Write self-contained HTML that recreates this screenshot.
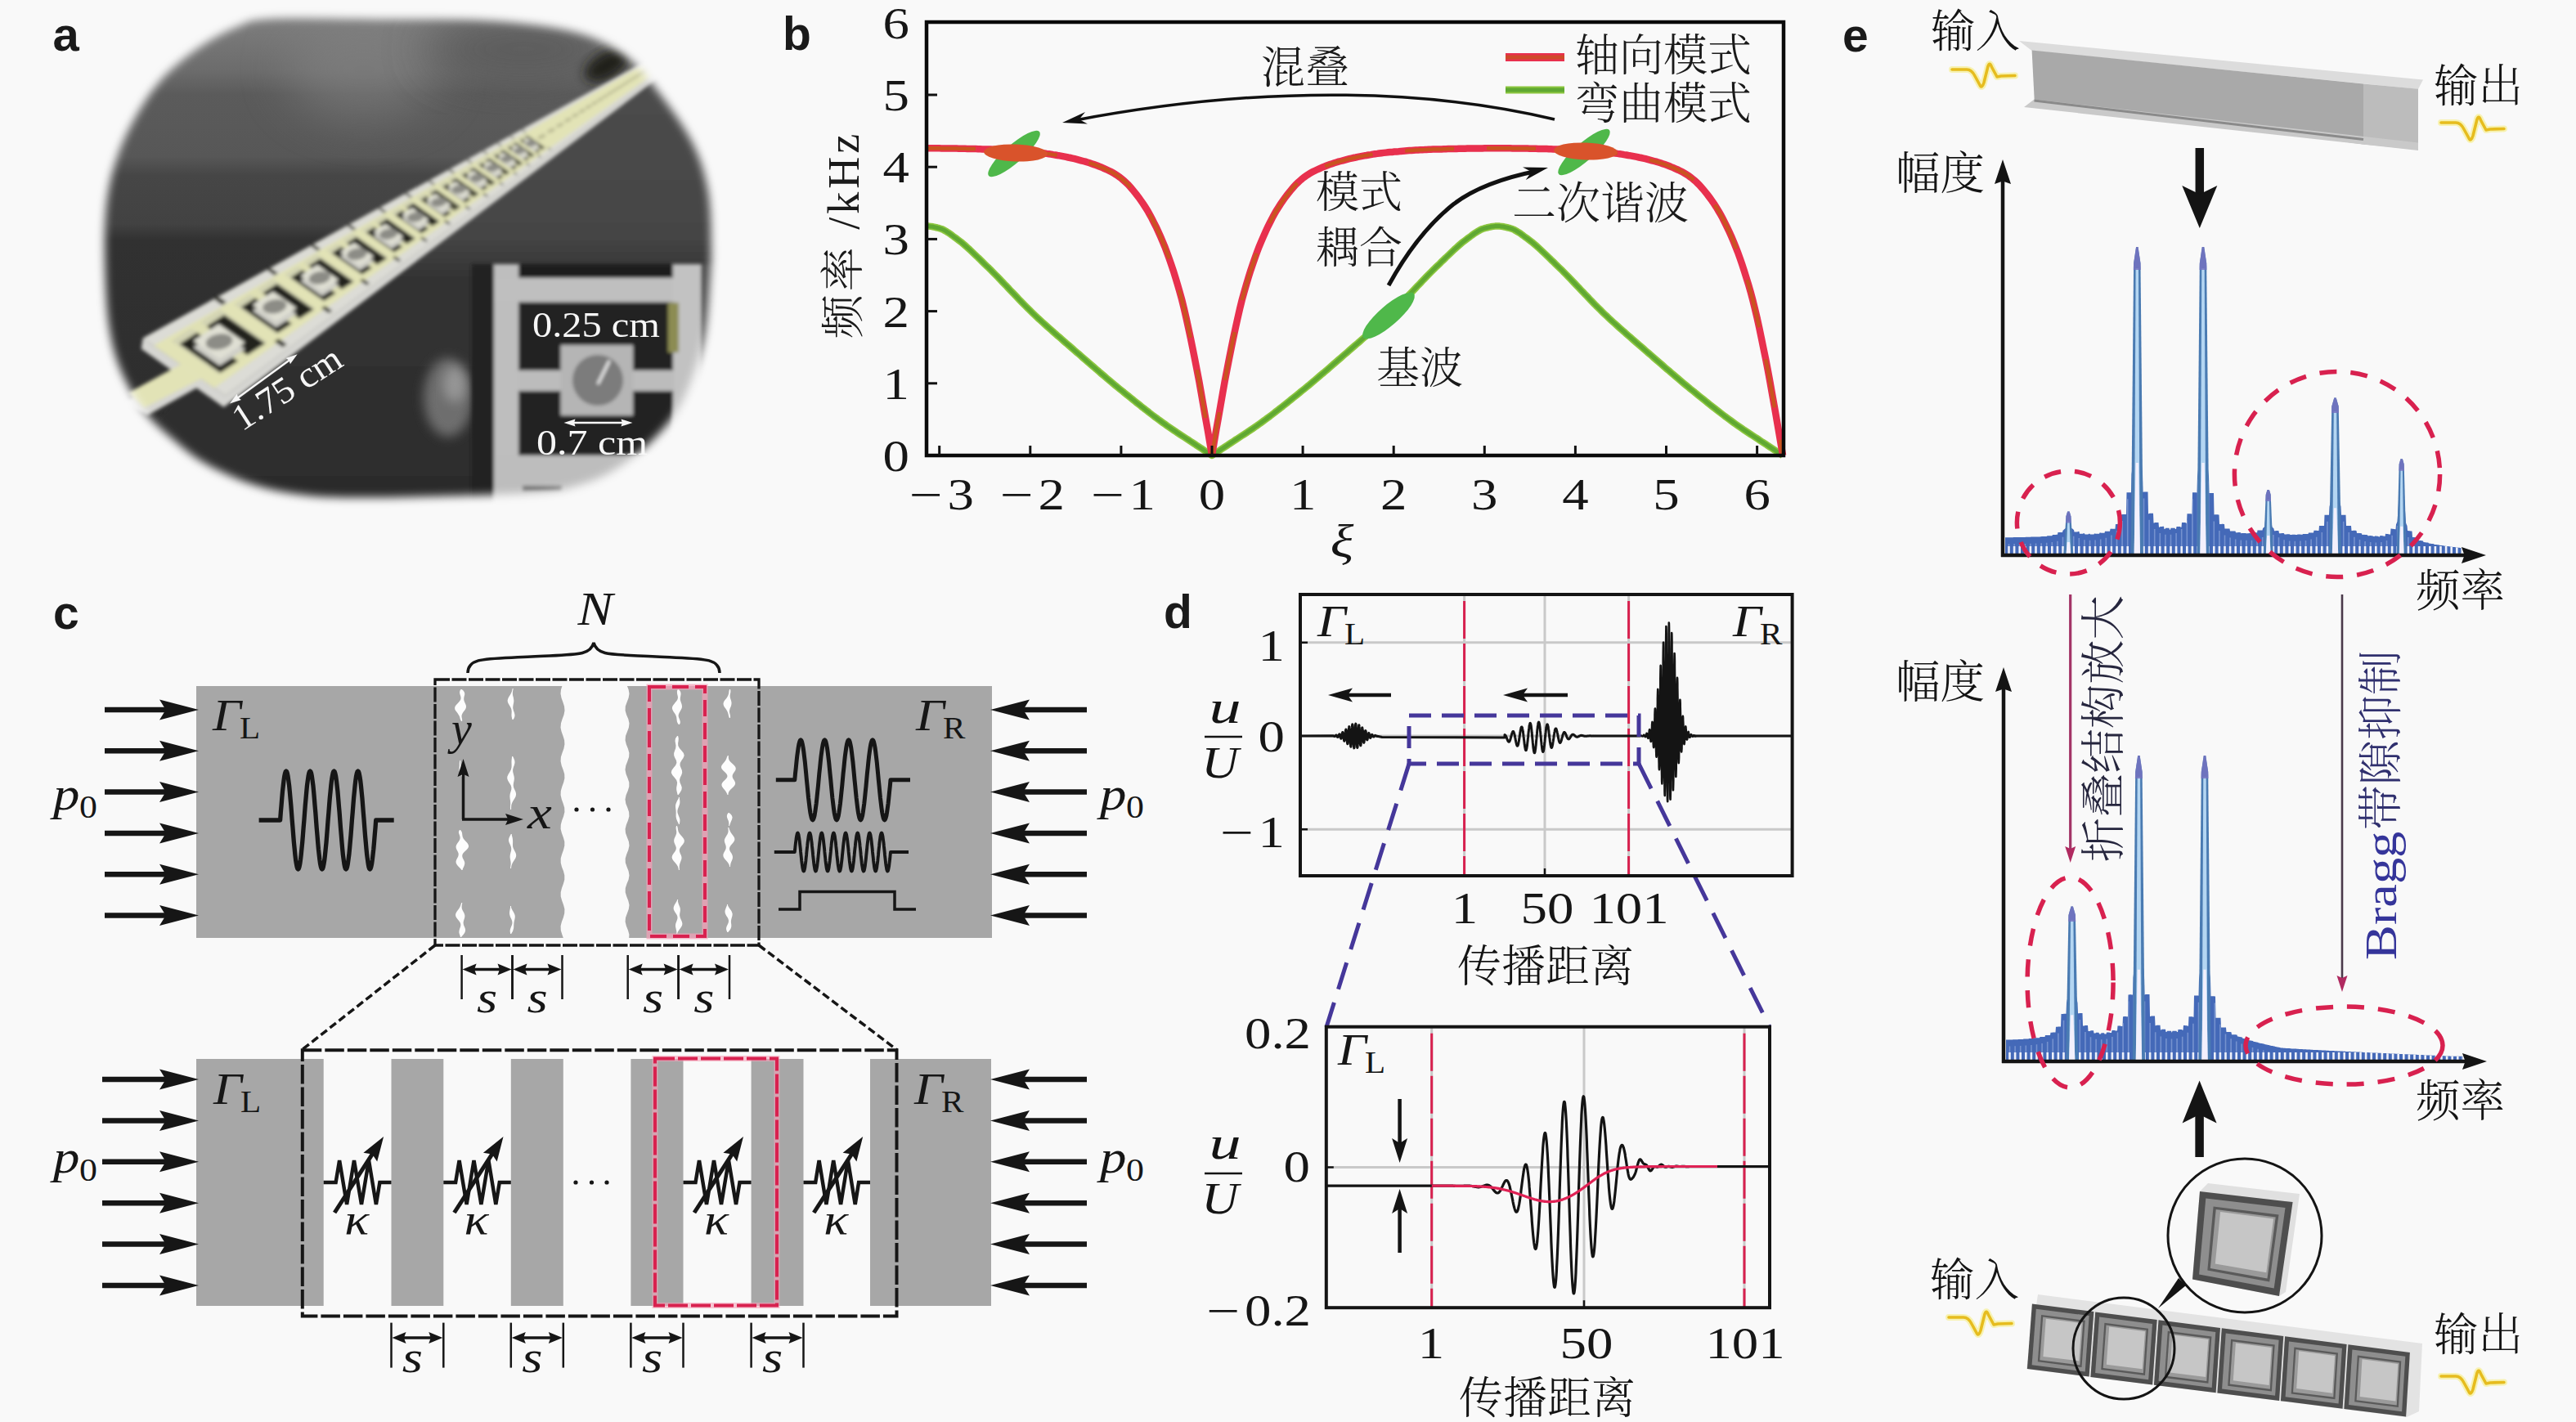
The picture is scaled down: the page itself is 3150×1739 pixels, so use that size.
<!DOCTYPE html>
<html lang="zh"><head><meta charset="utf-8"><title>figure</title>
<style>
html,body{margin:0;padding:0;background:#f9f9f9;}
body{width:3150px;height:1739px;overflow:hidden;}
svg{display:block;}
svg{font-family:"Liberation Serif","Noto Serif CJK SC",serif;font-weight:300;}
</style></head><body>
<svg width="3150" height="1739" viewBox="0 0 3150 1739">
<rect width="3150" height="1739" fill="#f9f9f9"/>
<g id="panel_a">
<defs>
<filter id="pblur" x="-10%" y="-10%" width="120%" height="120%"><feGaussianBlur stdDeviation="5.5"/></filter>
<filter id="b2" x="-20%" y="-20%" width="140%" height="140%"><feGaussianBlur stdDeviation="2.2"/></filter>
<filter id="b6" x="-30%" y="-30%" width="160%" height="160%"><feGaussianBlur stdDeviation="7"/></filter>
<filter id="b20" x="-50%" y="-50%" width="200%" height="200%"><feGaussianBlur stdDeviation="28"/></filter>
<mask id="pmask" maskUnits="userSpaceOnUse" x="90" y="0" width="830" height="660">
<path d="M330.3 23.0 C301.7 24.6 303.9 27.2 289.5 33.0 C275.0 38.8 258.8 47.4 243.6 58.0 C228.4 68.6 211.4 81.8 198.1 96.6 C184.8 111.4 173.3 129.6 163.8 146.7 C154.3 163.8 146.7 180.8 141.0 199.0 C135.3 217.2 131.7 234.2 129.6 256.0 C127.5 277.8 127.8 305.5 128.5 329.7 C129.2 354.0 130.5 380.9 133.7 401.5 C137.0 422.2 141.1 437.0 148.0 453.6 C155.0 470.3 164.8 487.6 175.2 501.4 C185.7 515.2 197.8 525.4 210.7 536.4 C223.5 547.4 234.9 557.8 252.3 567.4 C269.6 577.0 293.9 587.6 314.6 594.1 C335.3 600.5 355.4 603.6 376.5 606.0 C397.7 608.4 412.5 608.5 441.3 608.6 C470.0 608.7 513.7 607.6 548.9 606.6 C584.1 605.6 627.4 604.5 652.6 602.7 C677.7 600.8 684.1 599.9 699.7 595.7 C715.4 591.5 730.9 586.2 746.5 577.3 C762.2 568.3 780.1 554.9 793.9 542.0 C807.7 529.1 819.9 515.0 829.3 499.8 C838.8 484.6 845.0 466.3 850.4 450.7 C855.9 435.0 859.2 422.9 862.1 406.0 C864.9 389.1 866.3 367.0 867.5 349.4 C868.8 331.8 869.8 319.6 869.5 300.3 C869.2 280.9 869.4 254.2 865.7 233.4 C861.9 212.6 857.0 195.4 847.0 175.4 C837.0 155.4 819.4 131.2 805.6 113.3 C791.8 95.3 781.4 80.1 764.1 67.7 C746.7 55.4 729.4 46.1 701.7 39.0 C674.0 32.0 638.1 27.8 597.9 25.2 C557.8 22.6 505.5 23.8 460.9 23.4 C416.3 23.1 358.8 21.4 330.3 23.0Z" fill="#fff" filter="url(#pblur)"/></mask>
<linearGradient id="bgA" x1="0" y1="0" x2="0" y2="660" gradientUnits="userSpaceOnUse">
<stop offset="0.03" stop-color="#7e7e7e"/><stop offset="0.13" stop-color="#6c6c6c"/><stop offset="0.175" stop-color="#5b5b5b"/><stop offset="0.29" stop-color="#575757"/>
<stop offset="0.325" stop-color="#464646"/><stop offset="0.415" stop-color="#424242"/><stop offset="0.445" stop-color="#313131"/><stop offset="1" stop-color="#2b2b2b"/></linearGradient>
<linearGradient id="bgB" x1="0" y1="0" x2="0" y2="660" gradientUnits="userSpaceOnUse">
<stop offset="0.12" stop-color="#4d4d4d"/><stop offset="0.44" stop-color="#454545"/><stop offset="0.52" stop-color="#323232"/><stop offset="1" stop-color="#2b2b2b"/></linearGradient>
</defs>
<g mask="url(#pmask)"><rect x="90" y="0" width="830" height="660" fill="url(#bgA)" stroke="none" stroke-width="0" />
<ellipse cx="445" cy="85" rx="95" ry="60" fill="#858585" opacity="0.55" filter="url(#b20)"/>
<ellipse cx="640" cy="60" rx="120" ry="40" fill="#555" opacity="0.8" filter="url(#b20)"/>
<ellipse cx="742" cy="80" rx="30" ry="16" fill="#1f1f14" opacity="0.95" filter="url(#b6)" transform="rotate(-30 742 80)"/>
<path d="M150 560 L232 470 L930 -10 L930 670 L100 670Z" fill="url(#bgB)" filter="url(#b2)"/>
<ellipse cx="548" cy="486" rx="30" ry="48" fill="#8a8a8a" opacity="0.7" filter="url(#b6)"/>
<ellipse cx="556" cy="470" rx="14" ry="22" fill="#b0b0b0" opacity="0.6" filter="url(#b6)"/>
<g filter="url(#b2)"><path d="M174.7 413.4 L172.7 426.4 L273.6 498 L822.3 82 L822.3 77 L275.6 484Z" fill="#d6d6d2"/>
<path d="M222 447 L252 468 L180 508 L150 494Z" fill="#d6d6d2"/>
<path d="M222 445 L250 461 L176 499 L156 481Z" fill="#e2e3b6"/>
<path d="M174.7 413.4 L806 65.6 L822.3 77 L275.6 484Z" fill="#dcdcd6"/>
<path d="M187.8 422.6 L808.1 67 L820.1 75.4 L262.1 474.6Z" fill="#e2e3b6"/>
<path d="M209.4 416.9 L268.9 378.2 L326.7 418.6 L267.2 457.3Z" fill="#d3d4b4"/>
<path d="M219.4 420.8 L274.2 385.1 L324.4 420.1 L269.5 455.9Z" fill="#24241c"/>
<path d="M232.6 400.7 L244 393.3 L303.5 434.9 L292.1 442.3Z" fill="#dfe0b4"/>
<path d="M236.3 424.7 L267.5 404.3 L299.8 426.9 L268.6 447.2Z" fill="#cfcfc8"/>
<path d="M236.3 416.7 L267.5 396.3 L299.8 418.9 L268.6 439.3Z" fill="#e0e0d4"/>
<ellipse cx="268" cy="417.8" rx="16.5" ry="9.5" fill="#8c8c86" transform="rotate(-10 268 417.8)"/>
<path d="M260.6 365.2 L265.9 361.8 L277 369.5 L271.6 373Z" fill="#34342a"/>
<path d="M345.6 424.7 L350.9 421.2 L340.7 414.1 L335.4 417.5Z" fill="#34342a"/>
<path d="M285.9 372.2 L333.7 341.1 L385.5 377.3 L337.8 408.4Z" fill="#d3d4b4"/>
<path d="M294.6 375.8 L338.7 347.1 L383.7 378.5 L339.6 407.2Z" fill="#24241c"/>
<path d="M304.4 359.1 L313.6 353.1 L367 390.4 L357.8 396.4Z" fill="#dfe0b4"/>
<path d="M308.7 380 L333.8 363.6 L362.8 383.9 L337.7 400.2Z" fill="#cfcfc8"/>
<path d="M308.7 372.8 L333.8 356.4 L362.8 376.7 L337.7 393.1Z" fill="#e0e0d4"/>
<ellipse cx="335.7" cy="374.8" rx="14.8" ry="8.5" fill="#8c8c86" transform="rotate(-10 335.7 374.8)"/>
<path d="M325.8 329.8 L330 327 L340 333.9 L335.7 336.7Z" fill="#34342a"/>
<path d="M402 383.1 L406.3 380.3 L397.2 373.9 L392.9 376.7Z" fill="#34342a"/>
<path d="M347.7 336.1 L386.9 310.5 L433.9 343.4 L394.7 368.9Z" fill="#d3d4b4"/>
<path d="M355.4 339.4 L391.6 315.9 L432.4 344.4 L396.3 368Z" fill="#24241c"/>
<path d="M362.8 325.3 L370.4 320.4 L418.8 354.2 L411.3 359.1Z" fill="#dfe0b4"/>
<path d="M367.4 343.8 L388 330.3 L414.3 348.7 L393.7 362.1Z" fill="#cfcfc8"/>
<path d="M367.4 337.3 L388 323.8 L414.3 342.2 L393.7 355.6Z" fill="#e0e0d4"/>
<ellipse cx="390.8" cy="339.7" rx="13.4" ry="7.7" fill="#8c8c86" transform="rotate(-10 390.8 339.7)"/>
<path d="M379.4 300.5 L382.9 298.2 L391.9 304.5 L388.3 306.8Z" fill="#34342a"/>
<path d="M448.5 348.9 L452 346.6 L443.7 340.8 L440.2 343.1Z" fill="#34342a"/>
<path d="M398.6 306.3 L431.4 285 L474.4 315.1 L441.7 336.4Z" fill="#d3d4b4"/>
<path d="M405.6 309.5 L435.8 289.8 L473.2 315.9 L442.9 335.6Z" fill="#24241c"/>
<path d="M411.2 297.2 L417.5 293.1 L461.8 324.1 L455.5 328.2Z" fill="#dfe0b4"/>
<path d="M415.9 313.8 L433.1 302.6 L457.2 319.4 L439.9 330.6Z" fill="#cfcfc8"/>
<path d="M415.9 307.9 L433.1 296.7 L457.2 313.5 L439.9 324.7Z" fill="#e0e0d4"/>
<ellipse cx="436.5" cy="310.7" rx="12.3" ry="7.1" fill="#8c8c86" transform="rotate(-10 436.5 310.7)"/>
<path d="M424.2 276 L427.2 274.1 L435.4 279.8 L432.4 281.7Z" fill="#34342a"/>
<path d="M487.5 320.2 L490.4 318.3 L482.8 313 L479.9 314.9Z" fill="#34342a"/>
<path d="M441.3 281.4 L469.1 263.3 L508.8 291 L481 309.1Z" fill="#d3d4b4"/>
<path d="M447.7 284.3 L473.3 267.6 L507.7 291.7 L482.1 308.4Z" fill="#24241c"/>
<path d="M452 273.7 L457.3 270.2 L498.1 298.7 L492.8 302.2Z" fill="#dfe0b4"/>
<path d="M456.7 288.7 L471.3 279.2 L493.4 294.7 L478.8 304.2Z" fill="#cfcfc8"/>
<path d="M456.7 283.2 L471.3 273.7 L493.4 289.2 L478.8 298.7Z" fill="#e0e0d4"/>
<ellipse cx="475.1" cy="286.2" rx="11.3" ry="6.5" fill="#8c8c86" transform="rotate(-10 475.1 286.2)"/>
<path d="M462.3 255.1 L464.8 253.5 L472.4 258.8 L469.9 260.4Z" fill="#34342a"/>
<path d="M520.6 295.9 L523.1 294.3 L516.1 289.4 L513.6 291Z" fill="#34342a"/>
<path d="M477.7 260.2 L501.5 244.6 L538.3 270.3 L514.4 285.9Z" fill="#d3d4b4"/>
<path d="M483.5 263 L505.5 248.6 L537.4 270.9 L515.4 285.3Z" fill="#24241c"/>
<path d="M486.8 253.5 L491.4 250.5 L529.2 277 L524.6 280Z" fill="#dfe0b4"/>
<path d="M491.4 267.2 L504 259.1 L524.5 273.4 L512 281.6Z" fill="#cfcfc8"/>
<path d="M491.4 262.2 L504 254 L524.5 268.4 L512 276.5Z" fill="#e0e0d4"/>
<ellipse cx="508" cy="265.3" rx="10.5" ry="6" fill="#8c8c86" transform="rotate(-10 508 265.3)"/>
<path d="M495 237.2 L497.2 235.8 L504.2 240.7 L502.1 242.1Z" fill="#34342a"/>
<path d="M549.1 275 L551.2 273.6 L544.8 269.1 L542.6 270.5Z" fill="#34342a"/>
<path d="M509 241.9 L529.7 228.4 L563.9 252.4 L543.2 265.9Z" fill="#d3d4b4"/>
<path d="M514.3 244.6 L533.4 232.1 L563.2 252.9 L544 265.4Z" fill="#4a4a38"/>
<path d="M516.8 236.1 L520.8 233.5 L556.1 258.2 L552.1 260.8Z" fill="#dfe0b4"/>
<path d="M521.4 248.8 L532.3 241.7 L551.5 255.1 L540.6 262.2Z" fill="#cfcfc8"/>
<path d="M521.4 244 L532.3 236.9 L551.5 250.3 L540.6 257.4Z" fill="#e0e0d4"/>
<ellipse cx="536.5" cy="247.2" rx="9.8" ry="5.6" fill="#8c8c86" transform="rotate(-10 536.5 247.2)"/>
<path d="M523.5 221.6 L525.3 220.4 L531.9 225 L530 226.2Z" fill="#34342a"/>
<path d="M573.9 256.8 L575.7 255.6 L569.7 251.4 L567.8 252.6Z" fill="#34342a"/>
<path d="M536.2 226.1 L554.3 214.2 L586.4 236.7 L568.3 248.5Z" fill="#d3d4b4"/>
<path d="M541.1 228.6 L557.9 217.7 L585.7 237.1 L569 248.1Z" fill="#4a4a38"/>
<path d="M543 221 L546.5 218.7 L579.6 241.8 L576.1 244.1Z" fill="#dfe0b4"/>
<path d="M547.6 232.7 L557.1 226.4 L575 239 L565.5 245.2Z" fill="#cfcfc8"/>
<path d="M547.6 228.2 L557.1 222 L575 234.5 L565.5 240.8Z" fill="#e0e0d4"/>
<ellipse cx="561.3" cy="231.4" rx="9.2" ry="5.3" fill="#8c8c86" transform="rotate(-10 561.3 231.4)"/>
<path d="M548.4 207.9 L550 206.8 L556.2 211.1 L554.5 212.2Z" fill="#34342a"/>
<path d="M595.6 240.9 L597.2 239.8 L591.6 235.9 L589.9 236.9Z" fill="#34342a"/>
<path d="M560.1 212.1 L576.1 201.7 L606.3 222.8 L590.2 233.3Z" fill="#d3d4b4"/>
<path d="M564.7 214.5 L579.5 204.9 L605.7 223.2 L590.8 232.8Z" fill="#4a4a38"/>
<path d="M566.1 207.6 L569.2 205.6 L600.2 227.3 L597.2 229.3Z" fill="#dfe0b4"/>
<path d="M570.5 218.5 L579 213 L595.8 224.8 L587.4 230.3Z" fill="#cfcfc8"/>
<path d="M570.5 214.3 L579 208.8 L595.8 220.6 L587.4 226.1Z" fill="#e0e0d4"/>
<ellipse cx="583.2" cy="217.5" rx="8.6" ry="5" fill="#8c8c86" transform="rotate(-10 583.2 217.5)"/>
<path d="M570.4 195.8 L571.9 194.9 L577.7 198.9 L576.2 199.8Z" fill="#34342a"/>
<path d="M614.8 226.8 L616.3 225.9 L610.9 222.2 L609.5 223.1Z" fill="#34342a"/>
<path d="M581.2 199.8 L595.5 190.5 L624 210.4 L609.7 219.7Z" fill="#d3d4b4"/>
<path d="M585.5 202.1 L598.7 193.5 L623.4 210.8 L610.2 219.4Z" fill="#4a4a38"/>
<path d="M586.5 195.8 L589.3 194 L618.6 214.5 L615.9 216.3Z" fill="#dfe0b4"/>
<path d="M590.9 206 L598.4 201.1 L614.3 212.2 L606.8 217.1Z" fill="#cfcfc8"/>
<path d="M590.9 202 L598.4 197.1 L614.3 208.3 L606.8 213.1Z" fill="#e0e0d4"/>
<ellipse cx="602.6" cy="205.1" rx="8.1" ry="4.7" fill="#8c8c86" transform="rotate(-10 602.6 205.1)"/>
<path d="M590.1 185 L591.3 184.2 L596.8 188 L595.5 188.8Z" fill="#34342a"/>
<path d="M631.9 214.3 L633.2 213.5 L628.2 209.9 L626.9 210.8Z" fill="#34342a"/>
<path d="M600 188.9 L612.8 180.5 L639.8 199.4 L627 207.7Z" fill="#d3d4b4"/>
<path d="M604.1 191 L615.9 183.3 L639.3 199.7 L627.5 207.4Z" fill="#4a4a38"/>
<path d="M604.8 185.2 L607.3 183.6 L635 203 L632.6 204.6Z" fill="#dfe0b4"/>
<path d="M609 194.8 L615.7 190.4 L630.8 200.9 L624.1 205.3Z" fill="#cfcfc8"/>
<path d="M609 191 L615.7 186.7 L630.8 197.2 L624.1 201.6Z" fill="#e0e0d4"/>
<ellipse cx="619.9" cy="194.1" rx="7.7" ry="4.4" fill="#8c8c86" transform="rotate(-10 619.9 194.1)"/>
<path d="M607.6 175.3 L608.8 174.6 L613.9 178.2 L612.8 178.9Z" fill="#34342a"/>
<path d="M647.3 203.1 L648.4 202.3 L643.7 199 L642.5 199.7Z" fill="#34342a"/>
<path d="M616.9 179 L628.5 171.5 L654.1 189.4 L642.5 196.9Z" fill="#d3d4b4"/>
<path d="M620.8 181.1 L631.4 174.2 L653.6 189.7 L643 196.6Z" fill="#4a4a38"/>
<path d="M621.2 175.7 L623.4 174.3 L649.8 192.7 L647.6 194.1Z" fill="#dfe0b4"/>
<path d="M625.3 184.7 L631.4 180.8 L645.7 190.8 L639.6 194.7Z" fill="#cfcfc8"/>
<path d="M625.3 181.2 L631.4 177.2 L645.7 187.2 L639.6 191.2Z" fill="#e0e0d4"/>
<ellipse cx="635.5" cy="184.2" rx="7.3" ry="4.2" fill="#8c8c86" transform="rotate(-10 635.5 184.2)"/>
<path d="M623.5 166.6 L624.5 166 L629.4 169.4 L628.4 170Z" fill="#34342a"/>
<path d="M661.1 192.9 L662.1 192.3 L657.6 189.1 L656.6 189.8Z" fill="#34342a"/>
<path d="M632.2 170.1 L642.6 163.3 L667 180.4 L656.5 187.2Z" fill="#d3d4b4"/>
<path d="M635.8 172.1 L645.4 165.9 L666.6 180.6 L656.9 186.9Z" fill="#4a4a38"/>
<path d="M636 167.2 L638 165.8 L663.1 183.4 L661.1 184.7Z" fill="#dfe0b4"/>
<path d="M640 175.7 L645.5 172.1 L659.1 181.6 L653.6 185.2Z" fill="#cfcfc8"/>
<path d="M640 172.3 L645.5 168.7 L659.1 178.2 L653.6 181.8Z" fill="#e0e0d4"/>
<ellipse cx="649.6" cy="175.3" rx="7" ry="4" fill="#8c8c86" transform="rotate(-10 649.6 175.3)"/>
<path d="M637.8 158.7 L638.8 158.1 L643.4 161.4 L642.5 162Z" fill="#34342a"/>
<path d="M673.6 183.8 L674.6 183.2 L670.3 180.2 L669.3 180.8Z" fill="#34342a"/>
<ellipse cx="662.4" cy="167.1" rx="5.2" ry="2.4" fill="#9a9a78" opacity="0.55" transform="rotate(-25 662.4 167.1)"/>
<ellipse cx="674" cy="159.7" rx="5" ry="2.3" fill="#9a9a78" opacity="0.55" transform="rotate(-25 674 159.7)"/>
<ellipse cx="684.7" cy="152.9" rx="4.8" ry="2.2" fill="#9a9a78" opacity="0.55" transform="rotate(-25 684.7 152.9)"/>
<ellipse cx="694.5" cy="146.7" rx="4.6" ry="2.1" fill="#9a9a78" opacity="0.55" transform="rotate(-25 694.5 146.7)"/>
<ellipse cx="703.6" cy="140.9" rx="4.4" ry="2" fill="#9a9a78" opacity="0.55" transform="rotate(-25 703.6 140.9)"/>
<ellipse cx="711.9" cy="135.6" rx="4.2" ry="2" fill="#9a9a78" opacity="0.55" transform="rotate(-25 711.9 135.6)"/>
<ellipse cx="719.7" cy="130.7" rx="4.1" ry="1.9" fill="#9a9a78" opacity="0.55" transform="rotate(-25 719.7 130.7)"/>
<ellipse cx="726.9" cy="126.1" rx="4" ry="1.8" fill="#9a9a78" opacity="0.55" transform="rotate(-25 726.9 126.1)"/>
<ellipse cx="733.7" cy="121.8" rx="3.8" ry="1.8" fill="#9a9a78" opacity="0.55" transform="rotate(-25 733.7 121.8)"/>
<ellipse cx="740" cy="117.8" rx="3.7" ry="1.7" fill="#9a9a78" opacity="0.55" transform="rotate(-25 740 117.8)"/>
<ellipse cx="745.9" cy="114" rx="3.6" ry="1.7" fill="#9a9a78" opacity="0.55" transform="rotate(-25 745.9 114)"/>
<ellipse cx="751.4" cy="110.5" rx="3.5" ry="1.6" fill="#9a9a78" opacity="0.55" transform="rotate(-25 751.4 110.5)"/>
<ellipse cx="756.7" cy="107.2" rx="3.4" ry="1.6" fill="#9a9a78" opacity="0.55" transform="rotate(-25 756.7 107.2)"/>
<ellipse cx="761.6" cy="104.1" rx="3.3" ry="1.5" fill="#9a9a78" opacity="0.55" transform="rotate(-25 761.6 104.1)"/>
<ellipse cx="766.2" cy="101.1" rx="3.2" ry="1.5" fill="#9a9a78" opacity="0.55" transform="rotate(-25 766.2 101.1)"/>
<ellipse cx="770.6" cy="98.3" rx="3.1" ry="1.4" fill="#9a9a78" opacity="0.55" transform="rotate(-25 770.6 98.3)"/>
<ellipse cx="774.8" cy="95.7" rx="3" ry="1.4" fill="#9a9a78" opacity="0.55" transform="rotate(-25 774.8 95.7)"/>
<ellipse cx="778.7" cy="93.2" rx="2.9" ry="1.4" fill="#9a9a78" opacity="0.55" transform="rotate(-25 778.7 93.2)"/>
<ellipse cx="782.4" cy="90.8" rx="2.9" ry="1.3" fill="#9a9a78" opacity="0.55" transform="rotate(-25 782.4 90.8)"/>
<ellipse cx="786" cy="88.5" rx="2.8" ry="1.3" fill="#9a9a78" opacity="0.55" transform="rotate(-25 786 88.5)"/>
<ellipse cx="789.4" cy="86.4" rx="2.7" ry="1.3" fill="#9a9a78" opacity="0.55" transform="rotate(-25 789.4 86.4)"/>
<ellipse cx="792.6" cy="84.3" rx="2.7" ry="1.2" fill="#9a9a78" opacity="0.55" transform="rotate(-25 792.6 84.3)"/></g>
<g filter="url(#b2)"><rect x="577" y="323" width="345" height="340" fill="#202020" stroke="none" stroke-width="0" />
<rect x="604" y="323" width="30" height="340" fill="#bebebe" stroke="none" stroke-width="0" />
<rect x="604" y="339.5" width="253" height="30" fill="#bfbfbf" stroke="none" stroke-width="0" />
<rect x="823" y="323" width="34" height="300" fill="#c2c2c2" stroke="none" stroke-width="0" />
<rect x="857" y="323" width="60" height="300" fill="#4a4a4a" stroke="none" stroke-width="0" />
<rect x="636.5" y="323" width="183" height="16.5" fill="#1b1b1b" stroke="none" stroke-width="0" />
<rect x="817" y="370" width="13" height="61" fill="#8c8c52" stroke="none" stroke-width="0" />
<rect x="634" y="453" width="190" height="25" fill="#bcbcbc" stroke="none" stroke-width="0" />
<rect x="685.5" y="422" width="88.5" height="86" fill="#b5b5b5" stroke="none" stroke-width="0" />
<circle cx="731" cy="465" r="31" fill="#7b7b7b"/>
<line x1="731" y1="469.8" x2="745.3" y2="441" stroke="#f6f6f6" stroke-width="3" />
<rect x="604" y="557" width="320" height="70" fill="#bdbdbd" stroke="none" stroke-width="0" />
<rect x="639" y="594" width="48" height="7" fill="#6a6a6a" stroke="none" stroke-width="0" /></g>
<text x="651" y="412" font-size="45" text-anchor="start" fill="#f6f6f6" textLength="156" lengthAdjust="spacingAndGlyphs">0.25 cm</text>
<text x="656" y="556" font-size="45" text-anchor="start" fill="#f6f6f6" textLength="136" lengthAdjust="spacingAndGlyphs">0.7 cm</text>
<line x1="696" y1="517" x2="767" y2="517" stroke="#f6f6f6" stroke-width="2.5" /><path d="M689.5 517 L703.5 512.5 L702.1 517 L703.5 521.5Z" fill="#f6f6f6"/><path d="M773.5 517 L759.5 521.5 L760.9 517 L759.5 512.5Z" fill="#f6f6f6"/>
<text x="296" y="528" font-size="45" text-anchor="start" fill="#f6f6f6" transform="rotate(-33 296 528)" textLength="150" lengthAdjust="spacingAndGlyphs">1.75 cm</text>
<line x1="287" y1="489.2" x2="357.6" y2="437.7" stroke="#f6f6f6" stroke-width="2.5" /><path d="M281 493.6 L289.7 481.7 L291.2 486.2 L295 489Z" fill="#f6f6f6"/><path d="M363.6 433.3 L354.9 445.2 L353.4 440.7 L349.6 437.9Z" fill="#f6f6f6"/></g>
<text x="64.5" y="61.5" font-size="58" text-anchor="start" fill="#1a1a1a" font-weight="bold" style='font-family:"Liberation Sans","Noto Sans CJK SC",sans-serif' >a</text>
</g>
<g id="panel_b">
<path d="M1133 276.5 L1135.6 276.6 L1138.2 276.9 L1140.8 277.3 L1143.5 277.9 L1146.1 278.5 L1148.7 279.2 L1151.3 280 L1154 281.2 L1156.6 282.7 L1159.2 284.3 L1161.8 286.1 L1164.5 288 L1167.1 290 L1169.7 291.8 L1172.3 293.8 L1175 295.8 L1177.6 298 L1180.2 300.3 L1182.8 302.6 L1185.5 305 L1188.1 307.5 L1190.7 310 L1193.3 312.5 L1196 315 L1198.6 317.6 L1201.2 320.1 L1203.8 322.7 L1206.4 325.2 L1209.1 327.7 L1211.7 330.3 L1214.3 332.9 L1216.9 335.6 L1219.6 338.3 L1222.2 341 L1224.8 343.7 L1227.4 346.5 L1230.1 349.2 L1232.7 352 L1235.3 354.8 L1237.9 357.5 L1240.6 360.3 L1243.2 363 L1245.8 365.8 L1248.4 368.5 L1251.1 371.2 L1253.7 373.9 L1256.3 376.5 L1258.9 379.1 L1261.6 381.7 L1264.2 384.2 L1266.8 386.7 L1269.4 389.2 L1272.1 391.6 L1274.7 394 L1277.3 396.4 L1279.9 398.7 L1282.6 401.1 L1285.2 403.4 L1287.8 405.7 L1290.4 408.1 L1293.1 410.4 L1295.7 412.6 L1298.3 414.9 L1300.9 417.2 L1303.5 419.5 L1306.2 421.7 L1308.8 424 L1311.4 426.3 L1314 428.6 L1316.7 430.9 L1319.3 433.1 L1321.9 435.4 L1324.5 437.7 L1327.2 440 L1329.8 442.3 L1332.4 444.5 L1335 446.8 L1337.7 449.1 L1340.3 451.4 L1342.9 453.6 L1345.5 455.9 L1348.2 458.1 L1350.8 460.3 L1353.4 462.6 L1356 464.8 L1358.7 467 L1361.3 469.2 L1363.9 471.4 L1366.5 473.5 L1369.2 475.7 L1371.8 477.8 L1374.4 479.9 L1377 482.1 L1379.7 484.2 L1382.3 486.3 L1384.9 488.4 L1387.5 490.5 L1390.1 492.6 L1392.8 494.7 L1395.4 496.8 L1398 498.8 L1400.6 500.9 L1403.3 502.9 L1405.9 505 L1408.5 507 L1411.1 509 L1413.8 510.9 L1416.4 512.9 L1419 514.8 L1421.6 516.7 L1424.3 518.6 L1426.9 520.5 L1429.5 522.3 L1432.1 524.1 L1434.8 525.9 L1437.4 527.6 L1440 529.4 L1442.6 531.1 L1445.3 532.8 L1447.9 534.5 L1450.5 536.2 L1453.1 537.9 L1455.8 539.7 L1458.4 541.4 L1461 543.1 L1463.6 544.9 L1466.3 546.6 L1468.9 548.3 L1471.5 550.1 L1474.1 551.8 L1476.8 553.5 L1479.4 555.3 L1482 557 L1484.6 555.3 L1487.2 553.5 L1489.9 551.8 L1492.5 550.1 L1495.1 548.3 L1497.7 546.6 L1500.4 544.9 L1503 543.1 L1505.6 541.4 L1508.2 539.7 L1510.9 537.9 L1513.5 536.2 L1516.1 534.5 L1518.7 532.8 L1521.4 531.1 L1524 529.4 L1526.6 527.6 L1529.2 525.9 L1531.9 524.1 L1534.5 522.3 L1537.1 520.5 L1539.7 518.6 L1542.4 516.7 L1545 514.8 L1547.6 512.9 L1550.2 510.9 L1552.9 509 L1555.5 507 L1558.1 505 L1560.7 502.9 L1563.4 500.9 L1566 498.8 L1568.6 496.8 L1571.2 494.7 L1573.9 492.6 L1576.5 490.5 L1579.1 488.4 L1581.7 486.3 L1584.3 484.2 L1587 482.1 L1589.6 479.9 L1592.2 477.8 L1594.8 475.7 L1597.5 473.5 L1600.1 471.4 L1602.7 469.2 L1605.3 467 L1608 464.8 L1610.6 462.6 L1613.2 460.3 L1615.8 458.1 L1618.5 455.9 L1621.1 453.6 L1623.7 451.4 L1626.3 449.1 L1629 446.8 L1631.6 444.5 L1634.2 442.3 L1636.8 440 L1639.5 437.7 L1642.1 435.4 L1644.7 433.1 L1647.3 430.9 L1650 428.6 L1652.6 426.3 L1655.2 424 L1657.8 421.7 L1660.5 419.5 L1663.1 417.2 L1665.7 414.9 L1668.3 412.6 L1670.9 410.4 L1673.6 408.1 L1676.2 405.7 L1678.8 403.4 L1681.4 401.1 L1684.1 398.7 L1686.7 396.4 L1689.3 394 L1691.9 391.6 L1694.6 389.2 L1697.2 386.7 L1699.8 384.2 L1702.4 381.7 L1705.1 379.1 L1707.7 376.5 L1710.3 373.9 L1712.9 371.2 L1715.6 368.5 L1718.2 365.8 L1720.8 363 L1723.4 360.3 L1726.1 357.5 L1728.7 354.8 L1731.3 352 L1733.9 349.2 L1736.6 346.5 L1739.2 343.7 L1741.8 341 L1744.4 338.3 L1747.1 335.6 L1749.7 332.9 L1752.3 330.3 L1754.9 327.7 L1757.6 325.2 L1760.2 322.7 L1762.8 320.1 L1765.4 317.6 L1768 315 L1770.7 312.5 L1773.3 310 L1775.9 307.5 L1778.5 305 L1781.2 302.6 L1783.8 300.3 L1786.4 298 L1789 295.8 L1791.7 293.8 L1794.3 291.8 L1796.9 290 L1799.5 288 L1802.2 286.1 L1804.8 284.3 L1807.4 282.7 L1810 281.2 L1812.7 280 L1815.3 279.2 L1817.9 278.5 L1820.5 277.9 L1823.2 277.3 L1825.8 276.9 L1828.4 276.6 L1831 276.5 L1833.7 276.6 L1836.3 276.9 L1838.9 277.3 L1841.5 277.9 L1844.2 278.5 L1846.8 279.2 L1849.4 280 L1852 281.2 L1854.6 282.7 L1857.3 284.3 L1859.9 286.1 L1862.5 288 L1865.1 290 L1867.8 291.8 L1870.4 293.8 L1873 295.8 L1875.6 298 L1878.3 300.3 L1880.9 302.6 L1883.5 305 L1886.1 307.5 L1888.8 310 L1891.4 312.5 L1894 315 L1896.6 317.6 L1899.3 320.1 L1901.9 322.7 L1904.5 325.2 L1907.1 327.7 L1909.8 330.3 L1912.4 332.9 L1915 335.6 L1917.6 338.3 L1920.3 341 L1922.9 343.7 L1925.5 346.5 L1928.1 349.2 L1930.8 352 L1933.4 354.8 L1936 357.5 L1938.6 360.3 L1941.3 363 L1943.9 365.8 L1946.5 368.5 L1949.1 371.2 L1951.7 373.9 L1954.4 376.5 L1957 379.1 L1959.6 381.7 L1962.2 384.2 L1964.9 386.7 L1967.5 389.2 L1970.1 391.6 L1972.7 394 L1975.4 396.4 L1978 398.7 L1980.6 401.1 L1983.2 403.4 L1985.9 405.7 L1988.5 408.1 L1991.1 410.4 L1993.7 412.6 L1996.4 414.9 L1999 417.2 L2001.6 419.5 L2004.2 421.7 L2006.9 424 L2009.5 426.3 L2012.1 428.6 L2014.7 430.9 L2017.4 433.1 L2020 435.4 L2022.6 437.7 L2025.2 440 L2027.9 442.3 L2030.5 444.5 L2033.1 446.8 L2035.7 449.1 L2038.4 451.4 L2041 453.6 L2043.6 455.9 L2046.2 458.1 L2048.8 460.3 L2051.5 462.6 L2054.1 464.8 L2056.7 467 L2059.3 469.2 L2062 471.4 L2064.6 473.5 L2067.2 475.7 L2069.8 477.8 L2072.5 479.9 L2075.1 482.1 L2077.7 484.2 L2080.3 486.3 L2083 488.4 L2085.6 490.5 L2088.2 492.6 L2090.8 494.7 L2093.5 496.8 L2096.1 498.8 L2098.7 500.9 L2101.3 502.9 L2104 505 L2106.6 507 L2109.2 509 L2111.8 510.9 L2114.5 512.9 L2117.1 514.8 L2119.7 516.7 L2122.3 518.6 L2125 520.5 L2127.6 522.3 L2130.2 524.1 L2132.8 525.9 L2135.4 527.6 L2138.1 529.4 L2140.7 531.1 L2143.3 532.8 L2145.9 534.5 L2148.6 536.2 L2151.2 537.9 L2153.8 539.7 L2156.4 541.4 L2159.1 543.1 L2161.7 544.9 L2164.3 546.6 L2166.9 548.3 L2169.6 550.1 L2172.2 551.8 L2174.8 553.5 L2177.4 555.3 L2180.1 557" stroke="#8cc63f" stroke-width="8.5" fill="none" stroke-linejoin="round"/>
<path d="M1133 276.5 L1135.6 276.6 L1138.2 276.9 L1140.8 277.3 L1143.5 277.9 L1146.1 278.5 L1148.7 279.2 L1151.3 280 L1154 281.2 L1156.6 282.7 L1159.2 284.3 L1161.8 286.1 L1164.5 288 L1167.1 290 L1169.7 291.8 L1172.3 293.8 L1175 295.8 L1177.6 298 L1180.2 300.3 L1182.8 302.6 L1185.5 305 L1188.1 307.5 L1190.7 310 L1193.3 312.5 L1196 315 L1198.6 317.6 L1201.2 320.1 L1203.8 322.7 L1206.4 325.2 L1209.1 327.7 L1211.7 330.3 L1214.3 332.9 L1216.9 335.6 L1219.6 338.3 L1222.2 341 L1224.8 343.7 L1227.4 346.5 L1230.1 349.2 L1232.7 352 L1235.3 354.8 L1237.9 357.5 L1240.6 360.3 L1243.2 363 L1245.8 365.8 L1248.4 368.5 L1251.1 371.2 L1253.7 373.9 L1256.3 376.5 L1258.9 379.1 L1261.6 381.7 L1264.2 384.2 L1266.8 386.7 L1269.4 389.2 L1272.1 391.6 L1274.7 394 L1277.3 396.4 L1279.9 398.7 L1282.6 401.1 L1285.2 403.4 L1287.8 405.7 L1290.4 408.1 L1293.1 410.4 L1295.7 412.6 L1298.3 414.9 L1300.9 417.2 L1303.5 419.5 L1306.2 421.7 L1308.8 424 L1311.4 426.3 L1314 428.6 L1316.7 430.9 L1319.3 433.1 L1321.9 435.4 L1324.5 437.7 L1327.2 440 L1329.8 442.3 L1332.4 444.5 L1335 446.8 L1337.7 449.1 L1340.3 451.4 L1342.9 453.6 L1345.5 455.9 L1348.2 458.1 L1350.8 460.3 L1353.4 462.6 L1356 464.8 L1358.7 467 L1361.3 469.2 L1363.9 471.4 L1366.5 473.5 L1369.2 475.7 L1371.8 477.8 L1374.4 479.9 L1377 482.1 L1379.7 484.2 L1382.3 486.3 L1384.9 488.4 L1387.5 490.5 L1390.1 492.6 L1392.8 494.7 L1395.4 496.8 L1398 498.8 L1400.6 500.9 L1403.3 502.9 L1405.9 505 L1408.5 507 L1411.1 509 L1413.8 510.9 L1416.4 512.9 L1419 514.8 L1421.6 516.7 L1424.3 518.6 L1426.9 520.5 L1429.5 522.3 L1432.1 524.1 L1434.8 525.9 L1437.4 527.6 L1440 529.4 L1442.6 531.1 L1445.3 532.8 L1447.9 534.5 L1450.5 536.2 L1453.1 537.9 L1455.8 539.7 L1458.4 541.4 L1461 543.1 L1463.6 544.9 L1466.3 546.6 L1468.9 548.3 L1471.5 550.1 L1474.1 551.8 L1476.8 553.5 L1479.4 555.3 L1482 557 L1484.6 555.3 L1487.2 553.5 L1489.9 551.8 L1492.5 550.1 L1495.1 548.3 L1497.7 546.6 L1500.4 544.9 L1503 543.1 L1505.6 541.4 L1508.2 539.7 L1510.9 537.9 L1513.5 536.2 L1516.1 534.5 L1518.7 532.8 L1521.4 531.1 L1524 529.4 L1526.6 527.6 L1529.2 525.9 L1531.9 524.1 L1534.5 522.3 L1537.1 520.5 L1539.7 518.6 L1542.4 516.7 L1545 514.8 L1547.6 512.9 L1550.2 510.9 L1552.9 509 L1555.5 507 L1558.1 505 L1560.7 502.9 L1563.4 500.9 L1566 498.8 L1568.6 496.8 L1571.2 494.7 L1573.9 492.6 L1576.5 490.5 L1579.1 488.4 L1581.7 486.3 L1584.3 484.2 L1587 482.1 L1589.6 479.9 L1592.2 477.8 L1594.8 475.7 L1597.5 473.5 L1600.1 471.4 L1602.7 469.2 L1605.3 467 L1608 464.8 L1610.6 462.6 L1613.2 460.3 L1615.8 458.1 L1618.5 455.9 L1621.1 453.6 L1623.7 451.4 L1626.3 449.1 L1629 446.8 L1631.6 444.5 L1634.2 442.3 L1636.8 440 L1639.5 437.7 L1642.1 435.4 L1644.7 433.1 L1647.3 430.9 L1650 428.6 L1652.6 426.3 L1655.2 424 L1657.8 421.7 L1660.5 419.5 L1663.1 417.2 L1665.7 414.9 L1668.3 412.6 L1670.9 410.4 L1673.6 408.1 L1676.2 405.7 L1678.8 403.4 L1681.4 401.1 L1684.1 398.7 L1686.7 396.4 L1689.3 394 L1691.9 391.6 L1694.6 389.2 L1697.2 386.7 L1699.8 384.2 L1702.4 381.7 L1705.1 379.1 L1707.7 376.5 L1710.3 373.9 L1712.9 371.2 L1715.6 368.5 L1718.2 365.8 L1720.8 363 L1723.4 360.3 L1726.1 357.5 L1728.7 354.8 L1731.3 352 L1733.9 349.2 L1736.6 346.5 L1739.2 343.7 L1741.8 341 L1744.4 338.3 L1747.1 335.6 L1749.7 332.9 L1752.3 330.3 L1754.9 327.7 L1757.6 325.2 L1760.2 322.7 L1762.8 320.1 L1765.4 317.6 L1768 315 L1770.7 312.5 L1773.3 310 L1775.9 307.5 L1778.5 305 L1781.2 302.6 L1783.8 300.3 L1786.4 298 L1789 295.8 L1791.7 293.8 L1794.3 291.8 L1796.9 290 L1799.5 288 L1802.2 286.1 L1804.8 284.3 L1807.4 282.7 L1810 281.2 L1812.7 280 L1815.3 279.2 L1817.9 278.5 L1820.5 277.9 L1823.2 277.3 L1825.8 276.9 L1828.4 276.6 L1831 276.5 L1833.7 276.6 L1836.3 276.9 L1838.9 277.3 L1841.5 277.9 L1844.2 278.5 L1846.8 279.2 L1849.4 280 L1852 281.2 L1854.6 282.7 L1857.3 284.3 L1859.9 286.1 L1862.5 288 L1865.1 290 L1867.8 291.8 L1870.4 293.8 L1873 295.8 L1875.6 298 L1878.3 300.3 L1880.9 302.6 L1883.5 305 L1886.1 307.5 L1888.8 310 L1891.4 312.5 L1894 315 L1896.6 317.6 L1899.3 320.1 L1901.9 322.7 L1904.5 325.2 L1907.1 327.7 L1909.8 330.3 L1912.4 332.9 L1915 335.6 L1917.6 338.3 L1920.3 341 L1922.9 343.7 L1925.5 346.5 L1928.1 349.2 L1930.8 352 L1933.4 354.8 L1936 357.5 L1938.6 360.3 L1941.3 363 L1943.9 365.8 L1946.5 368.5 L1949.1 371.2 L1951.7 373.9 L1954.4 376.5 L1957 379.1 L1959.6 381.7 L1962.2 384.2 L1964.9 386.7 L1967.5 389.2 L1970.1 391.6 L1972.7 394 L1975.4 396.4 L1978 398.7 L1980.6 401.1 L1983.2 403.4 L1985.9 405.7 L1988.5 408.1 L1991.1 410.4 L1993.7 412.6 L1996.4 414.9 L1999 417.2 L2001.6 419.5 L2004.2 421.7 L2006.9 424 L2009.5 426.3 L2012.1 428.6 L2014.7 430.9 L2017.4 433.1 L2020 435.4 L2022.6 437.7 L2025.2 440 L2027.9 442.3 L2030.5 444.5 L2033.1 446.8 L2035.7 449.1 L2038.4 451.4 L2041 453.6 L2043.6 455.9 L2046.2 458.1 L2048.8 460.3 L2051.5 462.6 L2054.1 464.8 L2056.7 467 L2059.3 469.2 L2062 471.4 L2064.6 473.5 L2067.2 475.7 L2069.8 477.8 L2072.5 479.9 L2075.1 482.1 L2077.7 484.2 L2080.3 486.3 L2083 488.4 L2085.6 490.5 L2088.2 492.6 L2090.8 494.7 L2093.5 496.8 L2096.1 498.8 L2098.7 500.9 L2101.3 502.9 L2104 505 L2106.6 507 L2109.2 509 L2111.8 510.9 L2114.5 512.9 L2117.1 514.8 L2119.7 516.7 L2122.3 518.6 L2125 520.5 L2127.6 522.3 L2130.2 524.1 L2132.8 525.9 L2135.4 527.6 L2138.1 529.4 L2140.7 531.1 L2143.3 532.8 L2145.9 534.5 L2148.6 536.2 L2151.2 537.9 L2153.8 539.7 L2156.4 541.4 L2159.1 543.1 L2161.7 544.9 L2164.3 546.6 L2166.9 548.3 L2169.6 550.1 L2172.2 551.8 L2174.8 553.5 L2177.4 555.3 L2180.1 557" stroke="#5fa832" stroke-width="5" fill="none" stroke-linejoin="round"/>
<path d="M1133 181.3 L1135.6 181.3 L1138.2 181.3 L1140.8 181.3 L1143.5 181.3 L1146.1 181.3 L1148.7 181.3 L1151.3 181.4 L1154 181.4 L1156.6 181.4 L1159.2 181.5 L1161.8 181.5 L1164.5 181.5 L1167.1 181.6 L1169.7 181.6 L1172.3 181.7 L1175 181.7 L1177.6 181.8 L1180.2 181.8 L1182.8 181.9 L1185.5 182 L1188.1 182 L1190.7 182.1 L1193.3 182.1 L1196 182.2 L1198.6 182.3 L1201.2 182.4 L1203.8 182.4 L1206.4 182.5 L1209.1 182.6 L1211.7 182.6 L1214.3 182.7 L1216.9 182.8 L1219.6 182.9 L1222.2 183.1 L1224.8 183.2 L1227.4 183.3 L1230.1 183.5 L1232.7 183.6 L1235.3 183.8 L1237.9 184 L1240.6 184.1 L1243.2 184.3 L1245.8 184.5 L1248.4 184.7 L1251.1 184.9 L1253.7 185.2 L1256.3 185.4 L1258.9 185.6 L1261.6 185.9 L1264.2 186.1 L1266.8 186.3 L1269.4 186.6 L1272.1 186.9 L1274.7 187.2 L1277.3 187.5 L1279.9 187.9 L1282.6 188.2 L1285.2 188.6 L1287.8 189.1 L1290.4 189.5 L1293.1 190 L1295.7 190.4 L1298.3 190.9 L1300.9 191.4 L1303.5 191.9 L1306.2 192.5 L1308.8 193 L1311.4 193.6 L1314 194.2 L1316.7 194.9 L1319.3 195.6 L1321.9 196.3 L1324.5 197 L1327.2 197.7 L1329.8 198.5 L1332.4 199.3 L1335 200.2 L1337.7 201.1 L1340.3 202 L1342.9 203 L1345.5 204.1 L1348.2 205.1 L1350.8 206.3 L1353.4 207.5 L1356 208.7 L1358.7 210.1 L1361.3 211.5 L1363.9 213.1 L1366.5 214.8 L1369.2 216.7 L1371.8 218.7 L1374.4 221 L1377 223.4 L1379.7 226 L1382.3 228.9 L1384.9 231.9 L1387.5 235.1 L1390.1 238.4 L1392.8 241.9 L1395.4 245.6 L1398 249.4 L1400.6 253.4 L1403.3 257.7 L1405.9 262.3 L1408.5 267.1 L1411.1 272.3 L1413.8 277.6 L1416.4 283.3 L1419 289.1 L1421.6 295.2 L1424.3 301.6 L1426.9 308.4 L1429.5 315.6 L1432.1 323.2 L1434.8 331.1 L1437.4 339.4 L1440 348.1 L1442.6 357.2 L1445.3 366.9 L1447.9 377.5 L1450.5 388.8 L1453.1 400.7 L1455.8 413.1 L1458.4 425.9 L1461 438.9 L1463.6 452.2 L1466.3 466.3 L1468.9 481 L1471.5 496 L1474.1 510.9 L1476.8 526 L1479.4 541.4 L1482 557 L1484.6 541.4 L1487.2 526 L1489.9 510.9 L1492.5 496 L1495.1 481 L1497.7 466.3 L1500.4 452.2 L1503 438.9 L1505.6 425.9 L1508.2 413.1 L1510.9 400.7 L1513.5 388.8 L1516.1 377.5 L1518.7 366.9 L1521.4 357.2 L1524 348.1 L1526.6 339.4 L1529.2 331.1 L1531.9 323.2 L1534.5 315.6 L1537.1 308.4 L1539.7 301.6 L1542.4 295.2 L1545 289.1 L1547.6 283.3 L1550.2 277.6 L1552.9 272.3 L1555.5 267.1 L1558.1 262.3 L1560.7 257.7 L1563.4 253.4 L1566 249.4 L1568.6 245.6 L1571.2 241.9 L1573.9 238.4 L1576.5 235.1 L1579.1 231.9 L1581.7 228.9 L1584.3 226 L1587 223.4 L1589.6 221 L1592.2 218.7 L1594.8 216.7 L1597.5 214.8 L1600.1 213.1 L1602.7 211.5 L1605.3 210.1 L1608 208.7 L1610.6 207.5 L1613.2 206.3 L1615.8 205.1 L1618.5 204.1 L1621.1 203 L1623.7 202 L1626.3 201.1 L1629 200.2 L1631.6 199.3 L1634.2 198.5 L1636.8 197.7 L1639.5 197 L1642.1 196.3 L1644.7 195.6 L1647.3 194.9 L1650 194.2 L1652.6 193.6 L1655.2 193 L1657.8 192.5 L1660.5 191.9 L1663.1 191.4 L1665.7 190.9 L1668.3 190.4 L1670.9 190 L1673.6 189.5 L1676.2 189.1 L1678.8 188.6 L1681.4 188.2 L1684.1 187.9 L1686.7 187.5 L1689.3 187.2 L1691.9 186.9 L1694.6 186.6 L1697.2 186.3 L1699.8 186.1 L1702.4 185.9 L1705.1 185.6 L1707.7 185.4 L1710.3 185.2 L1712.9 184.9 L1715.6 184.7 L1718.2 184.5 L1720.8 184.3 L1723.4 184.1 L1726.1 184 L1728.7 183.8 L1731.3 183.6 L1733.9 183.5 L1736.6 183.3 L1739.2 183.2 L1741.8 183.1 L1744.4 182.9 L1747.1 182.8 L1749.7 182.7 L1752.3 182.6 L1754.9 182.6 L1757.6 182.5 L1760.2 182.4 L1762.8 182.4 L1765.4 182.3 L1768 182.2 L1770.7 182.1 L1773.3 182.1 L1775.9 182 L1778.5 182 L1781.2 181.9 L1783.8 181.8 L1786.4 181.8 L1789 181.7 L1791.7 181.7 L1794.3 181.6 L1796.9 181.6 L1799.5 181.5 L1802.2 181.5 L1804.8 181.5 L1807.4 181.4 L1810 181.4 L1812.7 181.4 L1815.3 181.3 L1817.9 181.3 L1820.5 181.3 L1823.2 181.3 L1825.8 181.3 L1828.4 181.3 L1831 181.3 L1833.7 181.3 L1836.3 181.3 L1838.9 181.3 L1841.5 181.3 L1844.2 181.3 L1846.8 181.3 L1849.4 181.4 L1852 181.4 L1854.6 181.4 L1857.3 181.5 L1859.9 181.5 L1862.5 181.5 L1865.1 181.6 L1867.8 181.6 L1870.4 181.7 L1873 181.7 L1875.6 181.8 L1878.3 181.8 L1880.9 181.9 L1883.5 182 L1886.1 182 L1888.8 182.1 L1891.4 182.1 L1894 182.2 L1896.6 182.3 L1899.3 182.4 L1901.9 182.4 L1904.5 182.5 L1907.1 182.6 L1909.8 182.6 L1912.4 182.7 L1915 182.8 L1917.6 182.9 L1920.3 183.1 L1922.9 183.2 L1925.5 183.3 L1928.1 183.5 L1930.8 183.6 L1933.4 183.8 L1936 184 L1938.6 184.1 L1941.3 184.3 L1943.9 184.5 L1946.5 184.7 L1949.1 184.9 L1951.7 185.2 L1954.4 185.4 L1957 185.6 L1959.6 185.9 L1962.2 186.1 L1964.9 186.3 L1967.5 186.6 L1970.1 186.9 L1972.7 187.2 L1975.4 187.5 L1978 187.9 L1980.6 188.2 L1983.2 188.6 L1985.9 189.1 L1988.5 189.5 L1991.1 190 L1993.7 190.4 L1996.4 190.9 L1999 191.4 L2001.6 191.9 L2004.2 192.5 L2006.9 193 L2009.5 193.6 L2012.1 194.2 L2014.7 194.9 L2017.4 195.6 L2020 196.3 L2022.6 197 L2025.2 197.7 L2027.9 198.5 L2030.5 199.3 L2033.1 200.2 L2035.7 201.1 L2038.4 202 L2041 203 L2043.6 204.1 L2046.2 205.1 L2048.8 206.3 L2051.5 207.5 L2054.1 208.7 L2056.7 210.1 L2059.3 211.5 L2062 213.1 L2064.6 214.8 L2067.2 216.7 L2069.8 218.7 L2072.5 221 L2075.1 223.4 L2077.7 226 L2080.3 228.9 L2083 231.9 L2085.6 235.1 L2088.2 238.4 L2090.8 241.9 L2093.5 245.6 L2096.1 249.4 L2098.7 253.4 L2101.3 257.7 L2104 262.3 L2106.6 267.1 L2109.2 272.3 L2111.8 277.6 L2114.5 283.3 L2117.1 289.1 L2119.7 295.2 L2122.3 301.6 L2125 308.4 L2127.6 315.6 L2130.2 323.2 L2132.8 331.1 L2135.4 339.4 L2138.1 348.1 L2140.7 357.2 L2143.3 366.9 L2145.9 377.5 L2148.6 388.8 L2151.2 400.7 L2153.8 413.1 L2156.4 425.9 L2159.1 438.9 L2161.7 452.2 L2164.3 466.3 L2166.9 481 L2169.6 496 L2172.2 510.9 L2174.8 526 L2177.4 541.4 L2180.1 557" stroke="#e8304e" stroke-width="8.5" fill="none" stroke-linejoin="miter"/>
<path d="M1133 181.3 L1135.6 181.3 L1138.2 181.3 L1140.8 181.3 L1143.5 181.3 L1146.1 181.3 L1148.7 181.3 L1151.3 181.4 L1154 181.4 L1156.6 181.4 L1159.2 181.5 L1161.8 181.5 L1164.5 181.5 L1167.1 181.6 L1169.7 181.6 L1172.3 181.7 L1175 181.7 L1177.6 181.8 L1180.2 181.8 L1182.8 181.9 L1185.5 182 L1188.1 182 L1190.7 182.1 L1193.3 182.1 L1196 182.2 L1198.6 182.3 L1201.2 182.4 L1203.8 182.4 L1206.4 182.5 L1209.1 182.6 L1211.7 182.6 L1214.3 182.7 L1216.9 182.8 L1219.6 182.9 L1222.2 183.1 L1224.8 183.2 L1227.4 183.3 L1230.1 183.5 L1232.7 183.6 L1235.3 183.8 L1237.9 184 L1240.6 184.1 L1243.2 184.3 L1245.8 184.5 L1248.4 184.7 L1251.1 184.9 L1253.7 185.2 L1256.3 185.4 L1258.9 185.6 L1261.6 185.9 L1264.2 186.1 L1266.8 186.3 L1269.4 186.6 L1272.1 186.9 L1274.7 187.2 L1277.3 187.5 L1279.9 187.9 L1282.6 188.2 L1285.2 188.6 L1287.8 189.1 L1290.4 189.5 L1293.1 190 L1295.7 190.4 L1298.3 190.9 L1300.9 191.4 L1303.5 191.9 L1306.2 192.5 L1308.8 193 L1311.4 193.6 L1314 194.2 L1316.7 194.9 L1319.3 195.6 L1321.9 196.3 L1324.5 197 L1327.2 197.7 L1329.8 198.5 L1332.4 199.3 L1335 200.2 L1337.7 201.1 L1340.3 202 L1342.9 203 L1345.5 204.1 L1348.2 205.1 L1350.8 206.3 L1353.4 207.5 L1356 208.7 L1358.7 210.1 L1361.3 211.5 L1363.9 213.1 L1366.5 214.8 L1369.2 216.7 L1371.8 218.7 L1374.4 221 L1377 223.4 L1379.7 226 L1382.3 228.9 L1384.9 231.9 L1387.5 235.1 L1390.1 238.4 L1392.8 241.9 L1395.4 245.6 L1398 249.4 L1400.6 253.4 L1403.3 257.7 L1405.9 262.3 L1408.5 267.1 L1411.1 272.3 L1413.8 277.6 L1416.4 283.3 L1419 289.1 L1421.6 295.2 L1424.3 301.6 L1426.9 308.4 L1429.5 315.6 L1432.1 323.2 L1434.8 331.1 L1437.4 339.4 L1440 348.1 L1442.6 357.2 L1445.3 366.9 L1447.9 377.5 L1450.5 388.8 L1453.1 400.7 L1455.8 413.1 L1458.4 425.9 L1461 438.9 L1463.6 452.2 L1466.3 466.3 L1468.9 481 L1471.5 496 L1474.1 510.9 L1476.8 526 L1479.4 541.4 L1482 557 L1484.6 541.4 L1487.2 526 L1489.9 510.9 L1492.5 496 L1495.1 481 L1497.7 466.3 L1500.4 452.2 L1503 438.9 L1505.6 425.9 L1508.2 413.1 L1510.9 400.7 L1513.5 388.8 L1516.1 377.5 L1518.7 366.9 L1521.4 357.2 L1524 348.1 L1526.6 339.4 L1529.2 331.1 L1531.9 323.2 L1534.5 315.6 L1537.1 308.4 L1539.7 301.6 L1542.4 295.2 L1545 289.1 L1547.6 283.3 L1550.2 277.6 L1552.9 272.3 L1555.5 267.1 L1558.1 262.3 L1560.7 257.7 L1563.4 253.4 L1566 249.4 L1568.6 245.6 L1571.2 241.9 L1573.9 238.4 L1576.5 235.1 L1579.1 231.9 L1581.7 228.9 L1584.3 226 L1587 223.4 L1589.6 221 L1592.2 218.7 L1594.8 216.7 L1597.5 214.8 L1600.1 213.1 L1602.7 211.5 L1605.3 210.1 L1608 208.7 L1610.6 207.5 L1613.2 206.3 L1615.8 205.1 L1618.5 204.1 L1621.1 203 L1623.7 202 L1626.3 201.1 L1629 200.2 L1631.6 199.3 L1634.2 198.5 L1636.8 197.7 L1639.5 197 L1642.1 196.3 L1644.7 195.6 L1647.3 194.9 L1650 194.2 L1652.6 193.6 L1655.2 193 L1657.8 192.5 L1660.5 191.9 L1663.1 191.4 L1665.7 190.9 L1668.3 190.4 L1670.9 190 L1673.6 189.5 L1676.2 189.1 L1678.8 188.6 L1681.4 188.2 L1684.1 187.9 L1686.7 187.5 L1689.3 187.2 L1691.9 186.9 L1694.6 186.6 L1697.2 186.3 L1699.8 186.1 L1702.4 185.9 L1705.1 185.6 L1707.7 185.4 L1710.3 185.2 L1712.9 184.9 L1715.6 184.7 L1718.2 184.5 L1720.8 184.3 L1723.4 184.1 L1726.1 184 L1728.7 183.8 L1731.3 183.6 L1733.9 183.5 L1736.6 183.3 L1739.2 183.2 L1741.8 183.1 L1744.4 182.9 L1747.1 182.8 L1749.7 182.7 L1752.3 182.6 L1754.9 182.6 L1757.6 182.5 L1760.2 182.4 L1762.8 182.4 L1765.4 182.3 L1768 182.2 L1770.7 182.1 L1773.3 182.1 L1775.9 182 L1778.5 182 L1781.2 181.9 L1783.8 181.8 L1786.4 181.8 L1789 181.7 L1791.7 181.7 L1794.3 181.6 L1796.9 181.6 L1799.5 181.5 L1802.2 181.5 L1804.8 181.5 L1807.4 181.4 L1810 181.4 L1812.7 181.4 L1815.3 181.3 L1817.9 181.3 L1820.5 181.3 L1823.2 181.3 L1825.8 181.3 L1828.4 181.3 L1831 181.3 L1833.7 181.3 L1836.3 181.3 L1838.9 181.3 L1841.5 181.3 L1844.2 181.3 L1846.8 181.3 L1849.4 181.4 L1852 181.4 L1854.6 181.4 L1857.3 181.5 L1859.9 181.5 L1862.5 181.5 L1865.1 181.6 L1867.8 181.6 L1870.4 181.7 L1873 181.7 L1875.6 181.8 L1878.3 181.8 L1880.9 181.9 L1883.5 182 L1886.1 182 L1888.8 182.1 L1891.4 182.1 L1894 182.2 L1896.6 182.3 L1899.3 182.4 L1901.9 182.4 L1904.5 182.5 L1907.1 182.6 L1909.8 182.6 L1912.4 182.7 L1915 182.8 L1917.6 182.9 L1920.3 183.1 L1922.9 183.2 L1925.5 183.3 L1928.1 183.5 L1930.8 183.6 L1933.4 183.8 L1936 184 L1938.6 184.1 L1941.3 184.3 L1943.9 184.5 L1946.5 184.7 L1949.1 184.9 L1951.7 185.2 L1954.4 185.4 L1957 185.6 L1959.6 185.9 L1962.2 186.1 L1964.9 186.3 L1967.5 186.6 L1970.1 186.9 L1972.7 187.2 L1975.4 187.5 L1978 187.9 L1980.6 188.2 L1983.2 188.6 L1985.9 189.1 L1988.5 189.5 L1991.1 190 L1993.7 190.4 L1996.4 190.9 L1999 191.4 L2001.6 191.9 L2004.2 192.5 L2006.9 193 L2009.5 193.6 L2012.1 194.2 L2014.7 194.9 L2017.4 195.6 L2020 196.3 L2022.6 197 L2025.2 197.7 L2027.9 198.5 L2030.5 199.3 L2033.1 200.2 L2035.7 201.1 L2038.4 202 L2041 203 L2043.6 204.1 L2046.2 205.1 L2048.8 206.3 L2051.5 207.5 L2054.1 208.7 L2056.7 210.1 L2059.3 211.5 L2062 213.1 L2064.6 214.8 L2067.2 216.7 L2069.8 218.7 L2072.5 221 L2075.1 223.4 L2077.7 226 L2080.3 228.9 L2083 231.9 L2085.6 235.1 L2088.2 238.4 L2090.8 241.9 L2093.5 245.6 L2096.1 249.4 L2098.7 253.4 L2101.3 257.7 L2104 262.3 L2106.6 267.1 L2109.2 272.3 L2111.8 277.6 L2114.5 283.3 L2117.1 289.1 L2119.7 295.2 L2122.3 301.6 L2125 308.4 L2127.6 315.6 L2130.2 323.2 L2132.8 331.1 L2135.4 339.4 L2138.1 348.1 L2140.7 357.2 L2143.3 366.9 L2145.9 377.5 L2148.6 388.8 L2151.2 400.7 L2153.8 413.1 L2156.4 425.9 L2159.1 438.9 L2161.7 452.2 L2164.3 466.3 L2166.9 481 L2169.6 496 L2172.2 510.9 L2174.8 526 L2177.4 541.4 L2180.1 557" stroke="#c9541f" stroke-width="4.5" fill="none" stroke-linejoin="miter" stroke-dasharray="60 40"/>
<ellipse cx="1240" cy="188" rx="41" ry="11" fill="#4fb84a" transform="rotate(-41 1240 188)"/><ellipse cx="1242" cy="187" rx="39" ry="10.5" fill="#d9532b" transform="rotate(2 1242 187)"/>
<ellipse cx="1937" cy="186" rx="41" ry="11" fill="#4fb84a" transform="rotate(-41 1937 186)"/><ellipse cx="1939" cy="185" rx="39" ry="10.5" fill="#d9532b" transform="rotate(2 1939 185)"/>
<ellipse cx="1698" cy="386" rx="41" ry="12" fill="#4fb84a" transform="rotate(-41 1698 386)"/>
<rect x="1133" y="27" width="1048" height="530" fill="none" stroke="#0a0a0a" stroke-width="4.5" />
<line x1="1133" y1="468.8" x2="1146" y2="468.8" stroke="#111" stroke-width="3" />
<line x1="1133" y1="380.6" x2="1146" y2="380.6" stroke="#111" stroke-width="3" />
<line x1="1133" y1="292.4" x2="1146" y2="292.4" stroke="#111" stroke-width="3" />
<line x1="1133" y1="204.2" x2="1146" y2="204.2" stroke="#111" stroke-width="3" />
<line x1="1133" y1="116" x2="1146" y2="116" stroke="#111" stroke-width="3" />
<line x1="1148.7" y1="557" x2="1148.7" y2="545" stroke="#111" stroke-width="3" />
<line x1="1259.8" y1="557" x2="1259.8" y2="545" stroke="#111" stroke-width="3" />
<line x1="1370.9" y1="557" x2="1370.9" y2="545" stroke="#111" stroke-width="3" />
<line x1="1482" y1="557" x2="1482" y2="545" stroke="#111" stroke-width="3" />
<line x1="1593.1" y1="557" x2="1593.1" y2="545" stroke="#111" stroke-width="3" />
<line x1="1704.2" y1="557" x2="1704.2" y2="545" stroke="#111" stroke-width="3" />
<line x1="1815.3" y1="557" x2="1815.3" y2="545" stroke="#111" stroke-width="3" />
<line x1="1926.4" y1="557" x2="1926.4" y2="545" stroke="#111" stroke-width="3" />
<line x1="2037.5" y1="557" x2="2037.5" y2="545" stroke="#111" stroke-width="3" />
<line x1="2148.6" y1="557" x2="2148.6" y2="545" stroke="#111" stroke-width="3" />
<text x="0" y="0" font-size="54" text-anchor="end" fill="#161616" transform="translate(1112 576) scale(1.2 1)" >0</text>
<text x="0" y="0" font-size="54" text-anchor="end" fill="#161616" transform="translate(1112 487.8) scale(1.2 1)" >1</text>
<text x="0" y="0" font-size="54" text-anchor="end" fill="#161616" transform="translate(1112 399.6) scale(1.2 1)" >2</text>
<text x="0" y="0" font-size="54" text-anchor="end" fill="#161616" transform="translate(1112 311.4) scale(1.2 1)" >3</text>
<text x="0" y="0" font-size="54" text-anchor="end" fill="#161616" transform="translate(1112 223.2) scale(1.2 1)" >4</text>
<text x="0" y="0" font-size="54" text-anchor="end" fill="#161616" transform="translate(1112 135) scale(1.2 1)" >5</text>
<text x="0" y="0" font-size="54" text-anchor="end" fill="#161616" transform="translate(1112 46.8) scale(1.2 1)" >6</text>
<text x="0" y="0" font-size="54" text-anchor="middle" fill="#161616" transform="translate(1174.6 623) scale(1.2 1)" >3</text><text x="0" y="0" font-size="54" text-anchor="end" fill="#161616" transform="translate(1152.4 623) scale(1.344 1)" >−</text>
<text x="0" y="0" font-size="54" text-anchor="middle" fill="#161616" transform="translate(1285.7 623) scale(1.2 1)" >2</text><text x="0" y="0" font-size="54" text-anchor="end" fill="#161616" transform="translate(1263.5 623) scale(1.344 1)" >−</text>
<text x="0" y="0" font-size="54" text-anchor="middle" fill="#161616" transform="translate(1396.8 623) scale(1.2 1)" >1</text><text x="0" y="0" font-size="54" text-anchor="end" fill="#161616" transform="translate(1374.6 623) scale(1.344 1)" >−</text>
<text x="0" y="0" font-size="54" text-anchor="middle" fill="#161616" transform="translate(1482 623) scale(1.2 1)" >0</text>
<text x="0" y="0" font-size="54" text-anchor="middle" fill="#161616" transform="translate(1593.1 623) scale(1.2 1)" >1</text>
<text x="0" y="0" font-size="54" text-anchor="middle" fill="#161616" transform="translate(1704.2 623) scale(1.2 1)" >2</text>
<text x="0" y="0" font-size="54" text-anchor="middle" fill="#161616" transform="translate(1815.3 623) scale(1.2 1)" >3</text>
<text x="0" y="0" font-size="54" text-anchor="middle" fill="#161616" transform="translate(1926.4 623) scale(1.2 1)" >4</text>
<text x="0" y="0" font-size="54" text-anchor="middle" fill="#161616" transform="translate(2037.5 623) scale(1.2 1)" >5</text>
<text x="0" y="0" font-size="54" text-anchor="middle" fill="#161616" transform="translate(2148.6 623) scale(1.2 1)" >6</text>
<text x="0" y="0" font-size="58" text-anchor="middle" fill="#161616" font-style="italic" transform="translate(1641 681) scale(1.15 1)" >ξ</text>
<text x="1050" y="287" font-size="54" text-anchor="middle" fill="#1a1a1a" transform="rotate(-90 1050 287)" letter-spacing="4">频率 /kHz</text>
<line x1="1841" y1="70" x2="1913" y2="70" stroke="#e8304e" stroke-width="10" />
<line x1="1841" y1="70" x2="1913" y2="70" stroke="#cf4a2a" stroke-width="5" />
<line x1="1841" y1="110" x2="1913" y2="110" stroke="#8cc63f" stroke-width="9" />
<line x1="1841" y1="110" x2="1913" y2="110" stroke="#5fa832" stroke-width="5" />
<text x="1926" y="87" font-size="54" text-anchor="start" fill="#1a1a1a" >轴向模式</text>
<text x="1926" y="146" font-size="54" text-anchor="start" fill="#1a1a1a" >弯曲模式</text>
<text x="1542" y="102" font-size="54" text-anchor="start" fill="#1a1a1a" >混叠</text>
<text x="1609" y="254" font-size="53" text-anchor="start" fill="#1a1a1a" >模式</text>
<text x="1609" y="322" font-size="53" text-anchor="start" fill="#1a1a1a" >耦合</text>
<text x="1683" y="469" font-size="53" text-anchor="start" fill="#1a1a1a" >基波</text>
<text x="1849" y="268" font-size="54" text-anchor="start" fill="#1a1a1a" >二次谐波</text>
<path d="M1901 146 C1760 112 1560 100 1310 148" stroke="#111" stroke-width="3.5" fill="none" />
<path d="M1299 150 L1327 136.9 L1319.6 146 L1329.9 151.6Z" fill="#111"/>
<path d="M1698 349 C1715 318 1742 278 1777 250 C1808 226 1850 215 1880 209" stroke="#111" stroke-width="5" fill="none" />
<path d="M1893 205 L1865.8 220 L1872.6 210.1 L1862 204.5Z" fill="#111"/>
<text x="957" y="61" font-size="57" text-anchor="start" fill="#1a1a1a" font-weight="bold" style='font-family:"Liberation Sans","Noto Sans CJK SC",sans-serif' >b</text>
</g>
<g id="panel_c">
<rect x="240" y="839" width="973" height="308" fill="#a7a7a7" stroke="none" stroke-width="0" />
<path d="M687.7 838 L686 843.2 L685.5 848.3 L686.5 853.5 L688.4 858.7 L690 863.8 L690.5 869 L689.5 874.2 L687.6 879.3 L686 884.5 L685.5 889.7 L686.6 894.8 L688.5 900 L690.1 905.2 L690.4 910.3 L689.4 915.5 L687.5 920.7 L685.9 925.8 L685.6 931 L686.7 936.2 L688.6 941.3 L690.2 946.5 L690.4 951.7 L689.2 956.8 L687.3 962 L685.8 967.2 L685.6 972.3 L686.8 977.5 L688.7 982.7 L690.2 987.8 L690.4 993 L689.1 998.2 L687.2 1003.3 L685.8 1008.5 L685.6 1013.7 L686.9 1018.8 L688.8 1024 L690.3 1029.2 L690.3 1034.3 L689 1039.5 L687.1 1044.7 L685.7 1049.8 L685.7 1055 L687 1060.2 L689 1065.3 L690.3 1070.5 L690.3 1075.7 L688.9 1080.8 L687 1086 L685.7 1091.2 L685.7 1096.3 L687.2 1101.5 L689.1 1106.7 L690.4 1111.8 L690.2 1117 L688.8 1122.2 L686.9 1127.3 L685.6 1132.5 L685.8 1137.7 L687.3 1142.8 L689.2 1148 L769.1 1148 L769.4 1142.8 L768 1137.7 L765.9 1132.5 L764.6 1127.3 L765 1122.2 L766.9 1117 L768.8 1111.8 L769.5 1106.7 L768.3 1101.5 L766.2 1096.3 L764.7 1091.2 L764.8 1086 L766.5 1080.8 L768.6 1075.7 L769.5 1070.5 L768.6 1065.3 L766.6 1060.2 L764.8 1055 L764.7 1049.8 L766.2 1044.7 L768.3 1039.5 L769.5 1034.3 L768.9 1029.2 L766.9 1024 L765 1018.8 L764.6 1013.7 L765.9 1008.5 L768 1003.3 L769.4 998.2 L769.1 993 L767.3 987.8 L765.3 982.7 L764.5 977.5 L765.6 972.3 L767.7 967.2 L769.3 962 L769.3 956.8 L767.6 951.7 L765.5 946.5 L764.5 941.3 L765.3 936.2 L767.3 931 L769.1 925.8 L769.4 920.7 L767.9 915.5 L765.8 910.3 L764.6 905.2 L765 900 L767 894.8 L768.9 889.7 L769.5 884.5 L768.3 879.3 L766.1 874.2 L764.6 869 L764.8 863.8 L766.6 858.7 L768.6 853.5 L769.5 848.3 L768.6 843.2 L766.5 838Z" fill="#f9f9f9"/>
<path d="M563.6 843 L562.5 844.6 L562.1 846.2 L562.2 847.9 L562.6 849.5 L563.1 851.1 L563.5 852.8 L563.5 854.4 L563 856 L562 857.6 L560.5 859.2 L558.9 860.9 L557.5 862.5 L556.5 864.1 L556.1 865.8 L556.3 867.4 L557.1 869 L558.3 870.6 L559.6 872.2 L560.7 873.9 L561.6 875.5 L562.2 877.1 L562.6 878.8 L563.2 880.4 L564.1 882 L565.1 882 L565.2 880.4 L564.9 878.8 L564.6 877.1 L564.5 875.5 L564.8 873.9 L565.6 872.2 L566.7 870.6 L567.9 869 L569 867.4 L569.8 865.8 L570 864.1 L569.8 862.5 L569.2 860.9 L568.4 859.2 L567.7 857.6 L567.3 856 L567.2 854.4 L567.4 852.8 L567.8 851.1 L568.2 849.5 L568.2 847.9 L567.7 846.2 L566.5 844.6 L564.6 843Z" fill="#fdfdfd"/><path d="M562.3 930 L562.2 930.8 L562 931.7 L561.9 932.5 L561.8 933.3 L561.8 934.2 L561.8 935 L561.8 935.8 L561.8 936.7 L561.7 937.5 L561.7 938.3 L561.6 939.2 L561.5 940 L561.5 940.8 L561.5 941.7 L561.5 942.5 L561.7 943.3 L561.9 944.2 L562.2 945 L562.5 945.8 L563 946.7 L563.4 947.5 L564 948.3 L564.6 949.2 L564.9 950 L565.9 950 L566.1 949.2 L566.5 948.3 L566.7 947.5 L566.9 946.7 L567 945.8 L567 945 L566.8 944.2 L566.6 943.3 L566.3 942.5 L565.9 941.7 L565.5 940.8 L565.1 940 L564.7 939.2 L564.3 938.3 L563.9 937.5 L563.6 936.7 L563.4 935.8 L563.3 935 L563.2 934.2 L563.2 933.3 L563.2 932.5 L563.2 931.7 L563.2 930.8 L563.3 930Z" fill="#fdfdfd"/><path d="M562 1015 L560.9 1017 L561.1 1019.1 L561.8 1021.1 L562.5 1023.2 L562.6 1025.2 L562 1027.2 L560.8 1029.3 L559.3 1031.3 L558 1033.4 L557.5 1035.4 L557.8 1037.5 L558.7 1039.5 L559.8 1041.5 L560.6 1043.6 L560.7 1045.6 L560.1 1047.7 L559 1049.7 L558 1051.8 L557.5 1053.8 L557.8 1055.8 L559.1 1057.9 L560.9 1059.9 L562.9 1062 L564.5 1064 L565.5 1064 L566.1 1062 L567.1 1059.9 L567.9 1057.9 L568.3 1055.8 L568 1053.8 L567.1 1051.8 L566 1049.7 L565.3 1047.7 L565.3 1045.6 L566.3 1043.6 L568.1 1041.5 L570.3 1039.5 L572.1 1037.5 L573.1 1035.4 L572.9 1033.4 L571.7 1031.3 L569.9 1029.3 L568 1027.2 L566.5 1025.2 L565.7 1023.2 L565.3 1021.1 L565.1 1019.1 L564.5 1017 L563 1015Z" fill="#fdfdfd"/><path d="M564.3 1104 L563.7 1105.8 L563.1 1107.5 L562.4 1109.2 L561.4 1111 L560.1 1112.8 L558.8 1114.5 L557.7 1116.2 L557.1 1118 L557.1 1119.8 L557.7 1121.5 L558.9 1123.2 L560.3 1125 L561.7 1126.8 L562.8 1128.5 L563.3 1130.2 L563.3 1132 L562.9 1133.8 L562.2 1135.5 L561.7 1137.2 L561.4 1139 L561.4 1140.8 L561.9 1142.5 L562.5 1144.2 L563 1146 L564 1146 L565.5 1144.2 L567 1142.5 L568.2 1140.8 L568.9 1139 L569.1 1137.2 L568.8 1135.5 L568.1 1133.8 L567.3 1132 L566.8 1130.2 L566.6 1128.5 L566.8 1126.8 L567.3 1125 L567.9 1123.2 L568.3 1121.5 L568.4 1119.8 L568 1118 L567.3 1116.2 L566.3 1114.5 L565.4 1112.8 L564.8 1111 L564.6 1109.2 L564.7 1107.5 L565 1105.8 L565.3 1104Z" fill="#fdfdfd"/>
<path d="M626.7 842 L626.4 843.6 L626 845.2 L625.4 846.8 L624.7 848.3 L623.7 849.9 L622.7 851.5 L621.8 853.1 L621.1 854.7 L620.7 856.2 L620.7 857.8 L621.2 859.4 L622 861 L622.9 862.6 L623.9 864.2 L624.7 865.8 L625.3 867.3 L625.6 868.9 L625.7 870.5 L625.6 872.1 L625.5 873.7 L625.5 875.2 L625.7 876.8 L626.1 878.4 L626.5 880 L627.5 880 L628.5 878.4 L629.2 876.8 L629.5 875.2 L629.4 873.7 L629 872.1 L628.5 870.5 L627.9 868.9 L627.5 867.3 L627.2 865.8 L627.3 864.2 L627.5 862.6 L627.8 861 L628.1 859.4 L628.3 857.8 L628.3 856.2 L628.1 854.7 L627.8 853.1 L627.4 851.5 L627 849.9 L626.9 848.3 L626.9 846.8 L627.1 845.2 L627.4 843.6 L627.7 842Z" fill="#fdfdfd"/><path d="M626.1 925 L625.8 927.7 L625.5 930.4 L625.5 933.1 L625.6 935.8 L625.5 938.5 L624.8 941.2 L623.4 944 L621.7 946.7 L620.4 949.4 L620.2 952.1 L621.2 954.8 L622.9 957.5 L624.6 960.2 L625.4 962.9 L625.3 965.6 L624.5 968.3 L623.7 971 L623.4 973.8 L623.6 976.5 L624 979.2 L624.2 981.9 L624.1 984.6 L623.9 987.3 L624.1 990 L625.1 990 L625.1 987.3 L625.3 984.6 L626.1 981.9 L627.5 979.2 L629.3 976.5 L630.7 973.8 L631.1 971 L630.5 968.3 L629.2 965.6 L628.1 962.9 L627.7 960.2 L628 957.5 L628.6 954.8 L628.9 952.1 L628.6 949.4 L627.9 946.7 L627.2 944 L627.1 941.2 L627.8 938.5 L628.8 935.8 L629.5 933.1 L629.4 930.4 L628.4 927.7 L627.1 925Z" fill="#fdfdfd"/><path d="M624.8 1020 L623.9 1021.8 L623 1023.5 L622.3 1025.2 L622 1027 L622.1 1028.8 L622.7 1030.5 L623.5 1032.2 L624.3 1034 L624.9 1035.8 L625.2 1037.5 L625.2 1039.2 L624.9 1041 L624.4 1042.8 L624 1044.5 L623.7 1046.2 L623.6 1048 L623.8 1049.8 L624.1 1051.5 L624.4 1053.2 L624.6 1055 L624.6 1056.8 L624.4 1058.5 L624.2 1060.2 L624 1062 L625 1062 L625.2 1060.2 L625.5 1058.5 L626.1 1056.8 L626.9 1055 L628 1053.2 L629.1 1051.5 L630.2 1049.8 L630.9 1048 L631.2 1046.2 L631 1044.5 L630.4 1042.8 L629.5 1041 L628.6 1039.2 L627.8 1037.5 L627.2 1035.8 L627 1034 L627 1032.2 L627.1 1030.5 L627.1 1028.8 L627 1027 L626.8 1025.2 L626.4 1023.5 L625.9 1021.8 L625.8 1020Z" fill="#fdfdfd"/><path d="M624 1108 L624 1109.4 L623.9 1110.8 L623.6 1112.2 L623.3 1113.7 L623.1 1115.1 L623 1116.5 L623.1 1117.9 L623.4 1119.3 L623.8 1120.8 L624.4 1122.2 L625.1 1123.6 L625.7 1125 L626.2 1126.4 L626.4 1127.8 L626.4 1129.2 L626.1 1130.7 L625.6 1132.1 L625 1133.5 L624.4 1134.9 L624 1136.3 L623.7 1137.8 L623.7 1139.2 L623.9 1140.6 L624.2 1142 L625.2 1142 L626 1140.6 L626.8 1139.2 L627.4 1137.8 L627.8 1136.3 L628.1 1134.9 L628.2 1133.5 L628.2 1132.1 L628.3 1130.7 L628.4 1129.2 L628.6 1127.8 L628.8 1126.4 L629.2 1125 L629.5 1123.6 L629.7 1122.2 L629.8 1120.8 L629.6 1119.3 L629.2 1117.9 L628.5 1116.5 L627.7 1115.1 L626.9 1113.7 L626.1 1112.2 L625.4 1110.8 L625 1109.4 L625 1108Z" fill="#fdfdfd"/>
<path d="M828.8 843 L828 844.8 L827.9 846.6 L828.1 848.4 L828.5 850.2 L828.9 852 L828.9 853.8 L828.4 855.5 L827.3 857.3 L825.8 859.1 L824.3 860.9 L822.9 862.7 L822.1 864.5 L821.9 866.3 L822.4 868.1 L823.4 869.9 L824.6 871.7 L825.8 873.5 L826.6 875.2 L827.2 877 L827.4 878.8 L827.6 880.6 L827.9 882.4 L828.6 884.2 L829.9 886 L830.9 886 L831.8 884.2 L831.8 882.4 L831.3 880.6 L830.6 878.8 L829.9 877 L829.6 875.2 L829.9 873.5 L830.6 871.7 L831.6 869.9 L832.7 868.1 L833.6 866.3 L834 864.5 L833.9 862.7 L833.5 860.9 L832.8 859.1 L832.2 857.3 L831.8 855.5 L831.8 853.8 L832.1 852 L832.4 850.2 L832.6 848.4 L832.3 846.6 L831.4 844.8 L829.8 843Z" fill="#fdfdfd"/><path d="M828.1 900 L826 903 L825.5 906 L826 909 L826.5 912 L826.2 915 L825.1 918 L824.1 921 L824.2 924 L825.4 927 L827 930 L827.4 933 L826.1 936 L823.6 939 L821.4 942 L820.8 945 L822.3 948 L824.9 951 L827.2 954 L828.1 957 L827.8 960 L827.2 963 L827.2 966 L827.9 969 L828.6 972 L829.6 972 L831.7 969 L833.4 966 L833.8 963 L832.8 960 L831.5 957 L831 954 L831.7 951 L833.2 948 L834.2 945 L833.9 942 L832.6 939 L831.5 936 L831.7 933 L833.4 930 L835.5 927 L836.7 924 L835.9 921 L833.5 918 L830.9 915 L829.3 912 L829.1 909 L829.6 906 L829.8 903 L829.1 900Z" fill="#fdfdfd"/><path d="M829.9 975 L829.7 976.4 L829 977.8 L828.2 979.1 L827.5 980.5 L826.9 981.9 L826.4 983.2 L826.1 984.6 L826 986 L826.1 987.4 L826.2 988.8 L826.4 990.1 L826.6 991.5 L826.6 992.9 L826.7 994.2 L826.6 995.6 L826.6 997 L826.6 998.4 L826.8 999.8 L827 1001.1 L827.5 1002.5 L828.1 1003.9 L828.7 1005.2 L829.5 1006.6 L829.9 1008 L830.9 1008 L831 1006.6 L831.3 1005.2 L831.4 1003.9 L831.4 1002.5 L831.1 1001.1 L830.7 999.8 L830.2 998.4 L829.6 997 L829.1 995.6 L828.6 994.2 L828.4 992.9 L828.4 991.5 L828.7 990.1 L829.1 988.8 L829.6 987.4 L830.2 986 L830.7 984.6 L831.1 983.2 L831.3 981.9 L831.4 980.5 L831.3 979.1 L831.1 977.8 L830.9 976.4 L830.9 975Z" fill="#fdfdfd"/><path d="M827 1010 L826.5 1012.2 L826.8 1014.5 L827.2 1016.8 L827.2 1019 L826.5 1021.2 L825.5 1023.5 L824.5 1025.8 L824.1 1028 L824.4 1030.2 L825.3 1032.5 L826.3 1034.8 L826.9 1037 L826.5 1039.2 L825.3 1041.5 L823.6 1043.8 L822.2 1046 L821.6 1048.2 L822.1 1050.5 L823.6 1052.8 L825.6 1055 L827.4 1057.2 L828.8 1059.5 L829.5 1061.8 L829.9 1064 L830.9 1064 L830.8 1061.8 L830.7 1059.5 L831 1057.2 L831.7 1055 L832.6 1052.8 L833.4 1050.5 L833.5 1048.2 L832.9 1046 L831.8 1043.8 L831 1041.5 L830.8 1039.2 L831.6 1037 L833.2 1034.8 L835.1 1032.5 L836.5 1030.2 L836.9 1028 L836.1 1025.8 L834.4 1023.5 L832.4 1021.2 L830.6 1019 L829.5 1016.8 L829 1014.5 L828.7 1012.2 L828 1010Z" fill="#fdfdfd"/><path d="M828.2 1100 L827.7 1101.8 L826.7 1103.5 L825.6 1105.2 L824.6 1107 L823.9 1108.8 L823.6 1110.5 L823.8 1112.2 L824.6 1114 L825.6 1115.8 L826.8 1117.5 L827.8 1119.2 L828.4 1121 L828.5 1122.8 L828.1 1124.5 L827.5 1126.2 L826.8 1128 L826.2 1129.8 L826 1131.5 L826 1133.2 L826.4 1135 L826.8 1136.8 L827.2 1138.5 L827.4 1140.2 L827.2 1142 L828.2 1142 L828.6 1140.2 L829.6 1138.5 L830.8 1136.8 L832.1 1135 L833.3 1133.2 L834.1 1131.5 L834.4 1129.8 L834.1 1128 L833.5 1126.2 L832.7 1124.5 L831.9 1122.8 L831.4 1121 L831.1 1119.2 L831.2 1117.5 L831.5 1115.8 L831.8 1114 L831.9 1112.2 L831.7 1110.5 L831.1 1108.8 L830.4 1107 L829.7 1105.2 L829.2 1103.5 L828.9 1101.8 L829.2 1100Z" fill="#fdfdfd"/>
<path d="M892 843 L891.6 844.5 L891.3 845.9 L891.2 847.4 L890.9 848.8 L890.4 850.3 L889.7 851.8 L888.8 853.2 L887.7 854.7 L886.5 856.1 L885.5 857.6 L884.8 859 L884.5 860.5 L884.7 862 L885.2 863.4 L886.1 864.9 L887.1 866.3 L888.1 867.8 L889 869.2 L889.7 870.7 L890.2 872.2 L890.6 873.6 L890.9 875.1 L891.3 876.5 L891.9 878 L892.9 878 L893.1 876.5 L893 875.1 L892.6 873.6 L892.3 872.2 L892 870.7 L892 869.2 L892.3 867.8 L892.7 866.3 L893.3 864.9 L893.9 863.4 L894.3 862 L894.5 860.5 L894.5 859 L894.2 857.6 L893.8 856.1 L893.3 854.7 L892.9 853.2 L892.7 851.8 L892.7 850.3 L892.9 848.8 L893.2 847.4 L893.4 845.9 L893.4 844.5 L893 843Z" fill="#fdfdfd"/><path d="M889.8 924 L888.9 926 L888.2 928 L887.2 930 L885.7 932 L884 934 L882.5 936 L881.9 938 L882.4 940 L884 942 L886.1 944 L888.1 946 L889.3 948 L889.4 950 L888.2 952 L886.3 954 L884.2 956 L882.8 958 L882.4 960 L883 962 L884.4 964 L886.1 966 L887.6 968 L888.7 970 L889.5 972 L890.5 972 L890.6 970 L891.4 968 L892.9 966 L895 964 L897.1 962 L898.6 960 L899.2 958 L898.7 956 L897.6 954 L896.3 952 L895.6 950 L895.7 948 L896.6 946 L898 944 L899.3 942 L899.8 940 L899.3 938 L897.8 936 L895.7 934 L893.5 932 L891.8 930 L891 928 L890.8 926 L890.8 924Z" fill="#fdfdfd"/><path d="M890.6 994 L890.1 994.7 L889.7 995.3 L889.3 996 L889.1 996.7 L888.9 997.3 L888.9 998 L888.9 998.7 L889 999.3 L889.2 1000 L889.4 1000.7 L889.7 1001.3 L889.9 1002 L890.2 1002.7 L890.5 1003.3 L890.8 1004 L891 1004.7 L891.1 1005.3 L891.2 1006 L891.3 1006.7 L891.3 1007.3 L891.3 1008 L891.3 1008.7 L891.2 1009.3 L891 1010 L892 1010 L892.2 1009.3 L892.4 1008.7 L892.7 1008 L892.9 1007.3 L893.1 1006.7 L893.4 1006 L893.6 1005.3 L893.9 1004.7 L894.2 1004 L894.5 1003.3 L894.8 1002.7 L895 1002 L895.2 1001.3 L895.4 1000.7 L895.5 1000 L895.5 999.3 L895.3 998.7 L895.1 998 L894.8 997.3 L894.4 996.7 L893.8 996 L893.2 995.3 L892.4 994.7 L891.6 994Z" fill="#fdfdfd"/><path d="M890.1 1012 L890.5 1014 L890.6 1016 L890.4 1018 L889.6 1020 L888.4 1022 L887.2 1024 L886.2 1026 L885.8 1028 L886.1 1030 L886.8 1032 L887.5 1034 L887.8 1036 L887.6 1038 L886.7 1040 L885.6 1042 L884.6 1044 L884.3 1046 L884.7 1048 L885.9 1050 L887.6 1052 L889.4 1054 L890.8 1056 L891.8 1058 L892 1060 L893 1060 L893.1 1058 L893.5 1056 L894.2 1054 L895.1 1052 L895.8 1050 L896 1048 L895.6 1046 L894.7 1044 L893.4 1042 L892.3 1040 L891.9 1038 L892.3 1036 L893.5 1034 L895.2 1032 L896.9 1030 L898.1 1028 L898.4 1026 L897.8 1024 L896.5 1022 L895 1020 L893.6 1018 L892.6 1016 L891.8 1014 L891.1 1012Z" fill="#fdfdfd"/><path d="M889 1106 L888.9 1107.4 L888.3 1108.8 L887.7 1110.2 L887.2 1111.7 L886.7 1113.1 L886.5 1114.5 L886.6 1115.9 L886.9 1117.3 L887.6 1118.8 L888.4 1120.2 L889.3 1121.6 L890.2 1123 L890.7 1124.4 L891 1125.8 L890.9 1127.2 L890.6 1128.7 L890 1130.1 L889.3 1131.5 L888.6 1132.9 L888.2 1134.3 L888 1135.8 L888.2 1137.2 L888.7 1138.6 L889.3 1140 L890.3 1140 L891.5 1138.6 L892.6 1137.2 L893.5 1135.8 L894 1134.3 L894.3 1132.9 L894.3 1131.5 L894.2 1130.1 L894 1128.7 L893.9 1127.2 L894 1125.8 L894.2 1124.4 L894.6 1123 L895 1121.6 L895.4 1120.2 L895.6 1118.8 L895.6 1117.3 L895.2 1115.9 L894.6 1114.5 L893.7 1113.1 L892.7 1111.7 L891.7 1110.2 L890.8 1108.8 L890.1 1107.4 L890 1106Z" fill="#fdfdfd"/>
<rect x="794" y="840" width="68" height="305" fill="none" stroke="#f5a0b8" stroke-width="7" opacity="0.7"/>
<rect x="794" y="840" width="68" height="305" fill="none" stroke="#d8214f" stroke-width="4" stroke-dasharray="20 8"/>
<rect x="532" y="831" width="396" height="325" fill="none" stroke="#161616" stroke-width="3.3" stroke-dasharray="18 2.5"/>
<path d="M572 823 C572 803 596 806 650 803 C706 800 722 802 726 786 C730 802 746 800 802 803 C856 806 880 803 880 823" stroke="#161616" stroke-width="3.5" fill="none" />
<text x="0" y="0" font-size="56" text-anchor="middle" fill="#161616" font-style="italic" transform="translate(728 764) scale(1.15 1)" >N</text>
<line x1="566.5" y1="1002" x2="566.5" y2="945" stroke="#161616" stroke-width="3.5" /><path d="M566.5 928 L573.5 950 L566.5 946.7 L559.5 950Z" fill="#161616"/>
<line x1="565" y1="1002" x2="622" y2="1002" stroke="#161616" stroke-width="3.5" /><path d="M640 1002 L618 1009 L621.3 1002 L618 995Z" fill="#161616"/>
<text x="0" y="0" font-size="56" text-anchor="start" fill="#161616" font-style="italic" transform="translate(552 910) scale(1.0 1)" >y</text>
<text x="0" y="0" font-size="56" text-anchor="start" fill="#161616" font-style="italic" transform="translate(645 1013) scale(1.2 1)" >x</text>
<circle cx="705" cy="990" r="2.6" fill="#161616"/>
<circle cx="724.5" cy="990" r="2.6" fill="#161616"/>
<circle cx="744" cy="990" r="2.6" fill="#161616"/>
<line x1="128" y1="868" x2="214.2" y2="868" stroke="#161616" stroke-width="6.5" /><path d="M243 868 L195 880.5 L202.7 868 L195 855.5Z" fill="#161616"/>
<line x1="1329" y1="868" x2="1239.8" y2="868" stroke="#161616" stroke-width="6.5" /><path d="M1211 868 L1259 855.5 L1251.3 868 L1259 880.5Z" fill="#161616"/>
<line x1="128" y1="918.3" x2="214.2" y2="918.3" stroke="#161616" stroke-width="6.5" /><path d="M243 918.3 L195 930.8 L202.7 918.3 L195 905.8Z" fill="#161616"/>
<line x1="1329" y1="918.3" x2="1239.8" y2="918.3" stroke="#161616" stroke-width="6.5" /><path d="M1211 918.3 L1259 905.8 L1251.3 918.3 L1259 930.8Z" fill="#161616"/>
<line x1="128" y1="968.6" x2="214.2" y2="968.6" stroke="#161616" stroke-width="6.5" /><path d="M243 968.6 L195 981.1 L202.7 968.6 L195 956.1Z" fill="#161616"/>
<line x1="1329" y1="968.6" x2="1239.8" y2="968.6" stroke="#161616" stroke-width="6.5" /><path d="M1211 968.6 L1259 956.1 L1251.3 968.6 L1259 981.1Z" fill="#161616"/>
<line x1="128" y1="1018.9" x2="214.2" y2="1018.9" stroke="#161616" stroke-width="6.5" /><path d="M243 1018.9 L195 1031.4 L202.7 1018.9 L195 1006.4Z" fill="#161616"/>
<line x1="1329" y1="1018.9" x2="1239.8" y2="1018.9" stroke="#161616" stroke-width="6.5" /><path d="M1211 1018.9 L1259 1006.4 L1251.3 1018.9 L1259 1031.4Z" fill="#161616"/>
<line x1="128" y1="1069.2" x2="214.2" y2="1069.2" stroke="#161616" stroke-width="6.5" /><path d="M243 1069.2 L195 1081.7 L202.7 1069.2 L195 1056.7Z" fill="#161616"/>
<line x1="1329" y1="1069.2" x2="1239.8" y2="1069.2" stroke="#161616" stroke-width="6.5" /><path d="M1211 1069.2 L1259 1056.7 L1251.3 1069.2 L1259 1081.7Z" fill="#161616"/>
<line x1="128" y1="1119.5" x2="214.2" y2="1119.5" stroke="#161616" stroke-width="6.5" /><path d="M243 1119.5 L195 1132 L202.7 1119.5 L195 1107Z" fill="#161616"/>
<line x1="1329" y1="1119.5" x2="1239.8" y2="1119.5" stroke="#161616" stroke-width="6.5" /><path d="M1211 1119.5 L1259 1107 L1251.3 1119.5 L1259 1132Z" fill="#161616"/>
<text x="0" y="0" font-size="55" text-anchor="start" fill="#161616" font-style="italic" transform="translate(260 893) scale(1.12 1)" >Γ</text><text x="0" y="0" font-size="37.4" text-anchor="start" fill="#161616" transform="translate(293 903) scale(1.1 1)" >L</text>
<text x="0" y="0" font-size="55" text-anchor="start" fill="#161616" font-style="italic" transform="translate(1120 893) scale(1.12 1)" >Γ</text><text x="0" y="0" font-size="37.4" text-anchor="start" fill="#161616" transform="translate(1153 903) scale(1.1 1)" >R</text>
<text x="0" y="0" font-size="58" text-anchor="start" fill="#161616" font-style="italic" transform="translate(65 990) scale(1.12 1)" >p</text><text x="0" y="0" font-size="40.6" text-anchor="start" fill="#161616" transform="translate(96.9 1000) scale(1.08 1)" >0</text>
<text x="0" y="0" font-size="58" text-anchor="start" fill="#161616" font-style="italic" transform="translate(1345 990) scale(1.12 1)" >p</text><text x="0" y="0" font-size="40.6" text-anchor="start" fill="#161616" transform="translate(1376.9 1000) scale(1.08 1)" >0</text>
<path d="M316.6 1003 L342.6 1003 L342.6 1003 L343.3 993.6 L344.1 984.5 L344.8 975.8 L345.5 967.7 L346.3 960.6 L347 954.5 L347.7 949.5 L348.5 945.9 L349.2 943.7 L349.9 943 L350.7 943.7 L351.4 945.9 L352.1 949.5 L352.8 954.5 L353.6 960.6 L354.3 967.7 L355 975.8 L355.8 984.5 L356.5 993.6 L357.2 1003 L358 1012.4 L358.7 1021.5 L359.4 1030.2 L360.2 1038.3 L360.9 1045.4 L361.6 1051.5 L362.4 1056.5 L363.1 1060.1 L363.8 1062.3 L364.6 1063 L365.3 1062.3 L366 1060.1 L366.8 1056.5 L367.5 1051.5 L368.2 1045.4 L368.9 1038.3 L369.7 1030.2 L370.4 1021.5 L371.1 1012.4 L371.9 1003 L372.6 993.6 L373.3 984.5 L374.1 975.8 L374.8 967.7 L375.5 960.6 L376.3 954.5 L377 949.5 L377.7 945.9 L378.5 943.7 L379.2 943 L379.9 943.7 L380.7 945.9 L381.4 949.5 L382.1 954.5 L382.9 960.6 L383.6 967.7 L384.3 975.8 L385 984.5 L385.8 993.6 L386.5 1003 L387.2 1012.4 L388 1021.5 L388.7 1030.2 L389.4 1038.3 L390.2 1045.4 L390.9 1051.5 L391.6 1056.5 L392.4 1060.1 L393.1 1062.3 L393.8 1063 L394.6 1062.3 L395.3 1060.1 L396 1056.5 L396.8 1051.5 L397.5 1045.4 L398.2 1038.3 L399 1030.2 L399.7 1021.5 L400.4 1012.4 L401.1 1003 L401.9 993.6 L402.6 984.5 L403.3 975.8 L404.1 967.7 L404.8 960.6 L405.5 954.5 L406.3 949.5 L407 945.9 L407.7 943.7 L408.5 943 L409.2 943.7 L409.9 945.9 L410.7 949.5 L411.4 954.5 L412.1 960.6 L412.9 967.7 L413.6 975.8 L414.3 984.5 L415.1 993.6 L415.8 1003 L416.5 1012.4 L417.3 1021.5 L418 1030.2 L418.7 1038.3 L419.4 1045.4 L420.2 1051.5 L420.9 1056.5 L421.6 1060.1 L422.4 1062.3 L423.1 1063 L423.8 1062.3 L424.6 1060.1 L425.3 1056.5 L426 1051.5 L426.8 1045.4 L427.5 1038.3 L428.2 1030.2 L429 1021.5 L429.7 1012.4 L430.4 1003 L431.2 993.6 L431.9 984.5 L432.6 975.8 L433.4 967.7 L434.1 960.6 L434.8 954.5 L435.5 949.5 L436.3 945.9 L437 943.7 L437.7 943 L438.5 943.7 L439.2 945.9 L439.9 949.5 L440.7 954.5 L441.4 960.6 L442.1 967.7 L442.9 975.8 L443.6 984.5 L444.3 993.6 L445.1 1003 L445.8 1012.4 L446.5 1021.5 L447.3 1030.2 L448 1038.3 L448.7 1045.4 L449.5 1051.5 L450.2 1056.5 L450.9 1060.1 L451.6 1062.3 L452.4 1063 L453.1 1062.3 L453.8 1060.1 L454.6 1056.5 L455.3 1051.5 L456 1045.4 L456.8 1038.3 L457.5 1030.2 L458.2 1021.5 L459 1012.4 L459.7 1003 L481.7 1003" stroke="#161616" stroke-width="5.3" fill="none" stroke-linejoin="round"/>
<path d="M948.8 953.8 L971.8 953.8 L971.8 953.8 L972.5 946.1 L973.3 938.7 L974 931.6 L974.7 925 L975.5 919.2 L976.2 914.2 L976.9 910.1 L977.7 907.2 L978.4 905.4 L979.1 904.8 L979.9 905.4 L980.6 907.2 L981.3 910.1 L982.1 914.2 L982.8 919.2 L983.5 925 L984.3 931.6 L985 938.7 L985.7 946.1 L986.4 953.8 L987.2 961.5 L987.9 968.9 L988.6 976 L989.4 982.6 L990.1 988.4 L990.8 993.4 L991.6 997.5 L992.3 1000.4 L993 1002.2 L993.8 1002.8 L994.5 1002.2 L995.2 1000.4 L996 997.5 L996.7 993.4 L997.4 988.4 L998.2 982.6 L998.9 976 L999.6 968.9 L1000.4 961.5 L1001.1 953.8 L1001.8 946.1 L1002.6 938.7 L1003.3 931.6 L1004 925 L1004.8 919.2 L1005.5 914.2 L1006.2 910.1 L1007 907.2 L1007.7 905.4 L1008.4 904.8 L1009.2 905.4 L1009.9 907.2 L1010.6 910.1 L1011.4 914.2 L1012.1 919.2 L1012.8 925 L1013.6 931.6 L1014.3 938.7 L1015 946.1 L1015.8 953.8 L1016.5 961.5 L1017.2 968.9 L1017.9 976 L1018.7 982.6 L1019.4 988.4 L1020.1 993.4 L1020.9 997.5 L1021.6 1000.4 L1022.3 1002.2 L1023.1 1002.8 L1023.8 1002.2 L1024.5 1000.4 L1025.3 997.5 L1026 993.4 L1026.7 988.4 L1027.5 982.6 L1028.2 976 L1028.9 968.9 L1029.7 961.5 L1030.4 953.8 L1031.1 946.1 L1031.9 938.7 L1032.6 931.6 L1033.3 925 L1034.1 919.2 L1034.8 914.2 L1035.5 910.1 L1036.3 907.2 L1037 905.4 L1037.7 904.8 L1038.5 905.4 L1039.2 907.2 L1039.9 910.1 L1040.7 914.2 L1041.4 919.2 L1042.1 925 L1042.9 931.6 L1043.6 938.7 L1044.3 946.1 L1045 953.8 L1045.8 961.5 L1046.5 968.9 L1047.2 976 L1048 982.6 L1048.7 988.4 L1049.4 993.4 L1050.2 997.5 L1050.9 1000.4 L1051.6 1002.2 L1052.4 1002.8 L1053.1 1002.2 L1053.8 1000.4 L1054.6 997.5 L1055.3 993.4 L1056 988.4 L1056.8 982.6 L1057.5 976 L1058.2 968.9 L1059 961.5 L1059.7 953.8 L1060.4 946.1 L1061.2 938.7 L1061.9 931.6 L1062.6 925 L1063.4 919.2 L1064.1 914.2 L1064.8 910.1 L1065.6 907.2 L1066.3 905.4 L1067 904.8 L1067.8 905.4 L1068.5 907.2 L1069.2 910.1 L1070 914.2 L1070.7 919.2 L1071.4 925 L1072.2 931.6 L1072.9 938.7 L1073.6 946.1 L1074.3 953.8 L1075.1 961.5 L1075.8 968.9 L1076.5 976 L1077.3 982.6 L1078 988.4 L1078.7 993.4 L1079.5 997.5 L1080.2 1000.4 L1080.9 1002.2 L1081.7 1002.8 L1082.4 1002.2 L1083.1 1000.4 L1083.9 997.5 L1084.6 993.4 L1085.3 988.4 L1086.1 982.6 L1086.8 976 L1087.5 968.9 L1088.3 961.5 L1089 953.8 L1113 953.8" stroke="#161616" stroke-width="5" fill="none" stroke-linejoin="round"/>
<path d="M946.8 1042 L971.8 1042 L971.8 1042 L972.2 1038.3 L972.5 1034.7 L972.9 1031.3 L973.3 1028.2 L973.6 1025.4 L974 1023 L974.4 1021.1 L974.7 1019.7 L975.1 1018.8 L975.5 1018.5 L975.8 1018.8 L976.2 1019.7 L976.6 1021.1 L976.9 1023 L977.3 1025.4 L977.7 1028.2 L978 1031.3 L978.4 1034.7 L978.8 1038.3 L979.1 1042 L979.5 1045.7 L979.9 1049.3 L980.2 1052.7 L980.6 1055.8 L981 1058.6 L981.3 1061 L981.7 1062.9 L982.1 1064.3 L982.4 1065.2 L982.8 1065.5 L983.2 1065.2 L983.5 1064.3 L983.9 1062.9 L984.3 1061 L984.6 1058.6 L985 1055.8 L985.4 1052.7 L985.7 1049.3 L986.1 1045.7 L986.4 1042 L986.8 1038.3 L987.2 1034.7 L987.5 1031.3 L987.9 1028.2 L988.3 1025.4 L988.6 1023 L989 1021.1 L989.4 1019.7 L989.7 1018.8 L990.1 1018.5 L990.5 1018.8 L990.8 1019.7 L991.2 1021.1 L991.6 1023 L991.9 1025.4 L992.3 1028.2 L992.7 1031.3 L993 1034.7 L993.4 1038.3 L993.8 1042 L994.1 1045.7 L994.5 1049.3 L994.9 1052.7 L995.2 1055.8 L995.6 1058.6 L996 1061 L996.3 1062.9 L996.7 1064.3 L997.1 1065.2 L997.4 1065.5 L997.8 1065.2 L998.2 1064.3 L998.5 1062.9 L998.9 1061 L999.3 1058.6 L999.6 1055.8 L1000 1052.7 L1000.4 1049.3 L1000.7 1045.7 L1001.1 1042 L1001.5 1038.3 L1001.8 1034.7 L1002.2 1031.3 L1002.6 1028.2 L1002.9 1025.4 L1003.3 1023 L1003.7 1021.1 L1004 1019.7 L1004.4 1018.8 L1004.8 1018.5 L1005.1 1018.8 L1005.5 1019.7 L1005.9 1021.1 L1006.2 1023 L1006.6 1025.4 L1007 1028.2 L1007.3 1031.3 L1007.7 1034.7 L1008.1 1038.3 L1008.4 1042 L1008.8 1045.7 L1009.2 1049.3 L1009.5 1052.7 L1009.9 1055.8 L1010.3 1058.6 L1010.6 1061 L1011 1062.9 L1011.4 1064.3 L1011.7 1065.2 L1012.1 1065.5 L1012.5 1065.2 L1012.8 1064.3 L1013.2 1062.9 L1013.6 1061 L1013.9 1058.6 L1014.3 1055.8 L1014.7 1052.7 L1015 1049.3 L1015.4 1045.7 L1015.8 1042 L1016.1 1038.3 L1016.5 1034.7 L1016.8 1031.3 L1017.2 1028.2 L1017.6 1025.4 L1017.9 1023 L1018.3 1021.1 L1018.7 1019.7 L1019 1018.8 L1019.4 1018.5 L1019.8 1018.8 L1020.1 1019.7 L1020.5 1021.1 L1020.9 1023 L1021.2 1025.4 L1021.6 1028.2 L1022 1031.3 L1022.3 1034.7 L1022.7 1038.3 L1023.1 1042 L1023.4 1045.7 L1023.8 1049.3 L1024.2 1052.7 L1024.5 1055.8 L1024.9 1058.6 L1025.3 1061 L1025.6 1062.9 L1026 1064.3 L1026.4 1065.2 L1026.7 1065.5 L1027.1 1065.2 L1027.5 1064.3 L1027.8 1062.9 L1028.2 1061 L1028.6 1058.6 L1028.9 1055.8 L1029.3 1052.7 L1029.7 1049.3 L1030 1045.7 L1030.4 1042 L1030.8 1038.3 L1031.1 1034.7 L1031.5 1031.3 L1031.9 1028.2 L1032.2 1025.4 L1032.6 1023 L1033 1021.1 L1033.3 1019.7 L1033.7 1018.8 L1034.1 1018.5 L1034.4 1018.8 L1034.8 1019.7 L1035.2 1021.1 L1035.5 1023 L1035.9 1025.4 L1036.3 1028.2 L1036.6 1031.3 L1037 1034.7 L1037.4 1038.3 L1037.7 1042 L1038.1 1045.7 L1038.5 1049.3 L1038.8 1052.7 L1039.2 1055.8 L1039.6 1058.6 L1039.9 1061 L1040.3 1062.9 L1040.7 1064.3 L1041 1065.2 L1041.4 1065.5 L1041.8 1065.2 L1042.1 1064.3 L1042.5 1062.9 L1042.9 1061 L1043.2 1058.6 L1043.6 1055.8 L1044 1052.7 L1044.3 1049.3 L1044.7 1045.7 L1045 1042 L1045.4 1038.3 L1045.8 1034.7 L1046.1 1031.3 L1046.5 1028.2 L1046.9 1025.4 L1047.2 1023 L1047.6 1021.1 L1048 1019.7 L1048.3 1018.8 L1048.7 1018.5 L1049.1 1018.8 L1049.4 1019.7 L1049.8 1021.1 L1050.2 1023 L1050.5 1025.4 L1050.9 1028.2 L1051.3 1031.3 L1051.6 1034.7 L1052 1038.3 L1052.4 1042 L1052.7 1045.7 L1053.1 1049.3 L1053.5 1052.7 L1053.8 1055.8 L1054.2 1058.6 L1054.6 1061 L1054.9 1062.9 L1055.3 1064.3 L1055.7 1065.2 L1056 1065.5 L1056.4 1065.2 L1056.8 1064.3 L1057.1 1062.9 L1057.5 1061 L1057.9 1058.6 L1058.2 1055.8 L1058.6 1052.7 L1059 1049.3 L1059.3 1045.7 L1059.7 1042 L1060.1 1038.3 L1060.4 1034.7 L1060.8 1031.3 L1061.2 1028.2 L1061.5 1025.4 L1061.9 1023 L1062.3 1021.1 L1062.6 1019.7 L1063 1018.8 L1063.4 1018.5 L1063.7 1018.8 L1064.1 1019.7 L1064.5 1021.1 L1064.8 1023 L1065.2 1025.4 L1065.6 1028.2 L1065.9 1031.3 L1066.3 1034.7 L1066.7 1038.3 L1067 1042 L1067.4 1045.7 L1067.8 1049.3 L1068.1 1052.7 L1068.5 1055.8 L1068.9 1058.6 L1069.2 1061 L1069.6 1062.9 L1070 1064.3 L1070.3 1065.2 L1070.7 1065.5 L1071.1 1065.2 L1071.4 1064.3 L1071.8 1062.9 L1072.2 1061 L1072.5 1058.6 L1072.9 1055.8 L1073.3 1052.7 L1073.6 1049.3 L1074 1045.7 L1074.3 1042 L1074.7 1038.3 L1075.1 1034.7 L1075.4 1031.3 L1075.8 1028.2 L1076.2 1025.4 L1076.5 1023 L1076.9 1021.1 L1077.3 1019.7 L1077.6 1018.8 L1078 1018.5 L1078.4 1018.8 L1078.7 1019.7 L1079.1 1021.1 L1079.5 1023 L1079.8 1025.4 L1080.2 1028.2 L1080.6 1031.3 L1080.9 1034.7 L1081.3 1038.3 L1081.7 1042 L1082 1045.7 L1082.4 1049.3 L1082.8 1052.7 L1083.1 1055.8 L1083.5 1058.6 L1083.9 1061 L1084.2 1062.9 L1084.6 1064.3 L1085 1065.2 L1085.3 1065.5 L1085.7 1065.2 L1086.1 1064.3 L1086.4 1062.9 L1086.8 1061 L1087.2 1058.6 L1087.5 1055.8 L1087.9 1052.7 L1088.3 1049.3 L1088.6 1045.7 L1089 1042 L1111 1042" stroke="#161616" stroke-width="3.9" fill="none" stroke-linejoin="round"/>
<path d="M952 1112 H978 V1090.5 H1094 V1112 H1120" stroke="#161616" stroke-width="3.5" fill="none" />
<line x1="564.6" y1="1168" x2="564.6" y2="1222" stroke="#161616" stroke-width="2.5" /><line x1="626.5" y1="1168" x2="626.5" y2="1222" stroke="#161616" stroke-width="2.5" /><line x1="572.6" y1="1185.5" x2="618.5" y2="1185.5" stroke="#161616" stroke-width="3.5" /><path d="M565.6 1185.5 L582.6 1178.5 L580.1 1185.5 L582.6 1192.5Z" fill="#161616"/><path d="M625.5 1185.5 L608.5 1192.5 L611 1185.5 L608.5 1178.5Z" fill="#161616"/><text x="0" y="0" font-size="54" text-anchor="middle" fill="#161616" font-style="italic" transform="translate(595.5 1238) scale(1.2 1)" >s</text>
<line x1="626.5" y1="1168" x2="626.5" y2="1222" stroke="#161616" stroke-width="2.5" /><line x1="687.5" y1="1168" x2="687.5" y2="1222" stroke="#161616" stroke-width="2.5" /><line x1="634.5" y1="1185.5" x2="679.5" y2="1185.5" stroke="#161616" stroke-width="3.5" /><path d="M627.5 1185.5 L644.5 1178.5 L642 1185.5 L644.5 1192.5Z" fill="#161616"/><path d="M686.5 1185.5 L669.5 1192.5 L672 1185.5 L669.5 1178.5Z" fill="#161616"/><text x="0" y="0" font-size="54" text-anchor="middle" fill="#161616" font-style="italic" transform="translate(657 1238) scale(1.2 1)" >s</text>
<line x1="767.7" y1="1168" x2="767.7" y2="1222" stroke="#161616" stroke-width="2.5" /><line x1="829.6" y1="1168" x2="829.6" y2="1222" stroke="#161616" stroke-width="2.5" /><line x1="775.7" y1="1185.5" x2="821.6" y2="1185.5" stroke="#161616" stroke-width="3.5" /><path d="M768.7 1185.5 L785.7 1178.5 L783.2 1185.5 L785.7 1192.5Z" fill="#161616"/><path d="M828.6 1185.5 L811.6 1192.5 L814.1 1185.5 L811.6 1178.5Z" fill="#161616"/><text x="0" y="0" font-size="54" text-anchor="middle" fill="#161616" font-style="italic" transform="translate(798.7 1238) scale(1.2 1)" >s</text>
<line x1="829.6" y1="1168" x2="829.6" y2="1222" stroke="#161616" stroke-width="2.5" /><line x1="892" y1="1168" x2="892" y2="1222" stroke="#161616" stroke-width="2.5" /><line x1="837.6" y1="1185.5" x2="884" y2="1185.5" stroke="#161616" stroke-width="3.5" /><path d="M830.6 1185.5 L847.6 1178.5 L845.1 1185.5 L847.6 1192.5Z" fill="#161616"/><path d="M891 1185.5 L874 1192.5 L876.5 1185.5 L874 1178.5Z" fill="#161616"/><text x="0" y="0" font-size="54" text-anchor="middle" fill="#161616" font-style="italic" transform="translate(860.8 1238) scale(1.2 1)" >s</text>
<line x1="532" y1="1156" x2="369" y2="1284" stroke="#161616" stroke-width="3.5" stroke-dasharray="9.5 4.5"/>
<line x1="928" y1="1156" x2="1097" y2="1284" stroke="#161616" stroke-width="3.5" stroke-dasharray="9.5 4.5"/>
<rect x="240" y="1295" width="155.7" height="302" fill="#a7a7a7" stroke="none" stroke-width="0" />
<rect x="1064" y="1295" width="148" height="302" fill="#a7a7a7" stroke="none" stroke-width="0" />
<rect x="478.5" y="1295" width="63.8" height="302" fill="#a7a7a7" stroke="none" stroke-width="0" />
<rect x="624.8" y="1295" width="64" height="302" fill="#a7a7a7" stroke="none" stroke-width="0" />
<rect x="771.4" y="1295" width="64.1" height="302" fill="#a7a7a7" stroke="none" stroke-width="0" />
<rect x="918.6" y="1295" width="63.9" height="302" fill="#a7a7a7" stroke="none" stroke-width="0" />
<rect x="801" y="1294.5" width="149" height="302" fill="none" stroke="#f5a0b8" stroke-width="7" opacity="0.6"/>
<rect x="801" y="1294.5" width="149" height="302" fill="none" stroke="#d8214f" stroke-width="4" stroke-dasharray="24 4"/>
<rect x="369.8" y="1284.3" width="726.7" height="325.2" fill="none" stroke="#161616" stroke-width="4" stroke-dasharray="23.5 4"/>
<path d="M395.7 1446 L410.6 1446 L415.1 1419 L424.1 1473 L433 1419 L442 1473 L451 1419 L459.9 1473 L464.4 1446 L478.5 1446" stroke="#161616" stroke-width="4.5" fill="none" stroke-linejoin="miter"/><line x1="409.1" y1="1483" x2="459.3" y2="1405.1" stroke="#161616" stroke-width="5" /><path d="M469.1 1390 L461.2 1420.6 L455.3 1411.4 L444.4 1409.8Z" fill="#161616"/><text x="0" y="0" font-size="52" text-anchor="middle" fill="#161616" font-style="italic" transform="translate(436.1 1509) scale(1.2 1)" >κ</text>
<path d="M542.3 1446 L557.1 1446 L561.6 1419 L570.6 1473 L579.5 1419 L588.4 1473 L597.4 1419 L606.3 1473 L610.8 1446 L624.8 1446" stroke="#161616" stroke-width="4.5" fill="none" stroke-linejoin="miter"/><line x1="555.5" y1="1483" x2="605.8" y2="1405.1" stroke="#161616" stroke-width="5" /><path d="M615.5 1390 L607.7 1420.6 L601.7 1411.4 L590.9 1409.8Z" fill="#161616"/><text x="0" y="0" font-size="52" text-anchor="middle" fill="#161616" font-style="italic" transform="translate(582.5 1509) scale(1.2 1)" >κ</text>
<path d="M835.5 1446 L850.5 1446 L855 1419 L864 1473 L873 1419 L882 1473 L891 1419 L900 1473 L904.5 1446 L918.6 1446" stroke="#161616" stroke-width="4.5" fill="none" stroke-linejoin="miter"/><line x1="849" y1="1483" x2="899.3" y2="1405.1" stroke="#161616" stroke-width="5" /><path d="M909 1390 L901.2 1420.6 L895.2 1411.4 L884.4 1409.8Z" fill="#161616"/><text x="0" y="0" font-size="52" text-anchor="middle" fill="#161616" font-style="italic" transform="translate(876 1509) scale(1.2 1)" >κ</text>
<path d="M982.5 1446 L997.2 1446 L1001.6 1419 L1010.4 1473 L1019.2 1419 L1028.1 1473 L1036.9 1419 L1045.7 1473 L1050.1 1446 L1064 1446" stroke="#161616" stroke-width="4.5" fill="none" stroke-linejoin="miter"/><line x1="995.2" y1="1483" x2="1045.5" y2="1405.1" stroke="#161616" stroke-width="5" /><path d="M1055.2 1390 L1047.4 1420.6 L1041.4 1411.4 L1030.6 1409.8Z" fill="#161616"/><text x="0" y="0" font-size="52" text-anchor="middle" fill="#161616" font-style="italic" transform="translate(1022.2 1509) scale(1.2 1)" >κ</text>
<circle cx="704" cy="1446" r="2.6" fill="#161616"/>
<circle cx="723.5" cy="1446" r="2.6" fill="#161616"/>
<circle cx="742" cy="1446" r="2.6" fill="#161616"/>
<line x1="125" y1="1320" x2="214.2" y2="1320" stroke="#161616" stroke-width="6.5" /><path d="M243 1320 L195 1332.5 L202.7 1320 L195 1307.5Z" fill="#161616"/>
<line x1="1329" y1="1320" x2="1239.8" y2="1320" stroke="#161616" stroke-width="6.5" /><path d="M1211 1320 L1259 1307.5 L1251.3 1320 L1259 1332.5Z" fill="#161616"/>
<line x1="125" y1="1370.4" x2="214.2" y2="1370.4" stroke="#161616" stroke-width="6.5" /><path d="M243 1370.4 L195 1382.9 L202.7 1370.4 L195 1357.9Z" fill="#161616"/>
<line x1="1329" y1="1370.4" x2="1239.8" y2="1370.4" stroke="#161616" stroke-width="6.5" /><path d="M1211 1370.4 L1259 1357.9 L1251.3 1370.4 L1259 1382.9Z" fill="#161616"/>
<line x1="125" y1="1420.8" x2="214.2" y2="1420.8" stroke="#161616" stroke-width="6.5" /><path d="M243 1420.8 L195 1433.3 L202.7 1420.8 L195 1408.3Z" fill="#161616"/>
<line x1="1329" y1="1420.8" x2="1239.8" y2="1420.8" stroke="#161616" stroke-width="6.5" /><path d="M1211 1420.8 L1259 1408.3 L1251.3 1420.8 L1259 1433.3Z" fill="#161616"/>
<line x1="125" y1="1471.2" x2="214.2" y2="1471.2" stroke="#161616" stroke-width="6.5" /><path d="M243 1471.2 L195 1483.7 L202.7 1471.2 L195 1458.7Z" fill="#161616"/>
<line x1="1329" y1="1471.2" x2="1239.8" y2="1471.2" stroke="#161616" stroke-width="6.5" /><path d="M1211 1471.2 L1259 1458.7 L1251.3 1471.2 L1259 1483.7Z" fill="#161616"/>
<line x1="125" y1="1521.6" x2="214.2" y2="1521.6" stroke="#161616" stroke-width="6.5" /><path d="M243 1521.6 L195 1534.1 L202.7 1521.6 L195 1509.1Z" fill="#161616"/>
<line x1="1329" y1="1521.6" x2="1239.8" y2="1521.6" stroke="#161616" stroke-width="6.5" /><path d="M1211 1521.6 L1259 1509.1 L1251.3 1521.6 L1259 1534.1Z" fill="#161616"/>
<line x1="125" y1="1572" x2="214.2" y2="1572" stroke="#161616" stroke-width="6.5" /><path d="M243 1572 L195 1584.5 L202.7 1572 L195 1559.5Z" fill="#161616"/>
<line x1="1329" y1="1572" x2="1239.8" y2="1572" stroke="#161616" stroke-width="6.5" /><path d="M1211 1572 L1259 1559.5 L1251.3 1572 L1259 1584.5Z" fill="#161616"/>
<text x="0" y="0" font-size="55" text-anchor="start" fill="#161616" font-style="italic" transform="translate(261 1350) scale(1.12 1)" >Γ</text><text x="0" y="0" font-size="37.4" text-anchor="start" fill="#161616" transform="translate(294 1360) scale(1.1 1)" >L</text>
<text x="0" y="0" font-size="55" text-anchor="start" fill="#161616" font-style="italic" transform="translate(1118 1350) scale(1.12 1)" >Γ</text><text x="0" y="0" font-size="37.4" text-anchor="start" fill="#161616" transform="translate(1151 1360) scale(1.1 1)" >R</text>
<text x="0" y="0" font-size="58" text-anchor="start" fill="#161616" font-style="italic" transform="translate(65 1434) scale(1.12 1)" >p</text><text x="0" y="0" font-size="40.6" text-anchor="start" fill="#161616" transform="translate(96.9 1444) scale(1.08 1)" >0</text>
<text x="0" y="0" font-size="58" text-anchor="start" fill="#161616" font-style="italic" transform="translate(1345 1434) scale(1.12 1)" >p</text><text x="0" y="0" font-size="40.6" text-anchor="start" fill="#161616" transform="translate(1376.9 1444) scale(1.08 1)" >0</text>
<line x1="478.5" y1="1617.6" x2="478.5" y2="1672.6" stroke="#161616" stroke-width="2.5" /><line x1="542.3" y1="1617.6" x2="542.3" y2="1672.6" stroke="#161616" stroke-width="2.5" /><line x1="486.5" y1="1636" x2="534.3" y2="1636" stroke="#161616" stroke-width="3.5" /><path d="M479.5 1636 L496.5 1629 L493.9 1636 L496.5 1643Z" fill="#161616"/><path d="M541.3 1636 L524.3 1643 L526.8 1636 L524.3 1629Z" fill="#161616"/><text x="0" y="0" font-size="54" text-anchor="middle" fill="#161616" font-style="italic" transform="translate(504.4 1677.5) scale(1.2 1)" >s</text>
<line x1="624.8" y1="1617.6" x2="624.8" y2="1672.6" stroke="#161616" stroke-width="2.5" /><line x1="688.8" y1="1617.6" x2="688.8" y2="1672.6" stroke="#161616" stroke-width="2.5" /><line x1="632.8" y1="1636" x2="680.8" y2="1636" stroke="#161616" stroke-width="3.5" /><path d="M625.8 1636 L642.8 1629 L640.2 1636 L642.8 1643Z" fill="#161616"/><path d="M687.8 1636 L670.8 1643 L673.3 1636 L670.8 1629Z" fill="#161616"/><text x="0" y="0" font-size="54" text-anchor="middle" fill="#161616" font-style="italic" transform="translate(650.8 1677.5) scale(1.2 1)" >s</text>
<line x1="771.4" y1="1617.6" x2="771.4" y2="1672.6" stroke="#161616" stroke-width="2.5" /><line x1="835.5" y1="1617.6" x2="835.5" y2="1672.6" stroke="#161616" stroke-width="2.5" /><line x1="779.4" y1="1636" x2="827.5" y2="1636" stroke="#161616" stroke-width="3.5" /><path d="M772.4 1636 L789.4 1629 L786.9 1636 L789.4 1643Z" fill="#161616"/><path d="M834.5 1636 L817.5 1643 L820 1636 L817.5 1629Z" fill="#161616"/><text x="0" y="0" font-size="54" text-anchor="middle" fill="#161616" font-style="italic" transform="translate(797.5 1677.5) scale(1.2 1)" >s</text>
<line x1="918.6" y1="1617.6" x2="918.6" y2="1672.6" stroke="#161616" stroke-width="2.5" /><line x1="982.5" y1="1617.6" x2="982.5" y2="1672.6" stroke="#161616" stroke-width="2.5" /><line x1="926.6" y1="1636" x2="974.5" y2="1636" stroke="#161616" stroke-width="3.5" /><path d="M919.6 1636 L936.6 1629 L934.1 1636 L936.6 1643Z" fill="#161616"/><path d="M981.5 1636 L964.5 1643 L967 1636 L964.5 1629Z" fill="#161616"/><text x="0" y="0" font-size="54" text-anchor="middle" fill="#161616" font-style="italic" transform="translate(944.5 1677.5) scale(1.2 1)" >s</text>
<text x="65" y="768.5" font-size="57" text-anchor="start" fill="#1a1a1a" font-weight="bold" style='font-family:"Liberation Sans","Noto Sans CJK SC",sans-serif' >c</text>
</g>
<g id="panel_d">
<line x1="1590" y1="785.8" x2="2191.6" y2="785.8" stroke="#c9c9c9" stroke-width="3" />
<line x1="1590" y1="900" x2="2191.6" y2="900" stroke="#c9c9c9" stroke-width="3" />
<line x1="1590" y1="1014.2" x2="2191.6" y2="1014.2" stroke="#c9c9c9" stroke-width="3" />
<line x1="1790.6" y1="727" x2="1790.6" y2="1071" stroke="#c9c9c9" stroke-width="3" />
<line x1="1889" y1="727" x2="1889" y2="1071" stroke="#c9c9c9" stroke-width="3" />
<line x1="1991.6" y1="727" x2="1991.6" y2="1071" stroke="#c9c9c9" stroke-width="3" />
<line x1="1790.6" y1="735" x2="1790.6" y2="1071" stroke="#d8214f" stroke-width="3" stroke-dasharray="46 6"/>
<line x1="1991.6" y1="735" x2="1991.6" y2="1071" stroke="#d8214f" stroke-width="3" stroke-dasharray="46 6"/>
<path d="M1590 900 L1630 899.7 L1630.1 899.7 L1630.3 899.7 L1630.4 899.8 L1630.5 899.8 L1630.7 899.9 L1630.8 900 L1630.9 900.1 L1631.1 900.2 L1631.2 900.3 L1631.3 900.4 L1631.5 900.5 L1631.6 900.5 L1631.8 900.6 L1631.9 900.6 L1632 900.6 L1632.2 900.5 L1632.3 900.5 L1632.4 900.4 L1632.6 900.3 L1632.7 900.1 L1632.8 900 L1633 899.8 L1633.1 899.6 L1633.2 899.5 L1633.4 899.3 L1633.5 899.2 L1633.6 899.1 L1633.8 899 L1633.9 899 L1634 899.1 L1634.2 899.1 L1634.3 899.2 L1634.5 899.4 L1634.6 899.6 L1634.7 899.8 L1634.9 900.1 L1635 900.4 L1635.1 900.6 L1635.3 900.9 L1635.4 901.1 L1635.5 901.3 L1635.7 901.4 L1635.8 901.5 L1635.9 901.5 L1636.1 901.5 L1636.2 901.3 L1636.3 901.1 L1636.5 900.9 L1636.6 900.5 L1636.8 900.2 L1636.9 899.8 L1637 899.4 L1637.2 899 L1637.3 898.6 L1637.4 898.3 L1637.6 898 L1637.7 897.8 L1637.8 897.7 L1638 897.7 L1638.1 897.8 L1638.2 898 L1638.4 898.4 L1638.5 898.8 L1638.6 899.3 L1638.8 899.9 L1638.9 900.4 L1639 901 L1639.2 901.6 L1639.3 902.2 L1639.5 902.6 L1639.6 903 L1639.7 903.2 L1639.9 903.3 L1640 903.3 L1640.1 903.1 L1640.3 902.7 L1640.4 902.2 L1640.5 901.6 L1640.7 900.9 L1640.8 900.1 L1640.9 899.2 L1641.1 898.4 L1641.2 897.6 L1641.3 896.8 L1641.5 896.2 L1641.6 895.7 L1641.7 895.4 L1641.9 895.4 L1642 895.5 L1642.2 895.8 L1642.3 896.4 L1642.4 897.1 L1642.6 898 L1642.7 899 L1642.8 900.1 L1643 901.3 L1643.1 902.4 L1643.2 903.5 L1643.4 904.5 L1643.5 905.2 L1643.6 905.8 L1643.8 906.1 L1643.9 906.2 L1644 906 L1644.2 905.4 L1644.3 904.7 L1644.4 903.6 L1644.6 902.4 L1644.7 901 L1644.8 899.5 L1645 898 L1645.1 896.6 L1645.3 895.2 L1645.4 894 L1645.5 893.1 L1645.7 892.4 L1645.8 892.1 L1645.9 892.1 L1646.1 892.5 L1646.2 893.2 L1646.3 894.3 L1646.5 895.7 L1646.6 897.3 L1646.7 899.1 L1646.9 900.9 L1647 902.8 L1647.1 904.6 L1647.3 906.2 L1647.4 907.6 L1647.5 908.7 L1647.7 909.5 L1647.8 909.8 L1648 909.6 L1648.1 909 L1648.2 908 L1648.4 906.6 L1648.5 904.9 L1648.6 902.9 L1648.8 900.7 L1648.9 898.5 L1649 896.2 L1649.2 894.1 L1649.3 892.2 L1649.4 890.6 L1649.6 889.4 L1649.7 888.7 L1649.8 888.5 L1650 888.8 L1650.1 889.6 L1650.2 890.9 L1650.4 892.6 L1650.5 894.7 L1650.7 897.1 L1650.8 899.6 L1650.9 902.3 L1651.1 904.8 L1651.2 907.2 L1651.3 909.3 L1651.5 911 L1651.6 912.2 L1651.7 912.9 L1651.9 913.1 L1652 912.6 L1652.1 911.5 L1652.3 910 L1652.4 907.9 L1652.5 905.5 L1652.7 902.7 L1652.8 899.9 L1653 897 L1653.1 894.2 L1653.2 891.6 L1653.4 889.4 L1653.5 887.6 L1653.6 886.4 L1653.8 885.8 L1653.9 885.9 L1654 886.5 L1654.2 887.8 L1654.3 889.6 L1654.4 892 L1654.6 894.7 L1654.7 897.6 L1654.8 900.7 L1655 903.8 L1655.1 906.7 L1655.2 909.3 L1655.4 911.6 L1655.5 913.3 L1655.7 914.4 L1655.8 914.9 L1655.9 914.7 L1656.1 913.8 L1656.2 912.4 L1656.3 910.3 L1656.5 907.8 L1656.6 904.9 L1656.7 901.9 L1656.9 898.7 L1657 895.6 L1657.1 892.7 L1657.3 890.1 L1657.4 887.9 L1657.5 886.3 L1657.7 885.4 L1657.8 885.1 L1657.9 885.4 L1658.1 886.4 L1658.2 888 L1658.3 890.2 L1658.5 892.8 L1658.6 895.7 L1658.8 898.7 L1658.9 901.9 L1659 904.9 L1659.2 907.7 L1659.3 910.1 L1659.4 912.1 L1659.6 913.5 L1659.7 914.2 L1659.8 914.4 L1660 913.9 L1660.1 912.8 L1660.2 911.1 L1660.4 908.9 L1660.5 906.4 L1660.6 903.6 L1660.8 900.6 L1660.9 897.7 L1661 894.9 L1661.2 892.4 L1661.3 890.2 L1661.5 888.5 L1661.6 887.3 L1661.7 886.7 L1661.9 886.7 L1662 887.4 L1662.1 888.5 L1662.3 890.2 L1662.4 892.3 L1662.5 894.6 L1662.7 897.2 L1662.8 899.9 L1662.9 902.6 L1663.1 905 L1663.2 907.3 L1663.3 909.1 L1663.5 910.5 L1663.6 911.4 L1663.8 911.8 L1663.9 911.7 L1664 911 L1664.2 909.9 L1664.3 908.3 L1664.4 906.4 L1664.6 904.3 L1664.7 902 L1664.8 899.6 L1665 897.4 L1665.1 895.3 L1665.2 893.4 L1665.4 891.9 L1665.5 890.8 L1665.6 890.1 L1665.8 889.9 L1665.9 890.1 L1666 890.8 L1666.2 891.9 L1666.3 893.3 L1666.5 894.9 L1666.6 896.8 L1666.7 898.7 L1666.9 900.7 L1667 902.5 L1667.1 904.2 L1667.3 905.7 L1667.4 906.9 L1667.5 907.7 L1667.7 908.2 L1667.8 908.3 L1667.9 908 L1668.1 907.4 L1668.2 906.4 L1668.3 905.2 L1668.5 903.8 L1668.6 902.3 L1668.7 900.7 L1668.9 899.2 L1669 897.7 L1669.2 896.4 L1669.3 895.3 L1669.4 894.4 L1669.6 893.8 L1669.7 893.5 L1669.8 893.5 L1670 893.8 L1670.1 894.4 L1670.2 895.2 L1670.4 896.1 L1670.5 897.2 L1670.6 898.4 L1670.8 899.7 L1670.9 900.8 L1671 901.9 L1671.2 902.9 L1671.3 903.7 L1671.4 904.4 L1671.6 904.7 L1671.7 904.9 L1671.8 904.9 L1672 904.6 L1672.1 904.1 L1672.3 903.5 L1672.4 902.7 L1672.5 901.9 L1672.7 901 L1672.8 900.1 L1672.9 899.2 L1673.1 898.4 L1673.2 897.7 L1673.3 897.2 L1673.5 896.8 L1673.6 896.5 L1673.7 896.4 L1673.9 896.5 L1674 896.7 L1674.1 897.1 L1674.3 897.6 L1674.4 898.1 L1674.5 898.8 L1674.7 899.4 L1674.8 900.1 L1675 900.7 L1675.1 901.2 L1675.2 901.7 L1675.4 902 L1675.5 902.3 L1675.6 902.5 L1675.8 902.5 L1675.9 902.4 L1676 902.2 L1676.2 901.9 L1676.3 901.6 L1676.4 901.2 L1676.6 900.8 L1676.7 900.3 L1676.8 899.9 L1677 899.5 L1677.1 899.1 L1677.2 898.8 L1677.4 898.6 L1677.5 898.4 L1677.7 898.3 L1677.8 898.3 L1677.9 898.4 L1678.1 898.6 L1678.2 898.8 L1678.3 899 L1678.5 899.3 L1678.6 899.6 L1678.7 899.8 L1678.9 900.1 L1679 900.4 L1679.1 900.6 L1679.3 900.8 L1679.4 900.9 L1679.5 901 L1679.7 901.1 L1679.8 901.1 L1680 901 L1680.1 900.9 L1680.2 900.8 L1680.4 900.6 L1680.5 900.4 L1680.6 900.2 L1680.8 900.1 L1680.9 899.9 L1681 899.7 L1681.2 899.6 L1681.3 899.5 L1681.4 899.4 L1681.6 899.4 L1681.7 899.3 L1681.8 899.4 L1682 899.4 L1682.1 899.5 L1682.2 899.6 L1682.4 899.7 L1682.5 899.8 L1682.7 899.9 L1682.8 900 L1682.9 900.1 L1683.1 900.2 L1683.2 900.3 L1683.3 900.3 L1683.5 900.4 L1683.6 900.4 L1683.7 900.4 L1683.9 900.4 L1684 900.3 L1690 901.5 L1840 902 L1840 898.6 L1840.2 898.7 L1840.5 898.8 L1840.7 899 L1841 899.3 L1841.2 899.7 L1841.4 900.2 L1841.7 900.6 L1841.9 901.2 L1842.2 901.8 L1842.4 902.4 L1842.6 903 L1842.9 903.6 L1843.1 904.3 L1843.4 904.9 L1843.6 905.4 L1843.8 905.9 L1844.1 906.4 L1844.3 906.7 L1844.6 907 L1844.8 907.2 L1845 907.2 L1845.3 907.2 L1845.5 907.1 L1845.8 906.8 L1846 906.4 L1846.2 905.9 L1846.5 905.4 L1846.7 904.7 L1847 903.9 L1847.2 903.1 L1847.4 902.2 L1847.7 901.3 L1847.9 900.4 L1848.2 899.5 L1848.4 898.6 L1848.6 897.7 L1848.9 896.9 L1849.1 896.2 L1849.4 895.6 L1849.6 895.1 L1849.8 894.7 L1850.1 894.5 L1850.3 894.4 L1850.6 894.5 L1850.8 894.8 L1851 895.2 L1851.3 895.8 L1851.5 896.5 L1851.8 897.3 L1852 898.3 L1852.2 899.4 L1852.5 900.6 L1852.7 901.8 L1853 903.1 L1853.2 904.4 L1853.4 905.7 L1853.7 906.9 L1853.9 908.1 L1854.2 909.2 L1854.4 910.1 L1854.6 910.9 L1854.9 911.5 L1855.1 912 L1855.4 912.2 L1855.6 912.2 L1855.8 912.1 L1856.1 911.7 L1856.3 911.1 L1856.6 910.2 L1856.8 909.2 L1857 908 L1857.3 906.7 L1857.5 905.2 L1857.8 903.6 L1858 902 L1858.2 900.3 L1858.5 898.6 L1858.7 897 L1859 895.4 L1859.2 893.9 L1859.4 892.6 L1859.7 891.4 L1859.9 890.4 L1860.2 889.7 L1860.4 889.2 L1860.6 888.9 L1860.9 889 L1861.1 889.3 L1861.4 889.8 L1861.6 890.7 L1861.8 891.8 L1862.1 893.1 L1862.3 894.6 L1862.6 896.4 L1862.8 898.2 L1863 900.2 L1863.3 902.3 L1863.5 904.3 L1863.8 906.4 L1864 908.4 L1864.2 910.3 L1864.5 912.1 L1864.7 913.7 L1865 915 L1865.2 916.1 L1865.4 917 L1865.7 917.5 L1865.9 917.7 L1866.2 917.6 L1866.4 917.1 L1866.6 916.4 L1866.9 915.3 L1867.1 913.9 L1867.4 912.3 L1867.6 910.4 L1867.8 908.4 L1868.1 906.1 L1868.3 903.8 L1868.6 901.4 L1868.8 899 L1869 896.6 L1869.3 894.3 L1869.5 892.1 L1869.8 890.2 L1870 888.4 L1870.2 886.9 L1870.5 885.8 L1870.7 884.9 L1871 884.4 L1871.2 884.3 L1871.4 884.5 L1871.7 885.1 L1871.9 886 L1872.2 887.3 L1872.4 888.9 L1872.6 890.8 L1872.9 892.9 L1873.1 895.3 L1873.4 897.8 L1873.6 900.4 L1873.8 903 L1874.1 905.6 L1874.3 908.2 L1874.6 910.7 L1874.8 913 L1875 915 L1875.3 916.8 L1875.5 918.3 L1875.8 919.5 L1876 920.3 L1876.2 920.8 L1876.5 920.8 L1876.7 920.5 L1877 919.8 L1877.2 918.7 L1877.4 917.2 L1877.7 915.5 L1877.9 913.4 L1878.2 911.1 L1878.4 908.7 L1878.6 906.1 L1878.9 903.4 L1879.1 900.6 L1879.4 897.9 L1879.6 895.3 L1879.8 892.9 L1880.1 890.6 L1880.3 888.5 L1880.6 886.7 L1880.8 885.3 L1881 884.2 L1881.3 883.5 L1881.5 883.1 L1881.8 883.2 L1882 883.6 L1882.2 884.4 L1882.5 885.6 L1882.7 887.1 L1883 888.9 L1883.2 890.9 L1883.4 893.2 L1883.7 895.6 L1883.9 898.2 L1884.2 900.8 L1884.4 903.5 L1884.6 906.1 L1884.9 908.5 L1885.1 910.9 L1885.4 913 L1885.6 914.9 L1885.8 916.5 L1886.1 917.7 L1886.3 918.7 L1886.6 919.3 L1886.8 919.5 L1887 919.3 L1887.3 918.8 L1887.5 917.9 L1887.8 916.7 L1888 915.3 L1888.2 913.5 L1888.5 911.5 L1888.7 909.3 L1889 907 L1889.2 904.7 L1889.4 902.2 L1889.7 899.8 L1889.9 897.5 L1890.2 895.2 L1890.4 893.1 L1890.6 891.3 L1890.9 889.6 L1891.1 888.2 L1891.4 887.2 L1891.6 886.4 L1891.8 885.9 L1892.1 885.8 L1892.3 886 L1892.6 886.5 L1892.8 887.3 L1893 888.4 L1893.3 889.8 L1893.5 891.4 L1893.8 893.1 L1894 895 L1894.2 897 L1894.5 899.1 L1894.7 901.2 L1895 903.2 L1895.2 905.2 L1895.4 907 L1895.7 908.7 L1895.9 910.3 L1896.2 911.6 L1896.4 912.7 L1896.6 913.5 L1896.9 914.1 L1897.1 914.4 L1897.4 914.4 L1897.6 914.1 L1897.8 913.6 L1898.1 912.8 L1898.3 911.9 L1898.6 910.7 L1898.8 909.3 L1899 907.8 L1899.3 906.3 L1899.5 904.6 L1899.8 902.9 L1900 901.2 L1900.2 899.5 L1900.5 898 L1900.7 896.5 L1901 895.1 L1901.2 893.9 L1901.4 892.9 L1901.7 892.1 L1901.9 891.5 L1902.2 891 L1902.4 890.9 L1902.6 890.9 L1902.9 891.1 L1903.1 891.6 L1903.4 892.2 L1903.6 893 L1903.8 893.9 L1904.1 895 L1904.3 896.1 L1904.6 897.3 L1904.8 898.6 L1905 899.9 L1905.3 901.1 L1905.5 902.4 L1905.8 903.5 L1906 904.6 L1906.2 905.6 L1906.5 906.5 L1906.7 907.2 L1907 907.7 L1907.2 908.1 L1907.4 908.4 L1907.7 908.5 L1907.9 908.4 L1908.2 908.2 L1908.4 907.8 L1908.6 907.3 L1908.9 906.7 L1909.1 905.9 L1909.4 905.1 L1909.6 904.3 L1909.8 903.3 L1910.1 902.4 L1910.3 901.5 L1910.6 900.6 L1910.8 899.7 L1911 898.8 L1911.3 898.1 L1911.5 897.4 L1911.8 896.8 L1912 896.3 L1912.2 895.9 L1912.5 895.6 L1912.7 895.5 L1913 895.4 L1913.2 895.5 L1913.4 895.7 L1913.7 895.9 L1913.9 896.3 L1914.2 896.7 L1914.4 897.2 L1914.6 897.8 L1914.9 898.3 L1915.1 899 L1915.4 899.6 L1915.6 900.2 L1915.8 900.8 L1916.1 901.4 L1916.3 901.9 L1916.6 902.4 L1916.8 902.8 L1917 903.2 L1917.3 903.5 L1917.5 903.7 L1917.8 903.8 L1918 903.9 L1918.2 903.9 L1918.5 903.8 L1918.7 903.7 L1919 903.5 L1919.2 903.2 L1919.4 902.9 L1919.7 902.6 L1919.9 902.2 L1920.2 901.8 L1920.4 901.4 L1920.6 901 L1920.9 900.6 L1921.1 900.2 L1921.4 899.8 L1921.6 899.4 L1921.8 899.1 L1922.1 898.9 L1922.3 898.6 L1922.6 898.4 L1922.8 898.3 L1923 898.2 L1923.3 898.2 L1923.5 898.2 L1923.8 898.2 L1924 898.3 L1924.2 898.4 L1924.5 898.6 L1924.7 898.7 L1925 898.9 L1925.2 899.1 L1925.4 899.4 L1925.7 899.6 L1925.9 899.8 L1926.2 900.1 L1926.4 900.3 L1926.6 900.5 L1926.9 900.7 L1927.1 900.8 L1927.4 901 L1927.6 901.1 L1927.8 901.2 L1928.1 901.2 L1928.3 901.3 L1928.6 901.3 L1928.8 901.3 L1929 901.2 L1929.3 901.1 L1929.5 901.1 L1929.8 900.9 L1930 900.8 L1930.2 900.7 L1930.5 900.6 L1930.7 900.4 L1931 900.3 L1931.2 900.2 L1931.4 900 L1931.7 899.9 L1931.9 899.8 L1932.2 899.7 L1932.4 899.6 L1932.6 899.5 L1932.9 899.4 L1933.1 899.4 L1933.4 899.4 L1933.6 899.3 L1933.8 899.3 L1934.1 899.3 L1934.3 899.4 L1934.6 899.4 L1934.8 899.5 L1935 899.5 L1935.3 899.6 L1935.5 899.6 L1935.8 899.7 L1936 899.8 L1936.2 899.9 L1936.5 899.9 L1936.7 900 L1937 900.1 L1937.2 900.1 L1937.4 900.2 L1937.7 900.2 L1937.9 900.3 L1938.2 900.3 L1938.4 900.3 L1938.6 900.3 L1938.9 900.3 L1939.1 900.3 L1939.4 900.3 L1939.6 900.3 L1939.8 900.3 L1940.1 900.3 L1940.3 900.2 L1940.6 900.2 L1940.8 900.2 L1941 900.1 L1941.3 900.1 L1941.5 900.1 L1941.8 900 L1942 900 L1942.2 900 L1942.5 899.9 L1942.7 899.9 L1943 899.9 L1943.2 899.9 L1943.4 899.9 L1943.7 899.8 L1943.9 899.8 L1944.2 899.8 L1944.4 899.8 L1944.6 899.8 L1944.9 899.8 L1945.1 899.9 L1945.4 899.9 L1945.6 899.9 L1945.8 899.9 L1946.1 899.9 L1946.3 899.9 L1946.6 900 L1946.8 900 L1947 900 L1947.3 900 L1947.5 900 L1947.8 900 L1948 900 L1948.2 900.1 L1948.5 900.1 L1948.7 900.1 L1949 900.1 L1949.2 900.1 L1949.4 900.1 L1949.7 900.1 L1949.9 900.1 L1950.2 900.1 L1950.4 900.1 L1950.6 900.1 L1950.9 900.1 L1951.1 900 L1951.4 900 L1951.6 900 L1951.8 900 L1952.1 900 L1952.3 900 L1952.6 900 L1952.8 900 L1953 900 L1953.3 900 L1953.5 900 L1953.8 900 L1954 900 L1954.2 900 L1954.5 900 L1954.7 900 L1955 900 L1955.2 900 L1955.4 900 L1955.7 900 L1955.9 900 L1956.2 900 L1956.4 900 L1956.6 900 L1956.9 900 L1957.1 900 L1957.4 900 L1957.6 900 L1957.8 900 L1958.1 900 L1958.3 900 L1958.6 900 L1958.8 900 L1959 900 L1959.3 900 L1959.5 900 L1959.8 900 L1960 900 L2006 900" stroke="#141414" stroke-width="3" fill="none" stroke-linejoin="round"/>
<path d="M2006 900 L2006.1 900 L2006.2 899.9 L2006.2 899.9 L2006.3 899.9 L2006.4 899.8 L2006.5 899.8 L2006.5 899.8 L2006.6 899.7 L2006.7 899.7 L2006.8 899.7 L2006.8 899.7 L2006.9 899.7 L2007 899.7 L2007.1 899.7 L2007.1 899.7 L2007.2 899.7 L2007.3 899.7 L2007.4 899.8 L2007.4 899.8 L2007.5 899.9 L2007.6 899.9 L2007.7 900 L2007.7 900 L2007.8 900.1 L2007.9 900.1 L2008 900.1 L2008 900.2 L2008.1 900.2 L2008.2 900.2 L2008.3 900.3 L2008.3 900.3 L2008.4 900.3 L2008.5 900.3 L2008.6 900.4 L2008.6 900.4 L2008.7 900.4 L2008.8 900.3 L2008.9 900.3 L2008.9 900.3 L2009 900.3 L2009.1 900.2 L2009.2 900.2 L2009.2 900.1 L2009.3 900.1 L2009.4 900 L2009.5 899.9 L2009.6 899.8 L2009.6 899.6 L2009.7 899.5 L2009.8 899.4 L2009.9 899.3 L2009.9 899.2 L2010 899.1 L2010.1 899 L2010.2 899 L2010.2 898.9 L2010.3 898.9 L2010.4 898.9 L2010.5 898.9 L2010.5 899 L2010.6 899 L2010.7 899.1 L2010.8 899.3 L2010.8 899.4 L2010.9 899.5 L2011 899.7 L2011.1 899.9 L2011.1 900.1 L2011.2 900.2 L2011.3 900.3 L2011.4 900.4 L2011.4 900.5 L2011.5 900.7 L2011.6 900.8 L2011.7 900.9 L2011.7 900.9 L2011.8 901 L2011.9 901.1 L2012 901.1 L2012 901.1 L2012.1 901.1 L2012.2 901 L2012.3 901 L2012.3 900.9 L2012.4 900.8 L2012.5 900.7 L2012.6 900.5 L2012.6 900.4 L2012.7 900.2 L2012.8 900 L2012.9 899.7 L2013 899.3 L2013 899 L2013.1 898.6 L2013.2 898.3 L2013.3 898 L2013.3 897.7 L2013.4 897.4 L2013.5 897.2 L2013.6 897 L2013.6 896.9 L2013.7 896.9 L2013.8 896.9 L2013.9 897 L2013.9 897.1 L2014 897.3 L2014.1 897.6 L2014.2 897.9 L2014.2 898.3 L2014.3 898.7 L2014.4 899.2 L2014.5 899.7 L2014.5 900.2 L2014.6 900.5 L2014.7 900.8 L2014.8 901.1 L2014.8 901.5 L2014.9 901.8 L2015 902.1 L2015.1 902.3 L2015.1 902.5 L2015.2 902.7 L2015.3 902.8 L2015.4 902.9 L2015.4 902.9 L2015.5 902.9 L2015.6 902.8 L2015.7 902.6 L2015.7 902.4 L2015.8 902.1 L2015.9 901.8 L2016 901.4 L2016 901 L2016.1 900.5 L2016.2 900 L2016.3 899.1 L2016.4 898.2 L2016.4 897.3 L2016.5 896.4 L2016.6 895.6 L2016.7 894.8 L2016.7 894.1 L2016.8 893.5 L2016.9 893 L2017 892.6 L2017 892.3 L2017.1 892.2 L2017.2 892.3 L2017.3 892.5 L2017.3 892.8 L2017.4 893.3 L2017.5 894 L2017.6 894.8 L2017.6 895.8 L2017.7 896.9 L2017.8 898.1 L2017.9 899.3 L2017.9 900.4 L2018 901.2 L2018.1 902 L2018.2 902.8 L2018.2 903.5 L2018.3 904.2 L2018.4 904.9 L2018.5 905.5 L2018.5 906 L2018.6 906.4 L2018.7 906.6 L2018.8 906.8 L2018.8 906.8 L2018.9 906.7 L2019 906.4 L2019.1 906 L2019.1 905.5 L2019.2 904.9 L2019.3 904.1 L2019.4 903.2 L2019.4 902.2 L2019.5 901.1 L2019.6 900 L2019.7 898 L2019.8 896 L2019.8 893.9 L2019.9 892 L2020 890.1 L2020.1 888.4 L2020.1 886.8 L2020.2 885.4 L2020.3 884.3 L2020.4 883.5 L2020.4 883 L2020.5 882.8 L2020.6 883 L2020.7 883.5 L2020.7 884.3 L2020.8 885.5 L2020.9 887 L2021 888.8 L2021 890.9 L2021.1 893.3 L2021.2 895.9 L2021.3 898.6 L2021.3 900.8 L2021.4 902.5 L2021.5 904.2 L2021.6 905.9 L2021.6 907.5 L2021.7 908.9 L2021.8 910.3 L2021.9 911.5 L2021.9 912.5 L2022 913.3 L2022.1 913.8 L2022.2 914.1 L2022.2 914.1 L2022.3 913.8 L2022.4 913.2 L2022.5 912.4 L2022.5 911.3 L2022.6 909.9 L2022.7 908.3 L2022.8 906.4 L2022.8 904.4 L2022.9 902.3 L2023 900 L2023.1 896 L2023.2 891.9 L2023.2 887.9 L2023.3 884 L2023.4 880.4 L2023.5 877 L2023.5 874 L2023.6 871.4 L2023.7 869.3 L2023.8 867.8 L2023.8 866.9 L2023.9 866.6 L2024 867 L2024.1 868 L2024.1 869.8 L2024.2 872.1 L2024.3 875.1 L2024.4 878.7 L2024.4 882.7 L2024.5 887.3 L2024.6 892.2 L2024.7 897.3 L2024.7 901.6 L2024.8 904.7 L2024.9 907.9 L2025 910.9 L2025 913.9 L2025.1 916.6 L2025.2 919.1 L2025.3 921.2 L2025.3 923 L2025.4 924.4 L2025.5 925.3 L2025.6 925.7 L2025.6 925.6 L2025.7 925 L2025.8 923.9 L2025.9 922.4 L2025.9 920.3 L2026 917.7 L2026.1 914.8 L2026.2 911.5 L2026.2 907.9 L2026.3 904 L2026.4 900 L2026.5 892.9 L2026.6 885.8 L2026.6 878.8 L2026.7 872.1 L2026.8 865.8 L2026.9 860 L2026.9 854.9 L2027 850.5 L2027.1 847.1 L2027.2 844.6 L2027.2 843.2 L2027.3 842.9 L2027.4 843.7 L2027.5 845.6 L2027.5 848.7 L2027.6 852.8 L2027.7 858 L2027.8 864.1 L2027.8 871 L2027.9 878.7 L2028 886.9 L2028.1 895.6 L2028.1 902.6 L2028.2 907.8 L2028.3 913 L2028.4 918 L2028.4 922.8 L2028.5 927.2 L2028.6 931.1 L2028.7 934.5 L2028.7 937.3 L2028.8 939.4 L2028.9 940.7 L2029 941.3 L2029 941.1 L2029.1 940 L2029.2 938.2 L2029.3 935.5 L2029.3 932.1 L2029.4 928 L2029.5 923.3 L2029.6 918.1 L2029.6 912.3 L2029.7 906.3 L2029.8 900 L2029.9 889 L2030 878 L2030 867.2 L2030.1 857 L2030.2 847.4 L2030.3 838.7 L2030.3 831 L2030.4 824.6 L2030.5 819.6 L2030.6 816.1 L2030.6 814.2 L2030.7 813.9 L2030.8 815.4 L2030.9 818.5 L2030.9 823.3 L2031 829.7 L2031.1 837.6 L2031.2 846.8 L2031.2 857.2 L2031.3 868.6 L2031.4 880.8 L2031.5 893.5 L2031.5 903.8 L2031.6 911.4 L2031.7 918.9 L2031.8 926.1 L2031.8 932.9 L2031.9 939.1 L2032 944.7 L2032.1 949.4 L2032.1 953.3 L2032.2 956.1 L2032.3 957.9 L2032.4 958.5 L2032.4 958 L2032.5 956.4 L2032.6 953.6 L2032.7 949.8 L2032.7 944.9 L2032.8 939.1 L2032.9 932.4 L2033 925 L2033 917 L2033.1 908.7 L2033.2 900 L2033.3 884.9 L2033.4 869.9 L2033.4 855.4 L2033.5 841.6 L2033.6 828.7 L2033.7 817.2 L2033.7 807.1 L2033.8 798.8 L2033.9 792.4 L2034 788 L2034 785.8 L2034.1 785.7 L2034.2 788 L2034.3 792.5 L2034.3 799.1 L2034.4 807.7 L2034.5 818.3 L2034.6 830.5 L2034.6 844.3 L2034.7 859.2 L2034.8 875.1 L2034.9 891.6 L2034.9 904.9 L2035 914.6 L2035.1 924.2 L2035.2 933.3 L2035.2 941.8 L2035.3 949.7 L2035.4 956.5 L2035.5 962.4 L2035.5 967 L2035.6 970.4 L2035.7 972.4 L2035.8 973 L2035.8 972.2 L2035.9 970 L2036 966.4 L2036.1 961.4 L2036.1 955.2 L2036.2 947.9 L2036.3 939.6 L2036.4 930.5 L2036.4 920.7 L2036.5 910.5 L2036.6 900 L2036.7 881.8 L2036.8 863.8 L2036.8 846.5 L2036.9 830.1 L2037 815 L2037.1 801.5 L2037.1 789.9 L2037.2 780.3 L2037.3 773.1 L2037.4 768.3 L2037.4 766 L2037.5 766.4 L2037.6 769.4 L2037.7 774.9 L2037.7 783 L2037.8 793.3 L2037.9 805.8 L2038 820.1 L2038 836.1 L2038.1 853.4 L2038.2 871.6 L2038.3 890.5 L2038.3 905.5 L2038.4 916.5 L2038.5 927.2 L2038.6 937.4 L2038.6 946.9 L2038.7 955.5 L2038.8 963 L2038.9 969.3 L2038.9 974.3 L2039 977.8 L2039.1 979.8 L2039.2 980.3 L2039.2 979.1 L2039.3 976.5 L2039.4 972.3 L2039.5 966.7 L2039.5 959.8 L2039.6 951.8 L2039.7 942.7 L2039.8 932.8 L2039.8 922.2 L2039.9 911.2 L2040 900 L2040.1 880.7 L2040.2 861.7 L2040.2 843.5 L2040.3 826.4 L2040.4 810.7 L2040.5 796.8 L2040.5 784.9 L2040.6 775.3 L2040.7 768.1 L2040.8 763.5 L2040.8 761.6 L2040.9 762.4 L2041 765.8 L2041.1 771.9 L2041.1 780.5 L2041.2 791.3 L2041.3 804.3 L2041.4 819.1 L2041.4 835.5 L2041.5 853.1 L2041.6 871.5 L2041.7 890.4 L2041.7 905.5 L2041.8 916.5 L2041.9 927 L2042 937.1 L2042 946.3 L2042.1 954.6 L2042.2 961.9 L2042.3 967.9 L2042.3 972.5 L2042.4 975.8 L2042.5 977.5 L2042.6 977.7 L2042.6 976.4 L2042.7 973.6 L2042.8 969.4 L2042.9 963.9 L2042.9 957.1 L2043 949.3 L2043.1 940.5 L2043.2 931 L2043.2 921 L2043.3 910.6 L2043.4 900 L2043.5 881.9 L2043.6 864.2 L2043.6 847.4 L2043.7 831.7 L2043.8 817.4 L2043.9 804.8 L2043.9 794.1 L2044 785.6 L2044.1 779.3 L2044.2 775.5 L2044.2 774.1 L2044.3 775.1 L2044.4 778.6 L2044.5 784.4 L2044.5 792.5 L2044.6 802.5 L2044.7 814.4 L2044.8 827.8 L2044.8 842.6 L2044.9 858.4 L2045 874.8 L2045.1 891.6 L2045.1 904.9 L2045.2 914.4 L2045.3 923.7 L2045.4 932.3 L2045.4 940.3 L2045.5 947.4 L2045.6 953.5 L2045.7 958.5 L2045.7 962.4 L2045.8 965 L2045.9 966.3 L2046 966.3 L2046 965 L2046.1 962.4 L2046.2 958.7 L2046.3 953.9 L2046.3 948 L2046.4 941.3 L2046.5 933.9 L2046.6 925.9 L2046.6 917.4 L2046.7 908.8 L2046.8 900 L2046.9 885.1 L2047 870.6 L2047 856.9 L2047.1 844.1 L2047.2 832.7 L2047.3 822.6 L2047.3 814.2 L2047.4 807.5 L2047.5 802.7 L2047.6 799.9 L2047.6 799.1 L2047.7 800.2 L2047.8 803.3 L2047.9 808.2 L2047.9 814.8 L2048 823 L2048.1 832.5 L2048.2 843.3 L2048.2 855 L2048.3 867.5 L2048.4 880.4 L2048.5 893.5 L2048.5 903.8 L2048.6 911.2 L2048.7 918.2 L2048.8 924.8 L2048.8 930.9 L2048.9 936.2 L2049 940.8 L2049.1 944.5 L2049.1 947.3 L2049.2 949.1 L2049.3 949.9 L2049.4 949.8 L2049.4 948.7 L2049.5 946.6 L2049.6 943.7 L2049.7 940 L2049.7 935.6 L2049.8 930.5 L2049.9 925 L2050 919 L2050 912.8 L2050.1 906.4 L2050.2 900 L2050.3 889.2 L2050.4 878.7 L2050.4 868.9 L2050.5 859.8 L2050.6 851.6 L2050.7 844.6 L2050.7 838.7 L2050.8 834.2 L2050.9 831 L2051 829.1 L2051 828.8 L2051.1 829.7 L2051.2 832.1 L2051.3 835.7 L2051.3 840.5 L2051.4 846.4 L2051.5 853.2 L2051.6 860.8 L2051.6 869 L2051.7 877.6 L2051.8 886.5 L2051.9 895.5 L2051.9 902.6 L2052 907.6 L2052.1 912.4 L2052.2 916.8 L2052.2 920.8 L2052.3 924.4 L2052.4 927.4 L2052.5 929.8 L2052.5 931.5 L2052.6 932.7 L2052.7 933.1 L2052.8 932.9 L2052.8 932.1 L2052.9 930.7 L2053 928.7 L2053.1 926.2 L2053.1 923.2 L2053.2 919.9 L2053.3 916.2 L2053.4 912.3 L2053.4 908.2 L2053.5 904.1 L2053.6 900 L2053.7 893.1 L2053.8 886.4 L2053.8 880.2 L2053.9 874.5 L2054 869.4 L2054.1 865 L2054.1 861.5 L2054.2 858.7 L2054.3 856.8 L2054.4 855.8 L2054.4 855.7 L2054.5 856.4 L2054.6 858 L2054.7 860.4 L2054.7 863.4 L2054.8 867.1 L2054.9 871.4 L2055 876.1 L2055 881.1 L2055.1 886.4 L2055.2 891.8 L2055.3 897.3 L2055.3 901.5 L2055.4 904.6 L2055.5 907.4 L2055.6 910 L2055.6 912.4 L2055.7 914.4 L2055.8 916.2 L2055.9 917.5 L2055.9 918.5 L2056 919.1 L2056.1 919.4 L2056.2 919.2 L2056.2 918.7 L2056.3 917.8 L2056.4 916.6 L2056.5 915.1 L2056.5 913.3 L2056.6 911.4 L2056.7 909.3 L2056.8 907 L2056.8 904.7 L2056.9 902.3 L2057 900 L2057.1 896.1 L2057.2 892.4 L2057.2 888.9 L2057.3 885.7 L2057.4 883 L2057.5 880.6 L2057.5 878.7 L2057.6 877.2 L2057.7 876.2 L2057.8 875.7 L2057.8 875.7 L2057.9 876.2 L2058 877.1 L2058.1 878.5 L2058.1 880.2 L2058.2 882.2 L2058.3 884.6 L2058.4 887.1 L2058.4 889.9 L2058.5 892.7 L2058.6 895.7 L2058.7 898.6 L2058.7 900.8 L2058.8 902.4 L2058.9 903.9 L2059 905.3 L2059 906.5 L2059.1 907.5 L2059.2 908.4 L2059.3 909.1 L2059.3 909.6 L2059.4 909.9 L2059.5 910 L2059.6 909.9 L2059.6 909.6 L2059.7 909.1 L2059.8 908.4 L2059.9 907.7 L2059.9 906.8 L2060 905.7 L2060.1 904.7 L2060.2 903.5 L2060.2 902.3 L2060.3 901.2 L2060.4 900 L2060.5 898.1 L2060.6 896.2 L2060.6 894.5 L2060.7 893 L2060.8 891.6 L2060.9 890.5 L2060.9 889.6 L2061 888.9 L2061.1 888.5 L2061.2 888.3 L2061.2 888.3 L2061.3 888.5 L2061.4 889 L2061.5 889.7 L2061.5 890.5 L2061.6 891.6 L2061.7 892.7 L2061.8 893.9 L2061.8 895.2 L2061.9 896.6 L2062 898 L2062.1 899.3 L2062.1 900.4 L2062.2 901.1 L2062.3 901.8 L2062.4 902.4 L2062.4 903 L2062.5 903.5 L2062.6 903.9 L2062.7 904.2 L2062.7 904.4 L2062.8 904.5 L2062.9 904.5 L2063 904.5 L2063 904.3 L2063.1 904.1 L2063.2 903.8 L2063.3 903.4 L2063.3 903 L2063.4 902.6 L2063.5 902.1 L2063.6 901.6 L2063.6 901 L2063.7 900.5 L2063.8 900 L2063.9 899.2 L2064 898.4 L2064 897.6 L2064.1 897 L2064.2 896.4 L2064.3 895.9 L2064.3 895.5 L2064.4 895.2 L2064.5 895.1 L2064.6 895 L2064.6 895 L2064.7 895.1 L2064.8 895.4 L2064.9 895.7 L2064.9 896 L2065 896.5 L2065.1 896.9 L2065.2 897.5 L2065.2 898 L2065.3 898.6 L2065.4 899.2 L2065.5 899.7 L2065.5 900.2 L2065.6 900.5 L2065.7 900.7 L2065.8 901 L2065.8 901.2 L2065.9 901.4 L2066 901.6 L2066.1 901.7 L2066.1 901.8 L2066.2 901.8 L2066.3 901.8 L2066.4 901.8 L2066.4 901.7 L2066.5 901.6 L2066.6 901.5 L2066.7 901.3 L2066.7 901.2 L2066.8 901 L2066.9 900.8 L2067 900.6 L2067 900.4 L2067.1 900.2 L2067.2 900 L2067.3 899.7 L2067.4 899.4 L2067.4 899.1 L2067.5 898.8 L2067.6 898.6 L2067.7 898.4 L2067.7 898.3 L2067.8 898.2 L2067.9 898.1 L2068 898.1 L2068 898.1 L2068.1 898.2 L2068.2 898.3 L2068.3 898.4 L2068.3 898.5 L2068.4 898.7 L2068.5 898.9 L2068.6 899.1 L2068.6 899.3 L2068.7 899.5 L2068.8 899.7 L2068.9 899.9 L2068.9 900.1 L2069 900.2 L2069.1 900.3 L2069.2 900.4 L2069.2 900.4 L2069.3 900.5 L2069.4 900.6 L2069.5 900.6 L2069.5 900.6 L2069.6 900.6 L2069.7 900.6 L2069.8 900.6 L2069.8 900.6 L2069.9 900.6 L2070 900.5 L2070.1 900.5 L2070.1 900.4 L2070.2 900.3 L2070.3 900.3 L2070.4 900.2 L2070.4 900.1 L2070.5 900.1 L2070.6 900 L2070.7 899.9 L2070.8 899.8 L2070.8 899.7 L2070.9 899.6 L2071 899.5 L2071.1 899.5 L2071.1 899.4 L2071.2 899.4 L2071.3 899.4 L2071.4 899.4 L2071.4 899.4 L2071.5 899.4 L2071.6 899.4 L2071.7 899.5 L2071.7 899.5 L2071.8 899.6 L2071.9 899.6 L2072 899.7 L2072 899.8 L2072.1 899.8 L2072.2 899.9 L2072.3 900 L2072.3 900 L2072.4 900.1 L2072.5 900.1 L2072.6 900.1 L2072.6 900.1 L2072.7 900.2 L2072.8 900.2 L2072.9 900.2 L2072.9 900.2 L2073 900.2 L2073.1 900.2 L2073.2 900.2 L2073.2 900.2 L2073.3 900.2 L2073.4 900.2 L2073.5 900.1 L2073.5 900.1 L2073.6 900.1 L2073.7 900.1 L2073.8 900.1 L2073.8 900 L2073.9 900 L2074 900" stroke="#141414" stroke-width="2.6" fill="none" stroke-linejoin="round"/>
<line x1="2070" y1="900" x2="2191.6" y2="900" stroke="#141414" stroke-width="3" />
<rect x="1723" y="875" width="281" height="59" fill="none" stroke="#45379a" stroke-width="5" stroke-dasharray="27 13"/>
<line x1="1723" y1="934" x2="1622" y2="1256" stroke="#45379a" stroke-width="5" stroke-dasharray="34 17"/>
<line x1="2004" y1="934" x2="2164" y2="1256" stroke="#45379a" stroke-width="5" stroke-dasharray="34 17"/>
<rect x="1590" y="727" width="601.6" height="344" fill="none" stroke="#141414" stroke-width="4" />
<line x1="1590" y1="785.8" x2="1599" y2="785.8" stroke="#141414" stroke-width="2.5" />
<line x1="1590" y1="1014.2" x2="1599" y2="1014.2" stroke="#141414" stroke-width="2.5" />
<line x1="1889" y1="1071" x2="1889" y2="1062" stroke="#141414" stroke-width="2.5" />
<line x1="1701" y1="850" x2="1642" y2="850" stroke="#141414" stroke-width="4.5" /><path d="M1624 850 L1654 841.5 L1648 850 L1654 858.5Z" fill="#141414"/>
<line x1="1917" y1="850" x2="1856" y2="850" stroke="#141414" stroke-width="4.5" /><path d="M1838 850 L1868 841.5 L1862 850 L1868 858.5Z" fill="#141414"/>
<text x="0" y="0" font-size="54" text-anchor="end" fill="#161616" transform="translate(1571 808) scale(1.2 1)" >1</text>
<text x="0" y="0" font-size="54" text-anchor="end" fill="#161616" transform="translate(1571 918.5) scale(1.2 1)" >0</text>
<text x="0" y="0" font-size="54" text-anchor="end" fill="#161616" transform="translate(1571 1036) scale(1.2 1)" >1</text><text x="0" y="0" font-size="54" text-anchor="end" fill="#161616" transform="translate(1532.6 1036) scale(1.344 1)" >−</text>
<text x="0" y="0" font-size="54" text-anchor="middle" fill="#161616" transform="translate(1791 1129) scale(1.2 1)" >1</text>
<text x="0" y="0" font-size="54" text-anchor="middle" fill="#161616" transform="translate(1892 1129) scale(1.2 1)" >50</text>
<text x="0" y="0" font-size="54" text-anchor="middle" fill="#161616" transform="translate(1992 1129) scale(1.2 1)" >101</text>
<text x="1890" y="1201" font-size="54" text-anchor="middle" fill="#141414" >传播距离</text>
<text x="0" y="0" font-size="56" text-anchor="middle" fill="#141414" font-style="italic" transform="translate(1498 884) scale(1.4 1)" >u</text><line x1="1473" y1="901" x2="1519" y2="901" stroke="#141414" stroke-width="2.5" /><text x="0" y="0" font-size="56" text-anchor="middle" fill="#141414" font-style="italic" transform="translate(1492 951) scale(1.12 1)" >U</text>
<text x="0" y="0" font-size="55" text-anchor="start" fill="#161616" font-style="italic" transform="translate(1611 778) scale(1.12 1)" >Γ</text><text x="0" y="0" font-size="37.4" text-anchor="start" fill="#161616" transform="translate(1644 788) scale(1.1 1)" >L</text>
<text x="0" y="0" font-size="55" text-anchor="start" fill="#161616" font-style="italic" transform="translate(2119 778) scale(1.12 1)" >Γ</text><text x="0" y="0" font-size="37.4" text-anchor="start" fill="#161616" transform="translate(2152 788) scale(1.1 1)" >R</text>
<text x="1423" y="767.5" font-size="57" text-anchor="start" fill="#1a1a1a" font-weight="bold" style='font-family:"Liberation Sans","Noto Sans CJK SC",sans-serif' >d</text>
<line x1="1621.8" y1="1427.5" x2="2164" y2="1427.5" stroke="#c9c9c9" stroke-width="3" />
<line x1="1750.7" y1="1255.7" x2="1750.7" y2="1599.2" stroke="#c9c9c9" stroke-width="3" />
<line x1="1937" y1="1255.7" x2="1937" y2="1599.2" stroke="#c9c9c9" stroke-width="3" />
<line x1="2133" y1="1255.7" x2="2133" y2="1599.2" stroke="#c9c9c9" stroke-width="3" />
<line x1="1750.7" y1="1263.7" x2="1750.7" y2="1599.2" stroke="#d8214f" stroke-width="3" stroke-dasharray="46 6"/>
<line x1="2133" y1="1263.7" x2="2133" y2="1599.2" stroke="#d8214f" stroke-width="3" stroke-dasharray="46 6"/>
<path d="M1621.8 1450.2 L1750.7 1450.2 L1750.7 1450.2 L1751 1450.2 L1751.3 1450.2 L1751.6 1450.2 L1751.9 1450.2 L1752.2 1450.2 L1752.4 1450.2 L1752.7 1450.2 L1753 1450.2 L1753.3 1450.2 L1753.6 1450.2 L1753.9 1450.2 L1754.2 1450.2 L1754.5 1450.2 L1754.8 1450.2 L1755.1 1450.2 L1755.4 1450.2 L1755.7 1450.2 L1755.9 1450.2 L1756.2 1450.2 L1756.5 1450.2 L1756.8 1450.2 L1757.1 1450.2 L1757.4 1450.2 L1757.7 1450.2 L1758 1450.2 L1758.3 1450.2 L1758.6 1450.2 L1758.9 1450.2 L1759.1 1450.2 L1759.4 1450.2 L1759.7 1450.2 L1760 1450.2 L1760.3 1450.2 L1760.6 1450.2 L1760.9 1450.2 L1761.2 1450.2 L1761.5 1450.2 L1761.8 1450.2 L1762.1 1450.2 L1762.4 1450.2 L1762.6 1450.2 L1762.9 1450.2 L1763.2 1450.2 L1763.5 1450.2 L1763.8 1450.2 L1764.1 1450.2 L1764.4 1450.2 L1764.7 1450.2 L1765 1450.2 L1765.3 1450.2 L1765.6 1450.2 L1765.8 1450.2 L1766.1 1450.2 L1766.4 1450.2 L1766.7 1450.2 L1767 1450.2 L1767.3 1450.2 L1767.6 1450.2 L1767.9 1450.2 L1768.2 1450.2 L1768.5 1450.2 L1768.8 1450.2 L1769.1 1450.2 L1769.3 1450.2 L1769.6 1450.2 L1769.9 1450.2 L1770.2 1450.2 L1770.5 1450.2 L1770.8 1450.2 L1771.1 1450.2 L1771.4 1450.2 L1771.7 1450.2 L1772 1450.2 L1772.3 1450.2 L1772.5 1450.2 L1772.8 1450.2 L1773.1 1450.2 L1773.4 1450.2 L1773.7 1450.2 L1774 1450.2 L1774.3 1450.2 L1774.6 1450.2 L1774.9 1450.2 L1775.2 1450.2 L1775.5 1450.2 L1775.8 1450.2 L1776 1450.2 L1776.3 1450.2 L1776.6 1450.2 L1776.9 1450.2 L1777.2 1450.3 L1777.5 1450.3 L1777.8 1450.3 L1778.1 1450.3 L1778.4 1450.3 L1778.7 1450.3 L1779 1450.3 L1779.2 1450.3 L1779.5 1450.3 L1779.8 1450.3 L1780.1 1450.3 L1780.4 1450.3 L1780.7 1450.3 L1781 1450.3 L1781.3 1450.3 L1781.6 1450.4 L1781.9 1450.4 L1782.2 1450.4 L1782.5 1450.4 L1782.7 1450.4 L1783 1450.4 L1783.3 1450.4 L1783.6 1450.4 L1783.9 1450.4 L1784.2 1450.4 L1784.5 1450.4 L1784.8 1450.4 L1785.1 1450.4 L1785.4 1450.4 L1785.7 1450.4 L1786 1450.4 L1786.2 1450.4 L1786.5 1450.4 L1786.8 1450.4 L1787.1 1450.4 L1787.4 1450.3 L1787.7 1450.3 L1788 1450.3 L1788.3 1450.3 L1788.6 1450.3 L1788.9 1450.3 L1789.2 1450.3 L1789.4 1450.3 L1789.7 1450.3 L1790 1450.2 L1790.3 1450.2 L1790.6 1450.2 L1790.9 1450.2 L1791.2 1450.2 L1791.5 1450.2 L1791.8 1450.2 L1792.1 1450.1 L1792.4 1450.1 L1792.7 1450.1 L1792.9 1450.1 L1793.2 1450.1 L1793.5 1450.1 L1793.8 1450.1 L1794.1 1450.1 L1794.4 1450.1 L1794.7 1450.1 L1795 1450.1 L1795.3 1450.1 L1795.6 1450.1 L1795.9 1450.1 L1796.1 1450.1 L1796.4 1450.1 L1796.7 1450.1 L1797 1450.2 L1797.3 1450.2 L1797.6 1450.2 L1797.9 1450.2 L1798.2 1450.3 L1798.5 1450.3 L1798.8 1450.3 L1799.1 1450.4 L1799.4 1450.4 L1799.6 1450.5 L1799.9 1450.5 L1800.2 1450.6 L1800.5 1450.6 L1800.8 1450.7 L1801.1 1450.7 L1801.4 1450.8 L1801.7 1450.8 L1802 1450.9 L1802.3 1451 L1802.6 1451 L1802.8 1451.1 L1803.1 1451.1 L1803.4 1451.2 L1803.7 1451.3 L1804 1451.3 L1804.3 1451.4 L1804.6 1451.4 L1804.9 1451.5 L1805.2 1451.5 L1805.5 1451.6 L1805.8 1451.6 L1806.1 1451.7 L1806.3 1451.7 L1806.6 1451.7 L1806.9 1451.8 L1807.2 1451.8 L1807.5 1451.8 L1807.8 1451.8 L1808.1 1451.8 L1808.4 1451.8 L1808.7 1451.8 L1809 1451.7 L1809.3 1451.7 L1809.5 1451.7 L1809.8 1451.6 L1810.1 1451.6 L1810.4 1451.5 L1810.7 1451.4 L1811 1451.4 L1811.3 1451.3 L1811.6 1451.2 L1811.9 1451.1 L1812.2 1451 L1812.5 1450.9 L1812.8 1450.8 L1813 1450.7 L1813.3 1450.6 L1813.6 1450.5 L1813.9 1450.3 L1814.2 1450.2 L1814.5 1450.1 L1814.8 1450 L1815.1 1449.9 L1815.4 1449.8 L1815.7 1449.7 L1816 1449.6 L1816.2 1449.5 L1816.5 1449.4 L1816.8 1449.3 L1817.1 1449.2 L1817.4 1449.2 L1817.7 1449.2 L1818 1449.1 L1818.3 1449.1 L1818.6 1449.1 L1818.9 1449.1 L1819.2 1449.1 L1819.5 1449.2 L1819.7 1449.3 L1820 1449.3 L1820.3 1449.4 L1820.6 1449.6 L1820.9 1449.7 L1821.2 1449.9 L1821.5 1450 L1821.8 1450.2 L1822.1 1450.5 L1822.4 1450.7 L1822.7 1451 L1822.9 1451.2 L1823.2 1451.5 L1823.5 1451.8 L1823.8 1452.1 L1824.1 1452.5 L1824.4 1452.8 L1824.7 1453.1 L1825 1453.5 L1825.3 1453.9 L1825.6 1454.2 L1825.9 1454.6 L1826.2 1455 L1826.4 1455.3 L1826.7 1455.7 L1827 1456.1 L1827.3 1456.4 L1827.6 1456.7 L1827.9 1457.1 L1828.2 1457.4 L1828.5 1457.7 L1828.8 1457.9 L1829.1 1458.2 L1829.4 1458.4 L1829.6 1458.6 L1829.9 1458.7 L1830.2 1458.8 L1830.5 1458.9 L1830.8 1459 L1831.1 1459 L1831.4 1459 L1831.7 1458.9 L1832 1458.8 L1832.3 1458.7 L1832.6 1458.5 L1832.9 1458.3 L1833.1 1458 L1833.4 1457.7 L1833.7 1457.4 L1834 1457 L1834.3 1456.6 L1834.6 1456.1 L1834.9 1455.6 L1835.2 1455.1 L1835.5 1454.5 L1835.8 1454 L1836.1 1453.4 L1836.3 1452.8 L1836.6 1452.1 L1836.9 1451.5 L1837.2 1450.9 L1837.5 1450.2 L1837.8 1449.6 L1838.1 1448.9 L1838.4 1448.3 L1838.7 1447.7 L1839 1447.1 L1839.3 1446.5 L1839.6 1446 L1839.8 1445.5 L1840.1 1445.1 L1840.4 1444.7 L1840.7 1444.3 L1841 1444 L1841.3 1443.8 L1841.6 1443.6 L1841.9 1443.5 L1842.2 1443.5 L1842.5 1443.5 L1842.8 1443.7 L1843.1 1443.9 L1843.3 1444.1 L1843.6 1444.5 L1843.9 1445 L1844.2 1445.5 L1844.5 1446.1 L1844.8 1446.8 L1845.1 1447.6 L1845.4 1448.5 L1845.7 1449.4 L1846 1450.4 L1846.3 1451.5 L1846.5 1452.7 L1846.8 1453.9 L1847.1 1455.2 L1847.4 1456.5 L1847.7 1457.9 L1848 1459.3 L1848.3 1460.7 L1848.6 1462.2 L1848.9 1463.6 L1849.2 1465.1 L1849.5 1466.6 L1849.8 1468.1 L1850 1469.5 L1850.3 1470.9 L1850.6 1472.3 L1850.9 1473.6 L1851.2 1474.8 L1851.5 1476 L1851.8 1477.1 L1852.1 1478.2 L1852.4 1479.1 L1852.7 1479.9 L1853 1480.6 L1853.2 1481.2 L1853.5 1481.7 L1853.8 1482 L1854.1 1482.2 L1854.4 1482.2 L1854.7 1482.1 L1855 1481.9 L1855.3 1481.5 L1855.6 1480.9 L1855.9 1480.2 L1856.2 1479.4 L1856.5 1478.4 L1856.7 1477.2 L1857 1475.9 L1857.3 1474.5 L1857.6 1473 L1857.9 1471.3 L1858.2 1469.5 L1858.5 1467.5 L1858.8 1465.5 L1859.1 1463.4 L1859.4 1461.3 L1859.7 1459 L1859.9 1456.7 L1860.2 1454.4 L1860.5 1452.1 L1860.8 1449.7 L1861.1 1447.4 L1861.4 1445.1 L1861.7 1442.8 L1862 1440.6 L1862.3 1438.5 L1862.6 1436.4 L1862.9 1434.5 L1863.2 1432.6 L1863.4 1431 L1863.7 1429.4 L1864 1428.1 L1864.3 1426.9 L1864.6 1425.9 L1864.9 1425.1 L1865.2 1424.5 L1865.5 1424.2 L1865.8 1424 L1866.1 1424.2 L1866.4 1424.5 L1866.6 1425.1 L1866.9 1426 L1867.2 1427.1 L1867.5 1428.5 L1867.8 1430.1 L1868.1 1432 L1868.4 1434.1 L1868.7 1436.4 L1869 1439 L1869.3 1441.7 L1869.6 1444.7 L1869.9 1447.9 L1870.1 1451.2 L1870.4 1454.7 L1870.7 1458.3 L1871 1462.1 L1871.3 1465.9 L1871.6 1469.8 L1871.9 1473.8 L1872.2 1477.8 L1872.5 1481.8 L1872.8 1485.8 L1873.1 1489.7 L1873.3 1493.6 L1873.6 1497.4 L1873.9 1501.1 L1874.2 1504.6 L1874.5 1507.9 L1874.8 1511.1 L1875.1 1514 L1875.4 1516.7 L1875.7 1519.2 L1876 1521.3 L1876.3 1523.2 L1876.6 1524.7 L1876.8 1525.9 L1877.1 1526.8 L1877.4 1527.3 L1877.7 1527.5 L1878 1527.3 L1878.3 1526.7 L1878.6 1525.7 L1878.9 1524.3 L1879.2 1522.6 L1879.5 1520.5 L1879.8 1518 L1880 1515.2 L1880.3 1512 L1880.6 1508.5 L1880.9 1504.7 L1881.2 1500.5 L1881.5 1496.1 L1881.8 1491.5 L1882.1 1486.6 L1882.4 1481.6 L1882.7 1476.3 L1883 1471 L1883.3 1465.5 L1883.5 1459.9 L1883.8 1454.3 L1884.1 1448.7 L1884.4 1443.2 L1884.7 1437.7 L1885 1432.3 L1885.3 1427 L1885.6 1421.9 L1885.9 1417 L1886.2 1412.4 L1886.5 1408 L1886.7 1403.9 L1887 1400.2 L1887.3 1396.8 L1887.6 1393.9 L1887.9 1391.3 L1888.2 1389.2 L1888.5 1387.5 L1888.8 1386.3 L1889.1 1385.6 L1889.4 1385.4 L1889.7 1385.7 L1890 1386.6 L1890.2 1387.9 L1890.5 1389.8 L1890.8 1392.1 L1891.1 1395 L1891.4 1398.3 L1891.7 1402.2 L1892 1406.5 L1892.3 1411.2 L1892.6 1416.3 L1892.9 1421.8 L1893.2 1427.7 L1893.4 1433.9 L1893.7 1440.4 L1894 1447.2 L1894.3 1454.1 L1894.6 1461.3 L1894.9 1468.5 L1895.2 1475.9 L1895.5 1483.3 L1895.8 1490.7 L1896.1 1498 L1896.4 1505.3 L1896.7 1512.4 L1896.9 1519.3 L1897.2 1526 L1897.5 1532.4 L1897.8 1538.5 L1898.1 1544.2 L1898.4 1549.6 L1898.7 1554.5 L1899 1558.9 L1899.3 1562.8 L1899.6 1566.2 L1899.9 1569 L1900.2 1571.3 L1900.4 1572.9 L1900.7 1574 L1901 1574.4 L1901.3 1574.2 L1901.6 1573.3 L1901.9 1571.8 L1902.2 1569.6 L1902.5 1566.9 L1902.8 1563.5 L1903.1 1559.5 L1903.4 1554.9 L1903.6 1549.8 L1903.9 1544.1 L1904.2 1538 L1904.5 1531.3 L1904.8 1524.3 L1905.1 1516.8 L1905.4 1509 L1905.7 1500.9 L1906 1492.6 L1906.3 1484.1 L1906.6 1475.4 L1906.9 1466.6 L1907.1 1457.7 L1907.4 1448.9 L1907.7 1440.1 L1908 1431.5 L1908.3 1423 L1908.6 1414.7 L1908.9 1406.7 L1909.2 1399.1 L1909.5 1391.8 L1909.8 1384.9 L1910.1 1378.5 L1910.3 1372.6 L1910.6 1367.2 L1910.9 1362.4 L1911.2 1358.3 L1911.5 1354.7 L1911.8 1351.8 L1912.1 1349.6 L1912.4 1348.1 L1912.7 1347.3 L1913 1347.3 L1913.3 1347.9 L1913.6 1349.2 L1913.8 1351.3 L1914.1 1354.1 L1914.4 1357.5 L1914.7 1361.6 L1915 1366.3 L1915.3 1371.7 L1915.6 1377.6 L1915.9 1384 L1916.2 1391 L1916.5 1398.4 L1916.8 1406.2 L1917 1414.4 L1917.3 1422.9 L1917.6 1431.7 L1917.9 1440.7 L1918.2 1449.8 L1918.5 1459 L1918.8 1468.3 L1919.1 1477.5 L1919.4 1486.7 L1919.7 1495.7 L1920 1504.5 L1920.3 1513.1 L1920.5 1521.4 L1920.8 1529.3 L1921.1 1536.8 L1921.4 1543.9 L1921.7 1550.5 L1922 1556.5 L1922.3 1562 L1922.6 1566.9 L1922.9 1571.1 L1923.2 1574.7 L1923.5 1577.5 L1923.7 1579.7 L1924 1581.1 L1924.3 1581.8 L1924.6 1581.8 L1924.9 1581.1 L1925.2 1579.6 L1925.5 1577.4 L1925.8 1574.5 L1926.1 1570.9 L1926.4 1566.7 L1926.7 1561.8 L1927 1556.3 L1927.2 1550.2 L1927.5 1543.6 L1927.8 1536.5 L1928.1 1529 L1928.4 1521 L1928.7 1512.7 L1929 1504.1 L1929.3 1495.2 L1929.6 1486.2 L1929.9 1477 L1930.2 1467.7 L1930.4 1458.4 L1930.7 1449.1 L1931 1439.9 L1931.3 1430.8 L1931.6 1421.9 L1931.9 1413.3 L1932.2 1404.9 L1932.5 1396.9 L1932.8 1389.3 L1933.1 1382.1 L1933.4 1375.4 L1933.7 1369.2 L1933.9 1363.6 L1934.2 1358.5 L1934.5 1354 L1934.8 1350.2 L1935.1 1347 L1935.4 1344.4 L1935.7 1342.5 L1936 1341.3 L1936.3 1340.8 L1936.6 1341 L1936.9 1341.8 L1937.1 1343.3 L1937.4 1345.4 L1937.7 1348.1 L1938 1351.4 L1938.3 1355.4 L1938.6 1359.8 L1938.9 1364.8 L1939.2 1370.2 L1939.5 1376.1 L1939.8 1382.4 L1940.1 1389 L1940.4 1396 L1940.6 1403.2 L1940.9 1410.6 L1941.2 1418.2 L1941.5 1425.9 L1941.8 1433.7 L1942.1 1441.5 L1942.4 1449.2 L1942.7 1456.9 L1943 1464.5 L1943.3 1471.8 L1943.6 1479 L1943.8 1485.9 L1944.1 1492.5 L1944.4 1498.8 L1944.7 1504.6 L1945 1510.1 L1945.3 1515.1 L1945.6 1519.7 L1945.9 1523.7 L1946.2 1527.2 L1946.5 1530.2 L1946.8 1532.7 L1947.1 1534.6 L1947.3 1535.9 L1947.6 1536.7 L1947.9 1536.9 L1948.2 1536.5 L1948.5 1535.5 L1948.8 1534.1 L1949.1 1532.1 L1949.4 1529.5 L1949.7 1526.5 L1950 1523 L1950.3 1519.1 L1950.5 1514.8 L1950.8 1510 L1951.1 1505 L1951.4 1499.6 L1951.7 1493.9 L1952 1488 L1952.3 1481.9 L1952.6 1475.6 L1952.9 1469.2 L1953.2 1462.7 L1953.5 1456.1 L1953.8 1449.6 L1954 1443 L1954.3 1436.6 L1954.6 1430.2 L1954.9 1424 L1955.2 1418 L1955.5 1412.2 L1955.8 1406.6 L1956.1 1401.3 L1956.4 1396.3 L1956.7 1391.7 L1957 1387.3 L1957.3 1383.4 L1957.5 1379.8 L1957.8 1376.6 L1958.1 1373.9 L1958.4 1371.5 L1958.7 1369.6 L1959 1368.2 L1959.3 1367.2 L1959.6 1366.6 L1959.9 1366.4 L1960.2 1366.7 L1960.5 1367.4 L1960.7 1368.5 L1961 1370 L1961.3 1371.8 L1961.6 1374 L1961.9 1376.6 L1962.2 1379.4 L1962.5 1382.6 L1962.8 1386 L1963.1 1389.6 L1963.4 1393.5 L1963.7 1397.5 L1964 1401.7 L1964.2 1405.9 L1964.5 1410.3 L1964.8 1414.7 L1965.1 1419.1 L1965.4 1423.6 L1965.7 1428 L1966 1432.3 L1966.3 1436.6 L1966.6 1440.7 L1966.9 1444.8 L1967.2 1448.6 L1967.4 1452.3 L1967.7 1455.8 L1968 1459.1 L1968.3 1462.2 L1968.6 1465 L1968.9 1467.6 L1969.2 1469.9 L1969.5 1472 L1969.8 1473.8 L1970.1 1475.3 L1970.4 1476.5 L1970.7 1477.4 L1970.9 1478 L1971.2 1478.3 L1971.5 1478.4 L1971.8 1478.2 L1972.1 1477.6 L1972.4 1476.8 L1972.7 1475.7 L1973 1474.4 L1973.3 1472.8 L1973.6 1471 L1973.9 1469 L1974.1 1466.7 L1974.4 1464.3 L1974.7 1461.7 L1975 1459 L1975.3 1456.1 L1975.6 1453.1 L1975.9 1450.1 L1976.2 1447 L1976.5 1443.9 L1976.8 1440.7 L1977.1 1437.6 L1977.4 1434.5 L1977.6 1431.5 L1977.9 1428.6 L1978.2 1425.7 L1978.5 1423 L1978.8 1420.4 L1979.1 1417.9 L1979.4 1415.6 L1979.7 1413.4 L1980 1411.4 L1980.3 1409.6 L1980.6 1408 L1980.8 1406.5 L1981.1 1405.1 L1981.4 1404 L1981.7 1403 L1982 1402.2 L1982.3 1401.5 L1982.6 1401 L1982.9 1400.6 L1983.2 1400.4 L1983.5 1400.4 L1983.8 1400.4 L1984.1 1400.7 L1984.3 1401.1 L1984.6 1401.6 L1984.9 1402.3 L1985.2 1403.1 L1985.5 1404 L1985.8 1405.1 L1986.1 1406.3 L1986.4 1407.6 L1986.7 1409.1 L1987 1410.6 L1987.3 1412.3 L1987.5 1414 L1987.8 1415.9 L1988.1 1417.7 L1988.4 1419.6 L1988.7 1421.6 L1989 1423.5 L1989.3 1425.4 L1989.6 1427.3 L1989.9 1429.1 L1990.2 1430.9 L1990.5 1432.5 L1990.8 1434.1 L1991 1435.5 L1991.3 1436.8 L1991.6 1438 L1991.9 1439 L1992.2 1439.9 L1992.5 1440.6 L1992.8 1441.2 L1993.1 1441.7 L1993.4 1442 L1993.7 1442.2 L1994 1442.3 L1994.2 1442.3 L1994.5 1442.2 L1994.8 1442.1 L1995.1 1441.9 L1995.4 1441.6 L1995.7 1441.4 L1996 1441 L1996.3 1440.7 L1996.6 1440.4 L1996.9 1440 L1997.2 1439.6 L1997.5 1439.2 L1997.7 1438.7 L1998 1438.2 L1998.3 1437.7 L1998.6 1437.1 L1998.9 1436.5 L1999.2 1435.8 L1999.5 1435.1 L1999.8 1434.3 L2000.1 1433.4 L2000.4 1432.5 L2000.7 1431.5 L2000.9 1430.5 L2001.2 1429.4 L2001.5 1428.3 L2001.8 1427.1 L2002.1 1426 L2002.4 1424.9 L2002.7 1423.8 L2003 1422.7 L2003.3 1421.8 L2003.6 1420.9 L2003.9 1420.1 L2004.2 1419.4 L2004.4 1418.9 L2004.7 1418.4 L2005 1418.1 L2005.3 1417.9 L2005.6 1417.9 L2005.9 1417.9 L2006.2 1418.1 L2006.5 1418.4 L2006.8 1418.7 L2007.1 1419.1 L2007.4 1419.5 L2007.6 1420 L2007.9 1420.5 L2008.2 1421 L2008.5 1421.4 L2008.8 1421.9 L2009.1 1422.3 L2009.4 1422.6 L2009.7 1422.9 L2010 1423.2 L2010.3 1423.3 L2010.6 1423.5 L2010.9 1423.6 L2011.1 1423.7 L2011.4 1423.8 L2011.7 1423.9 L2012 1424 L2012.3 1424.1 L2012.6 1424.3 L2012.9 1424.5 L2013.2 1424.7 L2013.5 1425 L2013.8 1425.4 L2014.1 1425.8 L2014.4 1426.2 L2014.6 1426.7 L2014.9 1427.3 L2015.2 1427.9 L2015.5 1428.4 L2015.8 1429 L2016.1 1429.6 L2016.4 1430.1 L2016.7 1430.6 L2017 1431 L2017.3 1431.3 L2017.6 1431.6 L2017.8 1431.8 L2018.1 1431.8 L2018.4 1431.8 L2018.7 1431.7 L2019 1431.5 L2019.3 1431.3 L2019.6 1430.9 L2019.9 1430.5 L2020.2 1430.1 L2020.5 1429.7 L2020.8 1429.2 L2021.1 1428.7 L2021.3 1428.3 L2021.6 1427.9 L2021.9 1427.5 L2022.2 1427.2 L2022.5 1426.9 L2022.8 1426.7 L2023.1 1426.6 L2023.4 1426.5 L2023.7 1426.5 L2024 1426.5 L2024.3 1426.5 L2024.5 1426.6 L2024.8 1426.7 L2025.1 1426.8 L2025.4 1426.9 L2025.7 1427 L2026 1427.1 L2026.3 1427.1 L2026.6 1427.1 L2026.9 1427.1 L2027.2 1427 L2027.5 1426.8 L2027.8 1426.7 L2028 1426.5 L2028.3 1426.2 L2028.6 1426 L2028.9 1425.7 L2029.2 1425.4 L2029.5 1425.2 L2029.8 1424.9 L2030.1 1424.7 L2030.4 1424.5 L2030.7 1424.3 L2031 1424.2 L2031.2 1424.2 L2031.5 1424.2 L2031.8 1424.2 L2032.1 1424.3 L2032.4 1424.4 L2032.7 1424.6 L2033 1424.8 L2033.3 1425.1 L2033.6 1425.4 L2033.9 1425.6 L2034.2 1425.9 L2034.5 1426.1 L2034.7 1426.4 L2035 1426.6 L2035.3 1426.8 L2035.6 1426.9 L2035.9 1427.1 L2036.2 1427.2 L2036.5 1427.2 L2036.8 1427.2 L2037.1 1427.2 L2037.4 1427.1 L2037.7 1427.1 L2037.9 1427 L2038.2 1426.9 L2038.5 1426.8 L2038.8 1426.7 L2039.1 1426.6 L2039.4 1426.5 L2039.7 1426.4 L2040 1426.4 L2040.3 1426.4 L2040.6 1426.4 L2040.9 1426.4 L2041.2 1426.4 L2041.4 1426.5 L2041.7 1426.6 L2042 1426.7 L2042.3 1426.8 L2042.6 1426.9 L2042.9 1427 L2043.2 1427.1 L2043.5 1427.2 L2043.8 1427.2 L2044.1 1427.3 L2044.4 1427.3 L2044.6 1427.3 L2044.9 1427.3 L2045.2 1427.3 L2045.5 1427.3 L2045.8 1427.2 L2046.1 1427.1 L2046.4 1427 L2046.7 1426.9 L2047 1426.8 L2047.3 1426.7 L2047.6 1426.6 L2047.9 1426.5 L2048.1 1426.4 L2048.4 1426.3 L2048.7 1426.3 L2049 1426.2 L2049.3 1426.2 L2049.6 1426.2 L2049.9 1426.1 L2050.2 1426.1 L2050.5 1426.2 L2050.8 1426.2 L2051.1 1426.2 L2051.3 1426.3 L2051.6 1426.3 L2051.9 1426.3 L2052.2 1426.4 L2052.5 1426.4 L2052.8 1426.5 L2053.1 1426.5 L2053.4 1426.5 L2053.7 1426.5 L2054 1426.5 L2054.3 1426.5 L2054.6 1426.5 L2054.8 1426.5 L2055.1 1426.5 L2055.4 1426.5 L2055.7 1426.5 L2056 1426.4 L2056.3 1426.4 L2056.6 1426.4 L2056.9 1426.4 L2057.2 1426.3 L2057.5 1426.3 L2057.8 1426.3 L2058 1426.3 L2058.3 1426.3 L2058.6 1426.3 L2058.9 1426.3 L2059.2 1426.3 L2059.5 1426.4 L2059.8 1426.4 L2060.1 1426.4 L2060.4 1426.4 L2060.7 1426.5 L2061 1426.5 L2061.3 1426.5 L2061.5 1426.6 L2061.8 1426.6 L2062.1 1426.6 L2062.4 1426.6 L2062.7 1426.6 L2063 1426.6 L2063.3 1426.6 L2063.6 1426.6 L2063.9 1426.6 L2064.2 1426.6 L2064.5 1426.6 L2064.7 1426.6 L2065 1426.6 L2065.3 1426.6 L2065.6 1426.5 L2065.9 1426.5 L2066.2 1426.5 L2066.5 1426.5 L2066.8 1426.5 L2067.1 1426.5 L2067.4 1426.5 L2067.7 1426.5 L2068 1426.5 L2068.2 1426.5 L2068.5 1426.5 L2068.8 1426.5 L2069.1 1426.5 L2069.4 1426.5 L2069.7 1426.5 L2070 1426.5 L2070.3 1426.5 L2070.6 1426.5 L2070.9 1426.5 L2071.2 1426.5 L2071.5 1426.5 L2071.7 1426.5 L2072 1426.5 L2072.3 1426.5 L2072.6 1426.5 L2072.9 1426.5 L2073.2 1426.5 L2073.5 1426.5 L2073.8 1426.5 L2074.1 1426.5 L2074.4 1426.5 L2074.7 1426.5 L2074.9 1426.5 L2075.2 1426.5 L2075.5 1426.5 L2075.8 1426.5 L2076.1 1426.5 L2076.4 1426.5 L2076.7 1426.5 L2077 1426.5 L2077.3 1426.5 L2077.6 1426.5 L2077.9 1426.5 L2078.2 1426.5 L2078.4 1426.5 L2078.7 1426.5 L2079 1426.5 L2079.3 1426.5 L2079.6 1426.5 L2079.9 1426.5 L2080.2 1426.5 L2080.5 1426.5 L2080.8 1426.5 L2081.1 1426.5 L2081.4 1426.5 L2081.6 1426.5 L2081.9 1426.5 L2082.2 1426.5 L2082.5 1426.5 L2082.8 1426.5 L2083.1 1426.5 L2083.4 1426.5 L2083.7 1426.5 L2084 1426.5 L2084.3 1426.5 L2084.6 1426.5 L2084.9 1426.5 L2085.1 1426.5 L2085.4 1426.5 L2085.7 1426.5 L2086 1426.5 L2086.3 1426.5 L2086.6 1426.5 L2086.9 1426.5 L2087.2 1426.5 L2087.5 1426.5 L2087.8 1426.5 L2088.1 1426.5 L2088.3 1426.5 L2088.6 1426.5 L2088.9 1426.5 L2089.2 1426.5 L2089.5 1426.5 L2089.8 1426.5 L2090.1 1426.5 L2090.4 1426.5 L2090.7 1426.5 L2091 1426.5 L2091.3 1426.5 L2091.6 1426.5 L2091.8 1426.5 L2092.1 1426.5 L2092.4 1426.5 L2092.7 1426.5 L2093 1426.5 L2093.3 1426.5 L2093.6 1426.5 L2093.9 1426.5 L2094.2 1426.5 L2094.5 1426.5 L2094.8 1426.5 L2095 1426.5 L2095.3 1426.5 L2095.6 1426.5 L2095.9 1426.5 L2096.2 1426.5 L2096.5 1426.5 L2096.8 1426.5 L2097.1 1426.5 L2097.4 1426.5 L2097.7 1426.5 L2098 1426.5 L2098.3 1426.5 L2098.5 1426.5 L2098.8 1426.5 L2099.1 1426.5 L2099.4 1426.5 L2099.7 1426.5 L2100 1426.5 L2164 1426.5" stroke="#141414" stroke-width="3.2" fill="none" stroke-linejoin="round"/>
<path d="M1750.7 1450.2 L1751 1450.2 L1751.3 1450.2 L1751.6 1450.2 L1751.9 1450.2 L1752.2 1450.2 L1752.4 1450.2 L1752.7 1450.2 L1753 1450.2 L1753.3 1450.2 L1753.6 1450.2 L1753.9 1450.2 L1754.2 1450.2 L1754.5 1450.2 L1754.8 1450.2 L1755.1 1450.2 L1755.4 1450.2 L1755.7 1450.2 L1755.9 1450.2 L1756.2 1450.2 L1756.5 1450.2 L1756.8 1450.2 L1757.1 1450.2 L1757.4 1450.2 L1757.7 1450.2 L1758 1450.2 L1758.3 1450.2 L1758.6 1450.2 L1758.9 1450.2 L1759.1 1450.2 L1759.4 1450.2 L1759.7 1450.2 L1760 1450.2 L1760.3 1450.2 L1760.6 1450.2 L1760.9 1450.2 L1761.2 1450.2 L1761.5 1450.2 L1761.8 1450.2 L1762.1 1450.2 L1762.4 1450.2 L1762.6 1450.2 L1762.9 1450.2 L1763.2 1450.2 L1763.5 1450.2 L1763.8 1450.2 L1764.1 1450.2 L1764.4 1450.2 L1764.7 1450.2 L1765 1450.2 L1765.3 1450.2 L1765.6 1450.2 L1765.8 1450.2 L1766.1 1450.2 L1766.4 1450.2 L1766.7 1450.2 L1767 1450.2 L1767.3 1450.2 L1767.6 1450.2 L1767.9 1450.2 L1768.2 1450.2 L1768.5 1450.2 L1768.8 1450.2 L1769.1 1450.2 L1769.3 1450.2 L1769.6 1450.2 L1769.9 1450.2 L1770.2 1450.2 L1770.5 1450.2 L1770.8 1450.2 L1771.1 1450.2 L1771.4 1450.2 L1771.7 1450.2 L1772 1450.2 L1772.3 1450.2 L1772.5 1450.2 L1772.8 1450.2 L1773.1 1450.2 L1773.4 1450.2 L1773.7 1450.2 L1774 1450.2 L1774.3 1450.2 L1774.6 1450.2 L1774.9 1450.2 L1775.2 1450.2 L1775.5 1450.2 L1775.8 1450.2 L1776 1450.2 L1776.3 1450.2 L1776.6 1450.2 L1776.9 1450.2 L1777.2 1450.2 L1777.5 1450.2 L1777.8 1450.2 L1778.1 1450.2 L1778.4 1450.2 L1778.7 1450.2 L1779 1450.2 L1779.2 1450.2 L1779.5 1450.3 L1779.8 1450.3 L1780.1 1450.3 L1780.4 1450.3 L1780.7 1450.3 L1781 1450.3 L1781.3 1450.3 L1781.6 1450.3 L1781.9 1450.3 L1782.2 1450.3 L1782.5 1450.3 L1782.7 1450.3 L1783 1450.3 L1783.3 1450.3 L1783.6 1450.3 L1783.9 1450.3 L1784.2 1450.3 L1784.5 1450.3 L1784.8 1450.3 L1785.1 1450.3 L1785.4 1450.3 L1785.7 1450.3 L1786 1450.3 L1786.2 1450.3 L1786.5 1450.3 L1786.8 1450.3 L1787.1 1450.3 L1787.4 1450.3 L1787.7 1450.3 L1788 1450.3 L1788.3 1450.3 L1788.6 1450.3 L1788.9 1450.3 L1789.2 1450.3 L1789.4 1450.3 L1789.7 1450.3 L1790 1450.3 L1790.3 1450.3 L1790.6 1450.3 L1790.9 1450.4 L1791.2 1450.4 L1791.5 1450.4 L1791.8 1450.4 L1792.1 1450.4 L1792.4 1450.4 L1792.7 1450.4 L1792.9 1450.4 L1793.2 1450.4 L1793.5 1450.4 L1793.8 1450.4 L1794.1 1450.4 L1794.4 1450.4 L1794.7 1450.4 L1795 1450.4 L1795.3 1450.4 L1795.6 1450.4 L1795.9 1450.4 L1796.1 1450.4 L1796.4 1450.4 L1796.7 1450.5 L1797 1450.5 L1797.3 1450.5 L1797.6 1450.5 L1797.9 1450.5 L1798.2 1450.5 L1798.5 1450.5 L1798.8 1450.5 L1799.1 1450.5 L1799.4 1450.5 L1799.6 1450.5 L1799.9 1450.5 L1800.2 1450.5 L1800.5 1450.6 L1800.8 1450.6 L1801.1 1450.6 L1801.4 1450.6 L1801.7 1450.6 L1802 1450.6 L1802.3 1450.6 L1802.6 1450.6 L1802.8 1450.6 L1803.1 1450.6 L1803.4 1450.6 L1803.7 1450.7 L1804 1450.7 L1804.3 1450.7 L1804.6 1450.7 L1804.9 1450.7 L1805.2 1450.7 L1805.5 1450.7 L1805.8 1450.7 L1806.1 1450.8 L1806.3 1450.8 L1806.6 1450.8 L1806.9 1450.8 L1807.2 1450.8 L1807.5 1450.8 L1807.8 1450.8 L1808.1 1450.8 L1808.4 1450.9 L1808.7 1450.9 L1809 1450.9 L1809.3 1450.9 L1809.5 1450.9 L1809.8 1450.9 L1810.1 1451 L1810.4 1451 L1810.7 1451 L1811 1451 L1811.3 1451 L1811.6 1451 L1811.9 1451.1 L1812.2 1451.1 L1812.5 1451.1 L1812.8 1451.1 L1813 1451.1 L1813.3 1451.2 L1813.6 1451.2 L1813.9 1451.2 L1814.2 1451.2 L1814.5 1451.2 L1814.8 1451.3 L1815.1 1451.3 L1815.4 1451.3 L1815.7 1451.3 L1816 1451.4 L1816.2 1451.4 L1816.5 1451.4 L1816.8 1451.4 L1817.1 1451.5 L1817.4 1451.5 L1817.7 1451.5 L1818 1451.5 L1818.3 1451.6 L1818.6 1451.6 L1818.9 1451.6 L1819.2 1451.6 L1819.5 1451.7 L1819.7 1451.7 L1820 1451.7 L1820.3 1451.8 L1820.6 1451.8 L1820.9 1451.8 L1821.2 1451.9 L1821.5 1451.9 L1821.8 1451.9 L1822.1 1451.9 L1822.4 1452 L1822.7 1452 L1822.9 1452 L1823.2 1452.1 L1823.5 1452.1 L1823.8 1452.2 L1824.1 1452.2 L1824.4 1452.2 L1824.7 1452.3 L1825 1452.3 L1825.3 1452.3 L1825.6 1452.4 L1825.9 1452.4 L1826.2 1452.5 L1826.4 1452.5 L1826.7 1452.5 L1827 1452.6 L1827.3 1452.6 L1827.6 1452.7 L1827.9 1452.7 L1828.2 1452.8 L1828.5 1452.8 L1828.8 1452.9 L1829.1 1452.9 L1829.4 1452.9 L1829.6 1453 L1829.9 1453 L1830.2 1453.1 L1830.5 1453.1 L1830.8 1453.2 L1831.1 1453.2 L1831.4 1453.3 L1831.7 1453.3 L1832 1453.4 L1832.3 1453.4 L1832.6 1453.5 L1832.9 1453.6 L1833.1 1453.6 L1833.4 1453.7 L1833.7 1453.7 L1834 1453.8 L1834.3 1453.8 L1834.6 1453.9 L1834.9 1453.9 L1835.2 1454 L1835.5 1454.1 L1835.8 1454.1 L1836.1 1454.2 L1836.3 1454.2 L1836.6 1454.3 L1836.9 1454.4 L1837.2 1454.4 L1837.5 1454.5 L1837.8 1454.6 L1838.1 1454.6 L1838.4 1454.7 L1838.7 1454.8 L1839 1454.8 L1839.3 1454.9 L1839.6 1455 L1839.8 1455 L1840.1 1455.1 L1840.4 1455.2 L1840.7 1455.3 L1841 1455.3 L1841.3 1455.4 L1841.6 1455.5 L1841.9 1455.5 L1842.2 1455.6 L1842.5 1455.7 L1842.8 1455.8 L1843.1 1455.8 L1843.3 1455.9 L1843.6 1456 L1843.9 1456.1 L1844.2 1456.2 L1844.5 1456.2 L1844.8 1456.3 L1845.1 1456.4 L1845.4 1456.5 L1845.7 1456.6 L1846 1456.6 L1846.3 1456.7 L1846.5 1456.8 L1846.8 1456.9 L1847.1 1457 L1847.4 1457.1 L1847.7 1457.2 L1848 1457.2 L1848.3 1457.3 L1848.6 1457.4 L1848.9 1457.5 L1849.2 1457.6 L1849.5 1457.7 L1849.8 1457.8 L1850 1457.9 L1850.3 1458 L1850.6 1458.1 L1850.9 1458.1 L1851.2 1458.2 L1851.5 1458.3 L1851.8 1458.4 L1852.1 1458.5 L1852.4 1458.6 L1852.7 1458.7 L1853 1458.8 L1853.2 1458.9 L1853.5 1459 L1853.8 1459.1 L1854.1 1459.2 L1854.4 1459.3 L1854.7 1459.4 L1855 1459.5 L1855.3 1459.6 L1855.6 1459.7 L1855.9 1459.8 L1856.2 1459.9 L1856.5 1460 L1856.7 1460.1 L1857 1460.2 L1857.3 1460.3 L1857.6 1460.4 L1857.9 1460.5 L1858.2 1460.6 L1858.5 1460.7 L1858.8 1460.8 L1859.1 1460.9 L1859.4 1461 L1859.7 1461.1 L1859.9 1461.2 L1860.2 1461.3 L1860.5 1461.4 L1860.8 1461.5 L1861.1 1461.6 L1861.4 1461.7 L1861.7 1461.8 L1862 1461.9 L1862.3 1462 L1862.6 1462.1 L1862.9 1462.2 L1863.2 1462.3 L1863.4 1462.4 L1863.7 1462.5 L1864 1462.6 L1864.3 1462.7 L1864.6 1462.8 L1864.9 1462.9 L1865.2 1463 L1865.5 1463.1 L1865.8 1463.3 L1866.1 1463.4 L1866.4 1463.5 L1866.6 1463.6 L1866.9 1463.7 L1867.2 1463.8 L1867.5 1463.9 L1867.8 1464 L1868.1 1464.1 L1868.4 1464.2 L1868.7 1464.3 L1869 1464.4 L1869.3 1464.5 L1869.6 1464.6 L1869.9 1464.7 L1870.1 1464.8 L1870.4 1464.9 L1870.7 1464.9 L1871 1465 L1871.3 1465.1 L1871.6 1465.2 L1871.9 1465.3 L1872.2 1465.4 L1872.5 1465.5 L1872.8 1465.6 L1873.1 1465.7 L1873.3 1465.8 L1873.6 1465.9 L1873.9 1466 L1874.2 1466.1 L1874.5 1466.2 L1874.8 1466.2 L1875.1 1466.3 L1875.4 1466.4 L1875.7 1466.5 L1876 1466.6 L1876.3 1466.7 L1876.6 1466.8 L1876.8 1466.8 L1877.1 1466.9 L1877.4 1467 L1877.7 1467.1 L1878 1467.2 L1878.3 1467.2 L1878.6 1467.3 L1878.9 1467.4 L1879.2 1467.5 L1879.5 1467.5 L1879.8 1467.6 L1880 1467.7 L1880.3 1467.8 L1880.6 1467.8 L1880.9 1467.9 L1881.2 1468 L1881.5 1468 L1881.8 1468.1 L1882.1 1468.2 L1882.4 1468.2 L1882.7 1468.3 L1883 1468.4 L1883.3 1468.4 L1883.5 1468.5 L1883.8 1468.5 L1884.1 1468.6 L1884.4 1468.6 L1884.7 1468.7 L1885 1468.7 L1885.3 1468.8 L1885.6 1468.8 L1885.9 1468.9 L1886.2 1468.9 L1886.5 1469 L1886.7 1469 L1887 1469.1 L1887.3 1469.1 L1887.6 1469.1 L1887.9 1469.2 L1888.2 1469.2 L1888.5 1469.3 L1888.8 1469.3 L1889.1 1469.3 L1889.4 1469.4 L1889.7 1469.4 L1890 1469.4 L1890.2 1469.4 L1890.5 1469.5 L1890.8 1469.5 L1891.1 1469.5 L1891.4 1469.5 L1891.7 1469.5 L1892 1469.6 L1892.3 1469.6 L1892.6 1469.6 L1892.9 1469.6 L1893.2 1469.6 L1893.4 1469.6 L1893.7 1469.6 L1894 1469.6 L1894.3 1469.6 L1894.6 1469.6 L1894.9 1469.6 L1895.2 1469.6 L1895.5 1469.6 L1895.8 1469.6 L1896.1 1469.6 L1896.4 1469.6 L1896.7 1469.6 L1896.9 1469.6 L1897.2 1469.6 L1897.5 1469.5 L1897.8 1469.5 L1898.1 1469.5 L1898.4 1469.5 L1898.7 1469.5 L1899 1469.4 L1899.3 1469.4 L1899.6 1469.4 L1899.9 1469.4 L1900.2 1469.3 L1900.4 1469.3 L1900.7 1469.3 L1901 1469.2 L1901.3 1469.2 L1901.6 1469.1 L1901.9 1469.1 L1902.2 1469 L1902.5 1469 L1902.8 1469 L1903.1 1468.9 L1903.4 1468.8 L1903.6 1468.8 L1903.9 1468.7 L1904.2 1468.7 L1904.5 1468.6 L1904.8 1468.6 L1905.1 1468.5 L1905.4 1468.4 L1905.7 1468.4 L1906 1468.3 L1906.3 1468.2 L1906.6 1468.2 L1906.9 1468.1 L1907.1 1468 L1907.4 1467.9 L1907.7 1467.9 L1908 1467.8 L1908.3 1467.7 L1908.6 1467.6 L1908.9 1467.5 L1909.2 1467.4 L1909.5 1467.3 L1909.8 1467.3 L1910.1 1467.2 L1910.3 1467.1 L1910.6 1467 L1910.9 1466.9 L1911.2 1466.8 L1911.5 1466.7 L1911.8 1466.6 L1912.1 1466.5 L1912.4 1466.4 L1912.7 1466.2 L1913 1466.1 L1913.3 1466 L1913.6 1465.9 L1913.8 1465.8 L1914.1 1465.7 L1914.4 1465.6 L1914.7 1465.4 L1915 1465.3 L1915.3 1465.2 L1915.6 1465.1 L1915.9 1464.9 L1916.2 1464.8 L1916.5 1464.7 L1916.8 1464.6 L1917 1464.4 L1917.3 1464.3 L1917.6 1464.2 L1917.9 1464 L1918.2 1463.9 L1918.5 1463.7 L1918.8 1463.6 L1919.1 1463.4 L1919.4 1463.3 L1919.7 1463.2 L1920 1463 L1920.3 1462.9 L1920.5 1462.7 L1920.8 1462.6 L1921.1 1462.4 L1921.4 1462.2 L1921.7 1462.1 L1922 1461.9 L1922.3 1461.8 L1922.6 1461.6 L1922.9 1461.4 L1923.2 1461.3 L1923.5 1461.1 L1923.7 1460.9 L1924 1460.8 L1924.3 1460.6 L1924.6 1460.4 L1924.9 1460.3 L1925.2 1460.1 L1925.5 1459.9 L1925.8 1459.7 L1926.1 1459.6 L1926.4 1459.4 L1926.7 1459.2 L1927 1459 L1927.2 1458.8 L1927.5 1458.6 L1927.8 1458.5 L1928.1 1458.3 L1928.4 1458.1 L1928.7 1457.9 L1929 1457.7 L1929.3 1457.5 L1929.6 1457.3 L1929.9 1457.1 L1930.2 1456.9 L1930.4 1456.7 L1930.7 1456.5 L1931 1456.3 L1931.3 1456.2 L1931.6 1456 L1931.9 1455.8 L1932.2 1455.6 L1932.5 1455.3 L1932.8 1455.1 L1933.1 1454.9 L1933.4 1454.7 L1933.7 1454.5 L1933.9 1454.3 L1934.2 1454.1 L1934.5 1453.9 L1934.8 1453.7 L1935.1 1453.5 L1935.4 1453.3 L1935.7 1453.1 L1936 1452.9 L1936.3 1452.6 L1936.6 1452.4 L1936.9 1452.2 L1937.1 1452 L1937.4 1451.8 L1937.7 1451.6 L1938 1451.4 L1938.3 1451.1 L1938.6 1450.9 L1938.9 1450.7 L1939.2 1450.5 L1939.5 1450.3 L1939.8 1450 L1940.1 1449.8 L1940.4 1449.6 L1940.6 1449.4 L1940.9 1449.2 L1941.2 1449 L1941.5 1448.7 L1941.8 1448.5 L1942.1 1448.3 L1942.4 1448.1 L1942.7 1447.9 L1943 1447.6 L1943.3 1447.4 L1943.6 1447.2 L1943.8 1447 L1944.1 1446.8 L1944.4 1446.5 L1944.7 1446.3 L1945 1446.1 L1945.3 1445.9 L1945.6 1445.7 L1945.9 1445.4 L1946.2 1445.2 L1946.5 1445 L1946.8 1444.8 L1947.1 1444.6 L1947.3 1444.4 L1947.6 1444.2 L1947.9 1443.9 L1948.2 1443.7 L1948.5 1443.5 L1948.8 1443.3 L1949.1 1443.1 L1949.4 1442.9 L1949.7 1442.7 L1950 1442.5 L1950.3 1442.3 L1950.5 1442.1 L1950.8 1441.8 L1951.1 1441.6 L1951.4 1441.4 L1951.7 1441.2 L1952 1441 L1952.3 1440.8 L1952.6 1440.6 L1952.9 1440.4 L1953.2 1440.2 L1953.5 1440 L1953.8 1439.9 L1954 1439.7 L1954.3 1439.5 L1954.6 1439.3 L1954.9 1439.1 L1955.2 1438.9 L1955.5 1438.7 L1955.8 1438.5 L1956.1 1438.4 L1956.4 1438.2 L1956.7 1438 L1957 1437.8 L1957.3 1437.6 L1957.5 1437.5 L1957.8 1437.3 L1958.1 1437.1 L1958.4 1437 L1958.7 1436.8 L1959 1436.6 L1959.3 1436.5 L1959.6 1436.3 L1959.9 1436.1 L1960.2 1436 L1960.5 1435.8 L1960.7 1435.7 L1961 1435.5 L1961.3 1435.4 L1961.6 1435.2 L1961.9 1435.1 L1962.2 1434.9 L1962.5 1434.8 L1962.8 1434.6 L1963.1 1434.5 L1963.4 1434.3 L1963.7 1434.2 L1964 1434.1 L1964.2 1433.9 L1964.5 1433.8 L1964.8 1433.7 L1965.1 1433.5 L1965.4 1433.4 L1965.7 1433.3 L1966 1433.2 L1966.3 1433 L1966.6 1432.9 L1966.9 1432.8 L1967.2 1432.7 L1967.4 1432.6 L1967.7 1432.5 L1968 1432.4 L1968.3 1432.2 L1968.6 1432.1 L1968.9 1432 L1969.2 1431.9 L1969.5 1431.8 L1969.8 1431.7 L1970.1 1431.6 L1970.4 1431.5 L1970.7 1431.4 L1970.9 1431.3 L1971.2 1431.2 L1971.5 1431.1 L1971.8 1431.1 L1972.1 1431 L1972.4 1430.9 L1972.7 1430.8 L1973 1430.7 L1973.3 1430.6 L1973.6 1430.5 L1973.9 1430.5 L1974.1 1430.4 L1974.4 1430.3 L1974.7 1430.2 L1975 1430.2 L1975.3 1430.1 L1975.6 1430 L1975.9 1429.9 L1976.2 1429.9 L1976.5 1429.8 L1976.8 1429.7 L1977.1 1429.7 L1977.4 1429.6 L1977.6 1429.5 L1977.9 1429.5 L1978.2 1429.4 L1978.5 1429.4 L1978.8 1429.3 L1979.1 1429.2 L1979.4 1429.2 L1979.7 1429.1 L1980 1429.1 L1980.3 1429 L1980.6 1429 L1980.8 1428.9 L1981.1 1428.9 L1981.4 1428.8 L1981.7 1428.8 L1982 1428.7 L1982.3 1428.7 L1982.6 1428.6 L1982.9 1428.6 L1983.2 1428.5 L1983.5 1428.5 L1983.8 1428.5 L1984.1 1428.4 L1984.3 1428.4 L1984.6 1428.3 L1984.9 1428.3 L1985.2 1428.3 L1985.5 1428.2 L1985.8 1428.2 L1986.1 1428.1 L1986.4 1428.1 L1986.7 1428.1 L1987 1428 L1987.3 1428 L1987.5 1428 L1987.8 1427.9 L1988.1 1427.9 L1988.4 1427.9 L1988.7 1427.9 L1989 1427.8 L1989.3 1427.8 L1989.6 1427.8 L1989.9 1427.7 L1990.2 1427.7 L1990.5 1427.7 L1990.8 1427.7 L1991 1427.6 L1991.3 1427.6 L1991.6 1427.6 L1991.9 1427.6 L1992.2 1427.5 L1992.5 1427.5 L1992.8 1427.5 L1993.1 1427.5 L1993.4 1427.5 L1993.7 1427.4 L1994 1427.4 L1994.2 1427.4 L1994.5 1427.4 L1994.8 1427.4 L1995.1 1427.3 L1995.4 1427.3 L1995.7 1427.3 L1996 1427.3 L1996.3 1427.3 L1996.6 1427.3 L1996.9 1427.2 L1997.2 1427.2 L1997.5 1427.2 L1997.7 1427.2 L1998 1427.2 L1998.3 1427.2 L1998.6 1427.1 L1998.9 1427.1 L1999.2 1427.1 L1999.5 1427.1 L1999.8 1427.1 L2000.1 1427.1 L2000.4 1427.1 L2000.7 1427.1 L2000.9 1427 L2001.2 1427 L2001.5 1427 L2001.8 1427 L2002.1 1427 L2002.4 1427 L2002.7 1427 L2003 1427 L2003.3 1427 L2003.6 1426.9 L2003.9 1426.9 L2004.2 1426.9 L2004.4 1426.9 L2004.7 1426.9 L2005 1426.9 L2005.3 1426.9 L2005.6 1426.9 L2005.9 1426.9 L2006.2 1426.9 L2006.5 1426.9 L2006.8 1426.8 L2007.1 1426.8 L2007.4 1426.8 L2007.6 1426.8 L2007.9 1426.8 L2008.2 1426.8 L2008.5 1426.8 L2008.8 1426.8 L2009.1 1426.8 L2009.4 1426.8 L2009.7 1426.8 L2010 1426.8 L2010.3 1426.8 L2010.6 1426.8 L2010.9 1426.8 L2011.1 1426.7 L2011.4 1426.7 L2011.7 1426.7 L2012 1426.7 L2012.3 1426.7 L2012.6 1426.7 L2012.9 1426.7 L2013.2 1426.7 L2013.5 1426.7 L2013.8 1426.7 L2014.1 1426.7 L2014.4 1426.7 L2014.6 1426.7 L2014.9 1426.7 L2015.2 1426.7 L2015.5 1426.7 L2015.8 1426.7 L2016.1 1426.7 L2016.4 1426.7 L2016.7 1426.7 L2017 1426.7 L2017.3 1426.7 L2017.6 1426.7 L2017.8 1426.6 L2018.1 1426.6 L2018.4 1426.6 L2018.7 1426.6 L2019 1426.6 L2019.3 1426.6 L2019.6 1426.6 L2019.9 1426.6 L2020.2 1426.6 L2020.5 1426.6 L2020.8 1426.6 L2021.1 1426.6 L2021.3 1426.6 L2021.6 1426.6 L2021.9 1426.6 L2022.2 1426.6 L2022.5 1426.6 L2022.8 1426.6 L2023.1 1426.6 L2023.4 1426.6 L2023.7 1426.6 L2024 1426.6 L2024.3 1426.6 L2024.5 1426.6 L2024.8 1426.6 L2025.1 1426.6 L2025.4 1426.6 L2025.7 1426.6 L2026 1426.6 L2026.3 1426.6 L2026.6 1426.6 L2026.9 1426.6 L2027.2 1426.6 L2027.5 1426.6 L2027.8 1426.6 L2028 1426.6 L2028.3 1426.6 L2028.6 1426.6 L2028.9 1426.6 L2029.2 1426.6 L2029.5 1426.6 L2029.8 1426.6 L2030.1 1426.6 L2030.4 1426.6 L2030.7 1426.6 L2031 1426.6 L2031.2 1426.6 L2031.5 1426.6 L2031.8 1426.6 L2032.1 1426.5 L2032.4 1426.5 L2032.7 1426.5 L2033 1426.5 L2033.3 1426.5 L2033.6 1426.5 L2033.9 1426.5 L2034.2 1426.5 L2034.5 1426.5 L2034.7 1426.5 L2035 1426.5 L2035.3 1426.5 L2035.6 1426.5 L2035.9 1426.5 L2036.2 1426.5 L2036.5 1426.5 L2036.8 1426.5 L2037.1 1426.5 L2037.4 1426.5 L2037.7 1426.5 L2037.9 1426.5 L2038.2 1426.5 L2038.5 1426.5 L2038.8 1426.5 L2039.1 1426.5 L2039.4 1426.5 L2039.7 1426.5 L2040 1426.5 L2040.3 1426.5 L2040.6 1426.5 L2040.9 1426.5 L2041.2 1426.5 L2041.4 1426.5 L2041.7 1426.5 L2042 1426.5 L2042.3 1426.5 L2042.6 1426.5 L2042.9 1426.5 L2043.2 1426.5 L2043.5 1426.5 L2043.8 1426.5 L2044.1 1426.5 L2044.4 1426.5 L2044.6 1426.5 L2044.9 1426.5 L2045.2 1426.5 L2045.5 1426.5 L2045.8 1426.5 L2046.1 1426.5 L2046.4 1426.5 L2046.7 1426.5 L2047 1426.5 L2047.3 1426.5 L2047.6 1426.5 L2047.9 1426.5 L2048.1 1426.5 L2048.4 1426.5 L2048.7 1426.5 L2049 1426.5 L2049.3 1426.5 L2049.6 1426.5 L2049.9 1426.5 L2050.2 1426.5 L2050.5 1426.5 L2050.8 1426.5 L2051.1 1426.5 L2051.3 1426.5 L2051.6 1426.5 L2051.9 1426.5 L2052.2 1426.5 L2052.5 1426.5 L2052.8 1426.5 L2053.1 1426.5 L2053.4 1426.5 L2053.7 1426.5 L2054 1426.5 L2054.3 1426.5 L2054.6 1426.5 L2054.8 1426.5 L2055.1 1426.5 L2055.4 1426.5 L2055.7 1426.5 L2056 1426.5 L2056.3 1426.5 L2056.6 1426.5 L2056.9 1426.5 L2057.2 1426.5 L2057.5 1426.5 L2057.8 1426.5 L2058 1426.5 L2058.3 1426.5 L2058.6 1426.5 L2058.9 1426.5 L2059.2 1426.5 L2059.5 1426.5 L2059.8 1426.5 L2060.1 1426.5 L2060.4 1426.5 L2060.7 1426.5 L2061 1426.5 L2061.3 1426.5 L2061.5 1426.5 L2061.8 1426.5 L2062.1 1426.5 L2062.4 1426.5 L2062.7 1426.5 L2063 1426.5 L2063.3 1426.5 L2063.6 1426.5 L2063.9 1426.5 L2064.2 1426.5 L2064.5 1426.5 L2064.7 1426.5 L2065 1426.5 L2065.3 1426.5 L2065.6 1426.5 L2065.9 1426.5 L2066.2 1426.5 L2066.5 1426.5 L2066.8 1426.5 L2067.1 1426.5 L2067.4 1426.5 L2067.7 1426.5 L2068 1426.5 L2068.2 1426.5 L2068.5 1426.5 L2068.8 1426.5 L2069.1 1426.5 L2069.4 1426.5 L2069.7 1426.5 L2070 1426.5 L2070.3 1426.5 L2070.6 1426.5 L2070.9 1426.5 L2071.2 1426.5 L2071.5 1426.5 L2071.7 1426.5 L2072 1426.5 L2072.3 1426.5 L2072.6 1426.5 L2072.9 1426.5 L2073.2 1426.5 L2073.5 1426.5 L2073.8 1426.5 L2074.1 1426.5 L2074.4 1426.5 L2074.7 1426.5 L2074.9 1426.5 L2075.2 1426.5 L2075.5 1426.5 L2075.8 1426.5 L2076.1 1426.5 L2076.4 1426.5 L2076.7 1426.5 L2077 1426.5 L2077.3 1426.5 L2077.6 1426.5 L2077.9 1426.5 L2078.2 1426.5 L2078.4 1426.5 L2078.7 1426.5 L2079 1426.5 L2079.3 1426.5 L2079.6 1426.5 L2079.9 1426.5 L2080.2 1426.5 L2080.5 1426.5 L2080.8 1426.5 L2081.1 1426.5 L2081.4 1426.5 L2081.6 1426.5 L2081.9 1426.5 L2082.2 1426.5 L2082.5 1426.5 L2082.8 1426.5 L2083.1 1426.5 L2083.4 1426.5 L2083.7 1426.5 L2084 1426.5 L2084.3 1426.5 L2084.6 1426.5 L2084.9 1426.5 L2085.1 1426.5 L2085.4 1426.5 L2085.7 1426.5 L2086 1426.5 L2086.3 1426.5 L2086.6 1426.5 L2086.9 1426.5 L2087.2 1426.5 L2087.5 1426.5 L2087.8 1426.5 L2088.1 1426.5 L2088.3 1426.5 L2088.6 1426.5 L2088.9 1426.5 L2089.2 1426.5 L2089.5 1426.5 L2089.8 1426.5 L2090.1 1426.5 L2090.4 1426.5 L2090.7 1426.5 L2091 1426.5 L2091.3 1426.5 L2091.6 1426.5 L2091.8 1426.5 L2092.1 1426.5 L2092.4 1426.5 L2092.7 1426.5 L2093 1426.5 L2093.3 1426.5 L2093.6 1426.5 L2093.9 1426.5 L2094.2 1426.5 L2094.5 1426.5 L2094.8 1426.5 L2095 1426.5 L2095.3 1426.5 L2095.6 1426.5 L2095.9 1426.5 L2096.2 1426.5 L2096.5 1426.5 L2096.8 1426.5 L2097.1 1426.5 L2097.4 1426.5 L2097.7 1426.5 L2098 1426.5 L2098.3 1426.5 L2098.5 1426.5 L2098.8 1426.5 L2099.1 1426.5 L2099.4 1426.5 L2099.7 1426.5 L2100 1426.5" stroke="#e02255" stroke-width="3.2" fill="none" />
<rect x="1621.8" y="1255.7" width="542.2" height="343.5" fill="none" stroke="#141414" stroke-width="4" />
<line x1="1621.8" y1="1427.5" x2="1630.8" y2="1427.5" stroke="#141414" stroke-width="2.5" />
<line x1="1937" y1="1599.2" x2="1937" y2="1590.2" stroke="#141414" stroke-width="2.5" />
<line x1="1711.6" y1="1344" x2="1711.6" y2="1404" stroke="#141414" stroke-width="4.5" /><path d="M1711.6 1422 L1702.1 1392 L1711.6 1398 L1721.1 1392Z" fill="#141414"/>
<line x1="1711.6" y1="1532" x2="1711.6" y2="1472" stroke="#141414" stroke-width="4.5" /><path d="M1711.6 1454 L1721.1 1484 L1711.6 1478 L1702.1 1484Z" fill="#141414"/>
<text x="0" y="0" font-size="54" text-anchor="end" fill="#161616" transform="translate(1603 1281.5) scale(1.2 1)" >0.2</text>
<text x="0" y="0" font-size="54" text-anchor="end" fill="#161616" transform="translate(1602 1444.5) scale(1.2 1)" >0</text>
<text x="0" y="0" font-size="54" text-anchor="end" fill="#161616" transform="translate(1603 1621) scale(1.2 1)" >0.2</text><text x="0" y="0" font-size="54" text-anchor="end" fill="#161616" transform="translate(1516 1621) scale(1.344 1)" >−</text>
<text x="0" y="0" font-size="54" text-anchor="middle" fill="#161616" transform="translate(1750 1660.5) scale(1.2 1)" >1</text>
<text x="0" y="0" font-size="54" text-anchor="middle" fill="#161616" transform="translate(1940 1660.5) scale(1.2 1)" >50</text>
<text x="0" y="0" font-size="54" text-anchor="middle" fill="#161616" transform="translate(2134 1660.5) scale(1.2 1)" >101</text>
<text x="1892" y="1729" font-size="54" text-anchor="middle" fill="#141414" >传播距离</text>
<text x="0" y="0" font-size="56" text-anchor="middle" fill="#141414" font-style="italic" transform="translate(1498 1416.5) scale(1.4 1)" >u</text><line x1="1473" y1="1435" x2="1519" y2="1435" stroke="#141414" stroke-width="2.5" /><text x="0" y="0" font-size="56" text-anchor="middle" fill="#141414" font-style="italic" transform="translate(1492 1484) scale(1.12 1)" >U</text>
<text x="0" y="0" font-size="55" text-anchor="start" fill="#161616" font-style="italic" transform="translate(1636 1302) scale(1.12 1)" >Γ</text><text x="0" y="0" font-size="37.4" text-anchor="start" fill="#161616" transform="translate(1669 1312) scale(1.1 1)" >L</text>
</g>
<g id="panel_e">
<path d="M2469 50 L2963 97.5 L2957 109 L2484.6 62Z" fill="#dcdcdc"/>
<path d="M2484.6 61.5 L2890 102.5 L2890 176.5 L2487.8 124Z" fill="#a9a9a9"/>
<path d="M2890 102.5 L2957 108.8 L2957 183 L2890 176.5Z" fill="#bcbcbc"/>
<path d="M2475 131 L2487.5 121.5 L2957 174.5 L2957 184Z" fill="#c9c9c9"/>
<path d="M2487.5 123 L2890 170.5" stroke="#8a8a8a" stroke-width="3" fill="none"/>
<text x="2361" y="57" font-size="54.5" text-anchor="start" fill="#141414" >输入</text>
<text x="2976" y="124" font-size="54.5" text-anchor="start" fill="#141414" >输出</text>
<path d="M2387 85 L2405 85 Q2411 85 2415 93 L2421 104 Q2423.5 109 2426 101 L2431 81 Q2433 75 2435.5 82 L2442 94 L2447 93 L2464 92.5" stroke="#f6f0a0" stroke-width="8" fill="none" stroke-linejoin="round" stroke-linecap="round" opacity="0.8"/><path d="M2387 85 L2405 85 Q2411 85 2415 93 L2421 104 Q2423.5 109 2426 101 L2431 81 Q2433 75 2435.5 82 L2442 94 L2447 93 L2464 92.5" stroke="#e6bc1e" stroke-width="3.6" fill="none" stroke-linejoin="round" stroke-linecap="round"/>
<path d="M2985 150 L3003 150 Q3009 150 3013 158 L3019 169 Q3021.5 174 3024 166 L3029 146 Q3031 140 3033.5 147 L3040 159 L3045 158 L3062 157.5" stroke="#f6f0a0" stroke-width="8" fill="none" stroke-linejoin="round" stroke-linecap="round" opacity="0.8"/><path d="M2985 150 L3003 150 Q3009 150 3013 158 L3019 169 Q3021.5 174 3024 166 L3029 146 Q3031 140 3033.5 147 L3040 159 L3045 158 L3062 157.5" stroke="#e6bc1e" stroke-width="3.6" fill="none" stroke-linejoin="round" stroke-linecap="round"/>
<text x="2253" y="63" font-size="57" text-anchor="start" fill="#1a1a1a" font-weight="bold" style='font-family:"Liberation Sans","Noto Sans CJK SC",sans-serif' >e</text>
<line x1="2689.8" y1="181" x2="2689.8" y2="250" stroke="#141414" stroke-width="10.5" /><path d="M2689.8 279 L2668.3 227 L2689.8 237.4 L2711.3 227Z" fill="#141414"/>
<clipPath id="cla"><path d="M2452 679 L2452 657.2 L2452.5 657.2 L2453 657.2 L2453.5 657.2 L2454 657.2 L2454.5 657.2 L2455 657.2 L2455.5 657.2 L2456 657.2 L2456.5 657.2 L2457 657.2 L2457.5 657.2 L2458 657.2 L2458.5 657.2 L2459 657.2 L2459.5 657.2 L2460 657.2 L2460.5 657.2 L2461 657.2 L2461.5 657.2 L2462 657.1 L2462.5 657.1 L2463 657.1 L2463.5 657.1 L2464 657.1 L2464.5 657.1 L2465 657.1 L2465.5 657.1 L2466 657.1 L2466.5 657.1 L2467 657.1 L2467.5 657.1 L2468 657.1 L2468.5 657 L2469 657 L2469.5 657 L2470 657 L2470.5 657 L2471 657 L2471.5 657 L2472 657 L2472.5 657 L2473 657 L2473.5 657 L2474 657 L2474.5 657 L2475 656.9 L2475.5 656.9 L2476 656.9 L2476.5 656.9 L2477 656.8 L2477.5 656.8 L2478 656.8 L2478.5 656.8 L2479 656.8 L2479.5 656.8 L2480 656.8 L2480.5 656.8 L2481 656.8 L2481.5 656.8 L2482 656.8 L2482.5 656.8 L2483 656.8 L2483.5 656.6 L2484 656.6 L2484.5 656.6 L2485 656.6 L2485.5 656.6 L2486 656.6 L2486.5 656.6 L2487 656.6 L2487.5 656.6 L2488 656.6 L2488.5 656.6 L2489 656.6 L2489.5 656.5 L2490 656.4 L2490.5 656.4 L2491 656.4 L2491.5 656.4 L2492 656.4 L2492.5 656.4 L2493 656.4 L2493.5 656.4 L2494 656.4 L2494.5 656.4 L2495 656.3 L2495.5 656.3 L2496 656.3 L2496.5 655.9 L2497 655.9 L2497.5 655.9 L2498 655.9 L2498.5 655.9 L2499 655.9 L2499.5 655.9 L2500 655.9 L2500.5 655.9 L2501 655.9 L2501.5 655.9 L2502 655.9 L2502.5 655.9 L2503 655.8 L2503.5 655.3 L2504 655.3 L2504.5 655.3 L2505 655.3 L2505.5 655.3 L2506 655.3 L2506.5 655.3 L2507 655.3 L2507.5 655.3 L2508 655.2 L2508.5 655.2 L2509 655.2 L2509.5 655.1 L2510 654 L2510.5 654 L2511 654 L2511.5 654 L2512 654 L2512.5 654 L2513 654 L2513.5 654 L2514 654 L2514.5 653.8 L2515 653.8 L2515.5 653.8 L2516 653.8 L2516.5 651.1 L2517 651.1 L2517.5 651.1 L2518 651.1 L2518.5 651.1 L2519 651.1 L2519.5 651.1 L2520 651.1 L2520.5 651.1 L2521 651 L2521.5 651 L2522 651 L2522.5 648.8 L2523 648.4 L2523.5 648 L2524 647.6 L2524.5 647.1 L2525 646.7 L2525.5 646.3 L2526 645.9 L2526.5 644.9 L2527 641.6 L2527.5 638.2 L2528 634.9 L2528.5 631.5 L2529 628.2 L2529.5 626.2 L2530 629.5 L2530.5 632.9 L2531 636.2 L2531.5 639.5 L2532 642.9 L2532.5 645.4 L2533 645.8 L2533.5 646.2 L2534 646.6 L2534.5 646.8 L2535 647.2 L2535.5 647.7 L2536 648.1 L2536.5 650.4 L2537 650.4 L2537.5 650.4 L2538 650.4 L2538.5 650.4 L2539 650.4 L2539.5 650.4 L2540 650.4 L2540.5 650.4 L2541 650.1 L2541.5 650.1 L2542 650.1 L2542.5 650.1 L2543 652.7 L2543.5 652.7 L2544 652.7 L2544.5 652.7 L2545 652.7 L2545.5 652.7 L2546 652.7 L2546.5 652.7 L2547 652.7 L2547.5 652.3 L2548 652.3 L2548.5 652.3 L2549 652.3 L2549.5 653.4 L2550 653.4 L2550.5 653.4 L2551 653.4 L2551.5 653.4 L2552 653.4 L2552.5 653.4 L2553 653.4 L2553.5 653.4 L2554 652.8 L2554.5 652.8 L2555 652.8 L2555.5 652.8 L2556 653.4 L2556.5 653.4 L2557 653.4 L2557.5 653.4 L2558 653.4 L2558.5 653.4 L2559 653.4 L2559.5 653.4 L2560 653.4 L2560.5 653.4 L2561 652.5 L2561.5 652.5 L2562 652.5 L2562.5 652.8 L2563 652.8 L2563.5 652.8 L2564 652.8 L2564.5 652.8 L2565 652.8 L2565.5 652.8 L2566 652.8 L2566.5 652.8 L2567 652.8 L2567.5 651.6 L2568 651.6 L2568.5 651.6 L2569 651.5 L2569.5 651.7 L2570 651.7 L2570.5 651.7 L2571 651.7 L2571.5 651.7 L2572 651.7 L2572.5 651.7 L2573 651.7 L2573.5 651.7 L2574 649.8 L2574.5 649.8 L2575 649.8 L2575.5 649.7 L2576 649.8 L2576.5 649.8 L2577 649.8 L2577.5 649.8 L2578 649.8 L2578.5 649.8 L2579 649.8 L2579.5 649.8 L2580 649.8 L2580.5 646.7 L2581 646.7 L2581.5 646.7 L2582 646.6 L2582.5 646.7 L2583 646.7 L2583.5 646.7 L2584 646.7 L2584.5 646.7 L2585 646.7 L2585.5 646.7 L2586 646.7 L2586.5 646.7 L2587 641 L2587.5 641 L2588 641 L2588.5 640.9 L2589 640.9 L2589.5 640.9 L2590 640.9 L2590.5 640.9 L2591 640.9 L2591.5 640.9 L2592 640.9 L2592.5 640.9 L2593 640.9 L2593.5 640.9 L2594 629.2 L2594.5 629.2 L2595 629.2 L2595.5 629.1 L2596 629.1 L2596.5 629.1 L2597 629.1 L2597.5 629.1 L2598 629.1 L2598.5 629.1 L2599 629.1 L2599.5 629.1 L2600 629.1 L2600.5 602.3 L2601 602.3 L2601.5 602.3 L2602 602.2 L2602.5 602.2 L2603 602.2 L2603.5 602.2 L2604 602.2 L2604.5 602.2 L2605 602.2 L2605.5 602.2 L2606 602.2 L2606.5 580.1 L2607 576 L2607.5 571.7 L2608 551.8 L2608.5 528.2 L2609 504.6 L2609.5 481.1 L2610 457.5 L2610.5 434 L2611 410.4 L2611.5 386.8 L2612 363.3 L2612.5 339.7 L2613 316.1 L2613.5 311.4 L2614 335 L2614.5 358.5 L2615 382.1 L2615.5 405.7 L2616 429.2 L2616.5 452.8 L2617 476.4 L2617.5 499.9 L2618 523.5 L2618.5 547 L2619 570.4 L2619.5 574.7 L2620 578.9 L2620.5 601.8 L2621 601.8 L2621.5 601.5 L2622 601.5 L2622.5 601.5 L2623 601.5 L2623.5 601.5 L2624 601.5 L2624.5 601.5 L2625 601.5 L2625.5 601.5 L2626 601.5 L2626.5 601.5 L2627 628.2 L2627.5 628.2 L2628 628.2 L2628.5 627.8 L2629 627.8 L2629.5 627.8 L2630 627.8 L2630.5 627.8 L2631 627.8 L2631.5 627.8 L2632 627.8 L2632.5 627.8 L2633 627.8 L2633.5 639.5 L2634 639.5 L2634.5 639.5 L2635 638.9 L2635.5 639 L2636 639 L2636.5 639 L2637 639 L2637.5 639 L2638 638.9 L2638.5 638.9 L2639 638.9 L2639.5 638.9 L2640 644.7 L2640.5 644.7 L2641 644.7 L2641.5 643.9 L2642 643.9 L2642.5 643.9 L2643 643.9 L2643.5 643.9 L2644 643.9 L2644.5 643.8 L2645 643.8 L2645.5 643.8 L2646 643.8 L2646.5 647 L2647 647 L2647.5 647 L2648 645.8 L2648.5 645.8 L2649 645.8 L2649.5 645.8 L2650 645.8 L2650.5 645.8 L2651 645.8 L2651.5 645.8 L2652 645.8 L2652.5 645.8 L2653 647.7 L2653.5 647.7 L2654 647.7 L2654.5 645.8 L2655 645.8 L2655.5 645.8 L2656 645.8 L2656.5 645.8 L2657 645.8 L2657.5 645.8 L2658 645.8 L2658.5 645.8 L2659 645.8 L2659.5 645.8 L2660 647 L2660.5 647 L2661 647 L2661.5 643.9 L2662 643.9 L2662.5 643.9 L2663 643.9 L2663.5 643.9 L2664 643.9 L2664.5 643.9 L2665 643.9 L2665.5 643.9 L2666 643.9 L2666.5 644.7 L2667 644.7 L2667.5 644.7 L2668 639.1 L2668.5 639.1 L2669 639.1 L2669.5 639.1 L2670 639.1 L2670.5 639.1 L2671 639.1 L2671.5 639.1 L2672 639.1 L2672.5 639.1 L2673 639.7 L2673.5 639.7 L2674 639.7 L2674.5 628.2 L2675 628.2 L2675.5 628.2 L2676 628.2 L2676.5 628.2 L2677 628.2 L2677.5 628.2 L2678 628.2 L2678.5 628.2 L2679 628.2 L2679.5 628.6 L2680 628.6 L2680.5 628.6 L2681 602.3 L2681.5 602.2 L2682 602.2 L2682.5 602.2 L2683 602.2 L2683.5 602.2 L2684 602.2 L2684.5 602.2 L2685 602.2 L2685.5 602.2 L2686 602.5 L2686.5 602.5 L2687 582.4 L2687.5 578.4 L2688 574.2 L2688.5 561.2 L2689 537.6 L2689.5 514.1 L2690 490.5 L2690.5 466.9 L2691 443.4 L2691.5 419.8 L2692 396.2 L2692.5 372.7 L2693 349.1 L2693.5 325.6 L2694 302 L2694.5 325.6 L2695 349.1 L2695.5 372.7 L2696 396.2 L2696.5 419.8 L2697 443.4 L2697.5 466.9 L2698 490.5 L2698.5 514.1 L2699 537.6 L2699.5 561.2 L2700 574.6 L2700.5 578.8 L2701 582.8 L2701.5 602.9 L2702 602.9 L2702.5 602.9 L2703 602.9 L2703.5 602.9 L2704 602.9 L2704.5 602.9 L2705 602.9 L2705.5 602.9 L2706 603 L2706.5 603 L2707 603 L2707.5 629.4 L2708 629.3 L2708.5 629.3 L2709 629.3 L2709.5 629.3 L2710 629.3 L2710.5 629.3 L2711 629.3 L2711.5 629.3 L2712 629.3 L2712.5 629.4 L2713 629.4 L2713.5 629.4 L2714 640.9 L2714.5 640.9 L2715 640.9 L2715.5 640.9 L2716 640.9 L2716.5 640.9 L2717 640.8 L2717.5 640.8 L2718 640.8 L2718.5 640.8 L2719 640.9 L2719.5 640.9 L2720 640.9 L2720.5 646.6 L2721 646.5 L2721.5 646.5 L2722 646.5 L2722.5 646.5 L2723 646.5 L2723.5 646.5 L2724 646.4 L2724.5 646.4 L2725 646.4 L2725.5 646.4 L2726 646.5 L2726.5 646.5 L2727 649.6 L2727.5 649.5 L2728 649.5 L2728.5 649.5 L2729 649.5 L2729.5 649.5 L2730 649.5 L2730.5 649.4 L2731 649.4 L2731.5 649.4 L2732 649.4 L2732.5 649.5 L2733 649.5 L2733.5 649.5 L2734 651.4 L2734.5 651.2 L2735 651.2 L2735.5 651.2 L2736 651.2 L2736.5 651.2 L2737 651.1 L2737.5 651.1 L2738 651.1 L2738.5 651.1 L2739 651.2 L2739.5 651.2 L2740 651.2 L2740.5 652.4 L2741 652 L2741.5 652 L2742 652 L2742.5 652 L2743 652 L2743.5 652 L2744 652 L2744.5 652 L2745 652 L2745.5 652 L2746 652 L2746.5 652 L2747 652.8 L2747.5 652.2 L2748 652.2 L2748.5 652.2 L2749 652.2 L2749.5 652.2 L2750 652.1 L2750.5 652.1 L2751 652.1 L2751.5 652.1 L2752 652.2 L2752.5 652.2 L2753 652.2 L2753.5 652.7 L2754 651.4 L2754.5 651.4 L2755 651.4 L2755.5 651.4 L2756 651.4 L2756.5 651.4 L2757 651.3 L2757.5 651.3 L2758 651.3 L2758.5 651.3 L2759 651.3 L2759.5 651.3 L2760 651.8 L2760.5 648.6 L2761 648.6 L2761.5 648.6 L2762 648.6 L2762.5 648.6 L2763 648.6 L2763.5 648.6 L2764 648.6 L2764.5 648.6 L2765 648.6 L2765.5 648.6 L2766 648.6 L2766.5 648.6 L2767 646.2 L2767.5 645.8 L2768 645.3 L2768.5 644.8 L2769 644.2 L2769.5 641 L2770 636 L2770.5 631 L2771 626 L2771.5 621 L2772 616 L2772.5 611 L2773 606 L2773.5 601 L2774 602 L2774.5 607 L2775 612 L2775.5 617 L2776 622 L2776.5 627 L2777 632 L2777.5 637 L2778 642 L2778.5 644.4 L2779 644.9 L2779.5 645.4 L2780 646.1 L2780.5 646.6 L2781 649.2 L2781.5 649.2 L2782 649.2 L2782.5 649.2 L2783 649 L2783.5 649 L2784 649 L2784.5 649 L2785 649 L2785.5 649 L2786 649 L2786.5 649.2 L2787 652.3 L2787.5 652.3 L2788 652.3 L2788.5 652.3 L2789 652.3 L2789.5 652.3 L2790 652.1 L2790.5 652.1 L2791 652.1 L2791.5 652.1 L2792 652.1 L2792.5 652.1 L2793 652.2 L2793.5 653.6 L2794 653.6 L2794.5 653.6 L2795 653.6 L2795.5 653.6 L2796 653.6 L2796.5 653.3 L2797 653.3 L2797.5 653.3 L2798 653.3 L2798.5 653.3 L2799 653.3 L2799.5 653.3 L2800 653.4 L2800.5 654.1 L2801 654.1 L2801.5 654.1 L2802 654.1 L2802.5 654.1 L2803 653.7 L2803.5 653.7 L2804 653.7 L2804.5 653.7 L2805 653.7 L2805.5 653.7 L2806 653.7 L2806.5 653.8 L2807 654.1 L2807.5 654.1 L2808 654.1 L2808.5 654.1 L2809 654.1 L2809.5 653.5 L2810 653.5 L2810.5 653.5 L2811 653.5 L2811.5 653.5 L2812 653.5 L2812.5 653.5 L2813 653.6 L2813.5 653.8 L2814 653.8 L2814.5 653.8 L2815 653.8 L2815.5 653.8 L2816 652.9 L2816.5 652.9 L2817 652.9 L2817.5 652.9 L2818 652.9 L2818.5 652.9 L2819 652.9 L2819.5 652.9 L2820 653.1 L2820.5 653.1 L2821 653.1 L2821.5 653.1 L2822 653.1 L2822.5 653.1 L2823 651.5 L2823.5 651.5 L2824 651.5 L2824.5 651.5 L2825 651.5 L2825.5 651.5 L2826 651.5 L2826.5 651.6 L2827 651.6 L2827.5 651.6 L2828 651.6 L2828.5 651.6 L2829 651.6 L2829.5 648.8 L2830 648.8 L2830.5 648.8 L2831 648.8 L2831.5 648.8 L2832 648.8 L2832.5 648.8 L2833 648.8 L2833.5 648.9 L2834 648.9 L2834.5 648.9 L2835 648.9 L2835.5 648.9 L2836 643 L2836.5 643 L2837 643 L2837.5 643 L2838 643 L2838.5 643 L2839 643 L2839.5 643 L2840 643.1 L2840.5 643.1 L2841 643.1 L2841.5 643.1 L2842 643.1 L2842.5 629.7 L2843 629.7 L2843.5 629.7 L2844 629.7 L2844.5 629.7 L2845 629.7 L2845.5 629.7 L2846 629.7 L2846.5 629.8 L2847 629.8 L2847.5 629.8 L2848 629.8 L2848.5 619.5 L2849 617.5 L2849.5 615.4 L2850 613.2 L2850.5 606.8 L2851 594.8 L2851.5 582.8 L2852 570.7 L2852.5 558.7 L2853 546.7 L2853.5 534.6 L2854 522.6 L2854.5 510.6 L2855 498.5 L2855.5 486.5 L2856 498.5 L2856.5 510.6 L2857 522.6 L2857.5 534.6 L2858 546.7 L2858.5 558.7 L2859 570.7 L2859.5 582.8 L2860 594.8 L2860.5 606.8 L2861 613.2 L2861.5 615.4 L2862 617.5 L2862.5 619.5 L2863 629.8 L2863.5 629.8 L2864 629.8 L2864.5 629.7 L2865 629.7 L2865.5 629.7 L2866 629.7 L2866.5 629.7 L2867 629.7 L2867.5 629.7 L2868 629.7 L2868.5 629.7 L2869 643.1 L2869.5 643.1 L2870 643.1 L2870.5 643.1 L2871 643 L2871.5 643 L2872 643 L2872.5 643 L2873 643 L2873.5 643 L2874 643 L2874.5 643 L2875 643 L2875.5 648.9 L2876 648.9 L2876.5 648.9 L2877 648.9 L2877.5 648.7 L2878 648.7 L2878.5 648.7 L2879 648.8 L2879.5 648.8 L2880 648.8 L2880.5 648.8 L2881 648.9 L2881.5 648.9 L2882 651.8 L2882.5 651.9 L2883 651.9 L2883.5 652 L2884 651.8 L2884.5 651.9 L2885 651.9 L2885.5 652 L2886 652.1 L2886.5 652.1 L2887 652.2 L2887.5 652.2 L2888 652.3 L2888.5 653.9 L2889 653.9 L2889.5 654 L2890 654 L2890.5 653.8 L2891 653.8 L2891.5 653.9 L2892 653.9 L2892.5 654 L2893 654 L2893.5 654.1 L2894 654.1 L2894.5 654.2 L2895 654.2 L2895.5 655.2 L2896 655.3 L2896.5 655.3 L2897 655.4 L2897.5 654.9 L2898 655 L2898.5 655 L2899 655.1 L2899.5 655.2 L2900 655.2 L2900.5 655.3 L2901 655.3 L2901.5 655.4 L2902 656 L2902.5 656.1 L2903 656.1 L2903.5 656.2 L2904 655.4 L2904.5 655.4 L2905 655.5 L2905.5 655.5 L2906 655.6 L2906.5 655.7 L2907 655.7 L2907.5 655.8 L2908 655.8 L2908.5 656.3 L2909 656.3 L2909.5 656.4 L2910 656.4 L2910.5 654.9 L2911 655 L2911.5 655 L2912 655.1 L2912.5 655.2 L2913 655.2 L2913.5 655.3 L2914 655.3 L2914.5 655.4 L2915 655.7 L2915.5 655.8 L2916 655.8 L2916.5 655.9 L2917 652.8 L2917.5 652.8 L2918 652.9 L2918.5 653 L2919 653 L2919.5 653.1 L2920 653.1 L2920.5 653.2 L2921 653.2 L2921.5 653.5 L2922 653.5 L2922.5 653.6 L2923 653.6 L2923.5 646.5 L2924 646.6 L2924.5 646.6 L2925 646.7 L2925.5 646.7 L2926 646.8 L2926.5 646.8 L2927 646.9 L2927.5 646.9 L2928 647 L2928.5 647.2 L2929 647.3 L2929.5 647.3 L2930 641.3 L2930.5 640.2 L2931 639.1 L2931.5 637.8 L2932 630.4 L2932.5 623.1 L2933 615.7 L2933.5 608.4 L2934 601 L2934.5 593.7 L2935 586.3 L2935.5 579 L2936 571.6 L2936.5 564.2 L2937 565.7 L2937.5 573.1 L2938 580.4 L2938.5 587.8 L2939 595.1 L2939.5 602.5 L2940 609.9 L2940.5 617.2 L2941 624.6 L2941.5 631.9 L2942 639.3 L2942.5 640.7 L2943 641.9 L2943.5 643.1 L2944 649 L2944.5 649.1 L2945 649.1 L2945.5 649.2 L2946 649.2 L2946.5 649.3 L2947 649.3 L2947.5 649.4 L2948 649.5 L2948.5 649.6 L2949 649.6 L2949.5 649.7 L2950 656.9 L2950.5 656.9 L2951 657 L2951.5 657 L2952 657.1 L2952.5 657.1 L2953 657.2 L2953.5 657.2 L2954 657.3 L2954.5 657.4 L2955 657.4 L2955.5 657.5 L2956 657.5 L2956.5 660.7 L2957 660.8 L2957.5 660.8 L2958 660.9 L2958.5 660.9 L2959 661 L2959.5 661 L2960 661.1 L2960.5 661.1 L2961 661.2 L2961.5 661.3 L2962 661.3 L2962.5 661.4 L2963 661.4 L2963.5 663 L2964 663.1 L2964.5 663.1 L2965 663.2 L2965.5 663.2 L2966 663.3 L2966.5 663.3 L2967 663.4 L2967.5 663.4 L2968 663.5 L2968.5 663.6 L2969 663.6 L2969.5 663.7 L2970 664.5 L2970.5 664.6 L2971 664.6 L2971.5 664.7 L2972 664.8 L2972.5 664.8 L2973 664.9 L2973.5 664.9 L2974 665 L2974.5 665 L2975 665.1 L2975.5 665.1 L2976 665.2 L2976.5 665.8 L2977 665.8 L2977.5 665.9 L2978 665.9 L2978.5 666 L2979 666 L2979.5 666.1 L2980 666.1 L2980.5 666.2 L2981 666.2 L2981.5 666.3 L2982 666.3 L2982.5 666.4 L2983 666.8 L2983.5 666.8 L2984 666.9 L2984.5 666.9 L2985 667 L2985.5 667 L2986 667.1 L2986.5 667.1 L2987 667.2 L2987.5 667.3 L2988 667.3 L2988.5 667.4 L2989 667.4 L2989.5 667.7 L2990 667.7 L2990.5 667.8 L2991 667.8 L2991.5 667.9 L2992 667.9 L2992.5 668 L2993 668 L2993.5 668.1 L2994 668.1 L2994.5 668.2 L2995 668.3 L2995.5 668.3 L2996 668.4 L2996.5 668.6 L2997 668.6 L2997.5 668.7 L2998 668.7 L2998.5 668.8 L2999 668.8 L2999.5 668.9 L3000 668.9 L3000.5 669 L3001 669 L3001.5 669.1 L3002 669.1 L3002.5 669.2 L3003 669.4 L3003.5 669.4 L3004 669.5 L3004.5 669.5 L3005 669.6 L3005.5 669.6 L3006 669.7 L3006.5 669.7 L3007 669.8 L3007.5 669.8 L3008 669.9 L3008.5 669.9 L3009 670 L3009.5 670.1 L3009.5 679Z"/></clipPath>
<path d="M2452 679 L2452 657.2 L2452.5 657.2 L2453 657.2 L2453.5 657.2 L2454 657.2 L2454.5 657.2 L2455 657.2 L2455.5 657.2 L2456 657.2 L2456.5 657.2 L2457 657.2 L2457.5 657.2 L2458 657.2 L2458.5 657.2 L2459 657.2 L2459.5 657.2 L2460 657.2 L2460.5 657.2 L2461 657.2 L2461.5 657.2 L2462 657.1 L2462.5 657.1 L2463 657.1 L2463.5 657.1 L2464 657.1 L2464.5 657.1 L2465 657.1 L2465.5 657.1 L2466 657.1 L2466.5 657.1 L2467 657.1 L2467.5 657.1 L2468 657.1 L2468.5 657 L2469 657 L2469.5 657 L2470 657 L2470.5 657 L2471 657 L2471.5 657 L2472 657 L2472.5 657 L2473 657 L2473.5 657 L2474 657 L2474.5 657 L2475 656.9 L2475.5 656.9 L2476 656.9 L2476.5 656.9 L2477 656.8 L2477.5 656.8 L2478 656.8 L2478.5 656.8 L2479 656.8 L2479.5 656.8 L2480 656.8 L2480.5 656.8 L2481 656.8 L2481.5 656.8 L2482 656.8 L2482.5 656.8 L2483 656.8 L2483.5 656.6 L2484 656.6 L2484.5 656.6 L2485 656.6 L2485.5 656.6 L2486 656.6 L2486.5 656.6 L2487 656.6 L2487.5 656.6 L2488 656.6 L2488.5 656.6 L2489 656.6 L2489.5 656.5 L2490 656.4 L2490.5 656.4 L2491 656.4 L2491.5 656.4 L2492 656.4 L2492.5 656.4 L2493 656.4 L2493.5 656.4 L2494 656.4 L2494.5 656.4 L2495 656.3 L2495.5 656.3 L2496 656.3 L2496.5 655.9 L2497 655.9 L2497.5 655.9 L2498 655.9 L2498.5 655.9 L2499 655.9 L2499.5 655.9 L2500 655.9 L2500.5 655.9 L2501 655.9 L2501.5 655.9 L2502 655.9 L2502.5 655.9 L2503 655.8 L2503.5 655.3 L2504 655.3 L2504.5 655.3 L2505 655.3 L2505.5 655.3 L2506 655.3 L2506.5 655.3 L2507 655.3 L2507.5 655.3 L2508 655.2 L2508.5 655.2 L2509 655.2 L2509.5 655.1 L2510 654 L2510.5 654 L2511 654 L2511.5 654 L2512 654 L2512.5 654 L2513 654 L2513.5 654 L2514 654 L2514.5 653.8 L2515 653.8 L2515.5 653.8 L2516 653.8 L2516.5 651.1 L2517 651.1 L2517.5 651.1 L2518 651.1 L2518.5 651.1 L2519 651.1 L2519.5 651.1 L2520 651.1 L2520.5 651.1 L2521 651 L2521.5 651 L2522 651 L2522.5 648.8 L2523 648.4 L2523.5 648 L2524 647.6 L2524.5 647.1 L2525 646.7 L2525.5 646.3 L2526 645.9 L2526.5 644.9 L2527 641.6 L2527.5 638.2 L2528 634.9 L2528.5 631.5 L2529 628.2 L2529.5 626.2 L2530 629.5 L2530.5 632.9 L2531 636.2 L2531.5 639.5 L2532 642.9 L2532.5 645.4 L2533 645.8 L2533.5 646.2 L2534 646.6 L2534.5 646.8 L2535 647.2 L2535.5 647.7 L2536 648.1 L2536.5 650.4 L2537 650.4 L2537.5 650.4 L2538 650.4 L2538.5 650.4 L2539 650.4 L2539.5 650.4 L2540 650.4 L2540.5 650.4 L2541 650.1 L2541.5 650.1 L2542 650.1 L2542.5 650.1 L2543 652.7 L2543.5 652.7 L2544 652.7 L2544.5 652.7 L2545 652.7 L2545.5 652.7 L2546 652.7 L2546.5 652.7 L2547 652.7 L2547.5 652.3 L2548 652.3 L2548.5 652.3 L2549 652.3 L2549.5 653.4 L2550 653.4 L2550.5 653.4 L2551 653.4 L2551.5 653.4 L2552 653.4 L2552.5 653.4 L2553 653.4 L2553.5 653.4 L2554 652.8 L2554.5 652.8 L2555 652.8 L2555.5 652.8 L2556 653.4 L2556.5 653.4 L2557 653.4 L2557.5 653.4 L2558 653.4 L2558.5 653.4 L2559 653.4 L2559.5 653.4 L2560 653.4 L2560.5 653.4 L2561 652.5 L2561.5 652.5 L2562 652.5 L2562.5 652.8 L2563 652.8 L2563.5 652.8 L2564 652.8 L2564.5 652.8 L2565 652.8 L2565.5 652.8 L2566 652.8 L2566.5 652.8 L2567 652.8 L2567.5 651.6 L2568 651.6 L2568.5 651.6 L2569 651.5 L2569.5 651.7 L2570 651.7 L2570.5 651.7 L2571 651.7 L2571.5 651.7 L2572 651.7 L2572.5 651.7 L2573 651.7 L2573.5 651.7 L2574 649.8 L2574.5 649.8 L2575 649.8 L2575.5 649.7 L2576 649.8 L2576.5 649.8 L2577 649.8 L2577.5 649.8 L2578 649.8 L2578.5 649.8 L2579 649.8 L2579.5 649.8 L2580 649.8 L2580.5 646.7 L2581 646.7 L2581.5 646.7 L2582 646.6 L2582.5 646.7 L2583 646.7 L2583.5 646.7 L2584 646.7 L2584.5 646.7 L2585 646.7 L2585.5 646.7 L2586 646.7 L2586.5 646.7 L2587 641 L2587.5 641 L2588 641 L2588.5 640.9 L2589 640.9 L2589.5 640.9 L2590 640.9 L2590.5 640.9 L2591 640.9 L2591.5 640.9 L2592 640.9 L2592.5 640.9 L2593 640.9 L2593.5 640.9 L2594 629.2 L2594.5 629.2 L2595 629.2 L2595.5 629.1 L2596 629.1 L2596.5 629.1 L2597 629.1 L2597.5 629.1 L2598 629.1 L2598.5 629.1 L2599 629.1 L2599.5 629.1 L2600 629.1 L2600.5 602.3 L2601 602.3 L2601.5 602.3 L2602 602.2 L2602.5 602.2 L2603 602.2 L2603.5 602.2 L2604 602.2 L2604.5 602.2 L2605 602.2 L2605.5 602.2 L2606 602.2 L2606.5 580.1 L2607 576 L2607.5 571.7 L2608 551.8 L2608.5 528.2 L2609 504.6 L2609.5 481.1 L2610 457.5 L2610.5 434 L2611 410.4 L2611.5 386.8 L2612 363.3 L2612.5 339.7 L2613 316.1 L2613.5 311.4 L2614 335 L2614.5 358.5 L2615 382.1 L2615.5 405.7 L2616 429.2 L2616.5 452.8 L2617 476.4 L2617.5 499.9 L2618 523.5 L2618.5 547 L2619 570.4 L2619.5 574.7 L2620 578.9 L2620.5 601.8 L2621 601.8 L2621.5 601.5 L2622 601.5 L2622.5 601.5 L2623 601.5 L2623.5 601.5 L2624 601.5 L2624.5 601.5 L2625 601.5 L2625.5 601.5 L2626 601.5 L2626.5 601.5 L2627 628.2 L2627.5 628.2 L2628 628.2 L2628.5 627.8 L2629 627.8 L2629.5 627.8 L2630 627.8 L2630.5 627.8 L2631 627.8 L2631.5 627.8 L2632 627.8 L2632.5 627.8 L2633 627.8 L2633.5 639.5 L2634 639.5 L2634.5 639.5 L2635 638.9 L2635.5 639 L2636 639 L2636.5 639 L2637 639 L2637.5 639 L2638 638.9 L2638.5 638.9 L2639 638.9 L2639.5 638.9 L2640 644.7 L2640.5 644.7 L2641 644.7 L2641.5 643.9 L2642 643.9 L2642.5 643.9 L2643 643.9 L2643.5 643.9 L2644 643.9 L2644.5 643.8 L2645 643.8 L2645.5 643.8 L2646 643.8 L2646.5 647 L2647 647 L2647.5 647 L2648 645.8 L2648.5 645.8 L2649 645.8 L2649.5 645.8 L2650 645.8 L2650.5 645.8 L2651 645.8 L2651.5 645.8 L2652 645.8 L2652.5 645.8 L2653 647.7 L2653.5 647.7 L2654 647.7 L2654.5 645.8 L2655 645.8 L2655.5 645.8 L2656 645.8 L2656.5 645.8 L2657 645.8 L2657.5 645.8 L2658 645.8 L2658.5 645.8 L2659 645.8 L2659.5 645.8 L2660 647 L2660.5 647 L2661 647 L2661.5 643.9 L2662 643.9 L2662.5 643.9 L2663 643.9 L2663.5 643.9 L2664 643.9 L2664.5 643.9 L2665 643.9 L2665.5 643.9 L2666 643.9 L2666.5 644.7 L2667 644.7 L2667.5 644.7 L2668 639.1 L2668.5 639.1 L2669 639.1 L2669.5 639.1 L2670 639.1 L2670.5 639.1 L2671 639.1 L2671.5 639.1 L2672 639.1 L2672.5 639.1 L2673 639.7 L2673.5 639.7 L2674 639.7 L2674.5 628.2 L2675 628.2 L2675.5 628.2 L2676 628.2 L2676.5 628.2 L2677 628.2 L2677.5 628.2 L2678 628.2 L2678.5 628.2 L2679 628.2 L2679.5 628.6 L2680 628.6 L2680.5 628.6 L2681 602.3 L2681.5 602.2 L2682 602.2 L2682.5 602.2 L2683 602.2 L2683.5 602.2 L2684 602.2 L2684.5 602.2 L2685 602.2 L2685.5 602.2 L2686 602.5 L2686.5 602.5 L2687 582.4 L2687.5 578.4 L2688 574.2 L2688.5 561.2 L2689 537.6 L2689.5 514.1 L2690 490.5 L2690.5 466.9 L2691 443.4 L2691.5 419.8 L2692 396.2 L2692.5 372.7 L2693 349.1 L2693.5 325.6 L2694 302 L2694.5 325.6 L2695 349.1 L2695.5 372.7 L2696 396.2 L2696.5 419.8 L2697 443.4 L2697.5 466.9 L2698 490.5 L2698.5 514.1 L2699 537.6 L2699.5 561.2 L2700 574.6 L2700.5 578.8 L2701 582.8 L2701.5 602.9 L2702 602.9 L2702.5 602.9 L2703 602.9 L2703.5 602.9 L2704 602.9 L2704.5 602.9 L2705 602.9 L2705.5 602.9 L2706 603 L2706.5 603 L2707 603 L2707.5 629.4 L2708 629.3 L2708.5 629.3 L2709 629.3 L2709.5 629.3 L2710 629.3 L2710.5 629.3 L2711 629.3 L2711.5 629.3 L2712 629.3 L2712.5 629.4 L2713 629.4 L2713.5 629.4 L2714 640.9 L2714.5 640.9 L2715 640.9 L2715.5 640.9 L2716 640.9 L2716.5 640.9 L2717 640.8 L2717.5 640.8 L2718 640.8 L2718.5 640.8 L2719 640.9 L2719.5 640.9 L2720 640.9 L2720.5 646.6 L2721 646.5 L2721.5 646.5 L2722 646.5 L2722.5 646.5 L2723 646.5 L2723.5 646.5 L2724 646.4 L2724.5 646.4 L2725 646.4 L2725.5 646.4 L2726 646.5 L2726.5 646.5 L2727 649.6 L2727.5 649.5 L2728 649.5 L2728.5 649.5 L2729 649.5 L2729.5 649.5 L2730 649.5 L2730.5 649.4 L2731 649.4 L2731.5 649.4 L2732 649.4 L2732.5 649.5 L2733 649.5 L2733.5 649.5 L2734 651.4 L2734.5 651.2 L2735 651.2 L2735.5 651.2 L2736 651.2 L2736.5 651.2 L2737 651.1 L2737.5 651.1 L2738 651.1 L2738.5 651.1 L2739 651.2 L2739.5 651.2 L2740 651.2 L2740.5 652.4 L2741 652 L2741.5 652 L2742 652 L2742.5 652 L2743 652 L2743.5 652 L2744 652 L2744.5 652 L2745 652 L2745.5 652 L2746 652 L2746.5 652 L2747 652.8 L2747.5 652.2 L2748 652.2 L2748.5 652.2 L2749 652.2 L2749.5 652.2 L2750 652.1 L2750.5 652.1 L2751 652.1 L2751.5 652.1 L2752 652.2 L2752.5 652.2 L2753 652.2 L2753.5 652.7 L2754 651.4 L2754.5 651.4 L2755 651.4 L2755.5 651.4 L2756 651.4 L2756.5 651.4 L2757 651.3 L2757.5 651.3 L2758 651.3 L2758.5 651.3 L2759 651.3 L2759.5 651.3 L2760 651.8 L2760.5 648.6 L2761 648.6 L2761.5 648.6 L2762 648.6 L2762.5 648.6 L2763 648.6 L2763.5 648.6 L2764 648.6 L2764.5 648.6 L2765 648.6 L2765.5 648.6 L2766 648.6 L2766.5 648.6 L2767 646.2 L2767.5 645.8 L2768 645.3 L2768.5 644.8 L2769 644.2 L2769.5 641 L2770 636 L2770.5 631 L2771 626 L2771.5 621 L2772 616 L2772.5 611 L2773 606 L2773.5 601 L2774 602 L2774.5 607 L2775 612 L2775.5 617 L2776 622 L2776.5 627 L2777 632 L2777.5 637 L2778 642 L2778.5 644.4 L2779 644.9 L2779.5 645.4 L2780 646.1 L2780.5 646.6 L2781 649.2 L2781.5 649.2 L2782 649.2 L2782.5 649.2 L2783 649 L2783.5 649 L2784 649 L2784.5 649 L2785 649 L2785.5 649 L2786 649 L2786.5 649.2 L2787 652.3 L2787.5 652.3 L2788 652.3 L2788.5 652.3 L2789 652.3 L2789.5 652.3 L2790 652.1 L2790.5 652.1 L2791 652.1 L2791.5 652.1 L2792 652.1 L2792.5 652.1 L2793 652.2 L2793.5 653.6 L2794 653.6 L2794.5 653.6 L2795 653.6 L2795.5 653.6 L2796 653.6 L2796.5 653.3 L2797 653.3 L2797.5 653.3 L2798 653.3 L2798.5 653.3 L2799 653.3 L2799.5 653.3 L2800 653.4 L2800.5 654.1 L2801 654.1 L2801.5 654.1 L2802 654.1 L2802.5 654.1 L2803 653.7 L2803.5 653.7 L2804 653.7 L2804.5 653.7 L2805 653.7 L2805.5 653.7 L2806 653.7 L2806.5 653.8 L2807 654.1 L2807.5 654.1 L2808 654.1 L2808.5 654.1 L2809 654.1 L2809.5 653.5 L2810 653.5 L2810.5 653.5 L2811 653.5 L2811.5 653.5 L2812 653.5 L2812.5 653.5 L2813 653.6 L2813.5 653.8 L2814 653.8 L2814.5 653.8 L2815 653.8 L2815.5 653.8 L2816 652.9 L2816.5 652.9 L2817 652.9 L2817.5 652.9 L2818 652.9 L2818.5 652.9 L2819 652.9 L2819.5 652.9 L2820 653.1 L2820.5 653.1 L2821 653.1 L2821.5 653.1 L2822 653.1 L2822.5 653.1 L2823 651.5 L2823.5 651.5 L2824 651.5 L2824.5 651.5 L2825 651.5 L2825.5 651.5 L2826 651.5 L2826.5 651.6 L2827 651.6 L2827.5 651.6 L2828 651.6 L2828.5 651.6 L2829 651.6 L2829.5 648.8 L2830 648.8 L2830.5 648.8 L2831 648.8 L2831.5 648.8 L2832 648.8 L2832.5 648.8 L2833 648.8 L2833.5 648.9 L2834 648.9 L2834.5 648.9 L2835 648.9 L2835.5 648.9 L2836 643 L2836.5 643 L2837 643 L2837.5 643 L2838 643 L2838.5 643 L2839 643 L2839.5 643 L2840 643.1 L2840.5 643.1 L2841 643.1 L2841.5 643.1 L2842 643.1 L2842.5 629.7 L2843 629.7 L2843.5 629.7 L2844 629.7 L2844.5 629.7 L2845 629.7 L2845.5 629.7 L2846 629.7 L2846.5 629.8 L2847 629.8 L2847.5 629.8 L2848 629.8 L2848.5 619.5 L2849 617.5 L2849.5 615.4 L2850 613.2 L2850.5 606.8 L2851 594.8 L2851.5 582.8 L2852 570.7 L2852.5 558.7 L2853 546.7 L2853.5 534.6 L2854 522.6 L2854.5 510.6 L2855 498.5 L2855.5 486.5 L2856 498.5 L2856.5 510.6 L2857 522.6 L2857.5 534.6 L2858 546.7 L2858.5 558.7 L2859 570.7 L2859.5 582.8 L2860 594.8 L2860.5 606.8 L2861 613.2 L2861.5 615.4 L2862 617.5 L2862.5 619.5 L2863 629.8 L2863.5 629.8 L2864 629.8 L2864.5 629.7 L2865 629.7 L2865.5 629.7 L2866 629.7 L2866.5 629.7 L2867 629.7 L2867.5 629.7 L2868 629.7 L2868.5 629.7 L2869 643.1 L2869.5 643.1 L2870 643.1 L2870.5 643.1 L2871 643 L2871.5 643 L2872 643 L2872.5 643 L2873 643 L2873.5 643 L2874 643 L2874.5 643 L2875 643 L2875.5 648.9 L2876 648.9 L2876.5 648.9 L2877 648.9 L2877.5 648.7 L2878 648.7 L2878.5 648.7 L2879 648.8 L2879.5 648.8 L2880 648.8 L2880.5 648.8 L2881 648.9 L2881.5 648.9 L2882 651.8 L2882.5 651.9 L2883 651.9 L2883.5 652 L2884 651.8 L2884.5 651.9 L2885 651.9 L2885.5 652 L2886 652.1 L2886.5 652.1 L2887 652.2 L2887.5 652.2 L2888 652.3 L2888.5 653.9 L2889 653.9 L2889.5 654 L2890 654 L2890.5 653.8 L2891 653.8 L2891.5 653.9 L2892 653.9 L2892.5 654 L2893 654 L2893.5 654.1 L2894 654.1 L2894.5 654.2 L2895 654.2 L2895.5 655.2 L2896 655.3 L2896.5 655.3 L2897 655.4 L2897.5 654.9 L2898 655 L2898.5 655 L2899 655.1 L2899.5 655.2 L2900 655.2 L2900.5 655.3 L2901 655.3 L2901.5 655.4 L2902 656 L2902.5 656.1 L2903 656.1 L2903.5 656.2 L2904 655.4 L2904.5 655.4 L2905 655.5 L2905.5 655.5 L2906 655.6 L2906.5 655.7 L2907 655.7 L2907.5 655.8 L2908 655.8 L2908.5 656.3 L2909 656.3 L2909.5 656.4 L2910 656.4 L2910.5 654.9 L2911 655 L2911.5 655 L2912 655.1 L2912.5 655.2 L2913 655.2 L2913.5 655.3 L2914 655.3 L2914.5 655.4 L2915 655.7 L2915.5 655.8 L2916 655.8 L2916.5 655.9 L2917 652.8 L2917.5 652.8 L2918 652.9 L2918.5 653 L2919 653 L2919.5 653.1 L2920 653.1 L2920.5 653.2 L2921 653.2 L2921.5 653.5 L2922 653.5 L2922.5 653.6 L2923 653.6 L2923.5 646.5 L2924 646.6 L2924.5 646.6 L2925 646.7 L2925.5 646.7 L2926 646.8 L2926.5 646.8 L2927 646.9 L2927.5 646.9 L2928 647 L2928.5 647.2 L2929 647.3 L2929.5 647.3 L2930 641.3 L2930.5 640.2 L2931 639.1 L2931.5 637.8 L2932 630.4 L2932.5 623.1 L2933 615.7 L2933.5 608.4 L2934 601 L2934.5 593.7 L2935 586.3 L2935.5 579 L2936 571.6 L2936.5 564.2 L2937 565.7 L2937.5 573.1 L2938 580.4 L2938.5 587.8 L2939 595.1 L2939.5 602.5 L2940 609.9 L2940.5 617.2 L2941 624.6 L2941.5 631.9 L2942 639.3 L2942.5 640.7 L2943 641.9 L2943.5 643.1 L2944 649 L2944.5 649.1 L2945 649.1 L2945.5 649.2 L2946 649.2 L2946.5 649.3 L2947 649.3 L2947.5 649.4 L2948 649.5 L2948.5 649.6 L2949 649.6 L2949.5 649.7 L2950 656.9 L2950.5 656.9 L2951 657 L2951.5 657 L2952 657.1 L2952.5 657.1 L2953 657.2 L2953.5 657.2 L2954 657.3 L2954.5 657.4 L2955 657.4 L2955.5 657.5 L2956 657.5 L2956.5 660.7 L2957 660.8 L2957.5 660.8 L2958 660.9 L2958.5 660.9 L2959 661 L2959.5 661 L2960 661.1 L2960.5 661.1 L2961 661.2 L2961.5 661.3 L2962 661.3 L2962.5 661.4 L2963 661.4 L2963.5 663 L2964 663.1 L2964.5 663.1 L2965 663.2 L2965.5 663.2 L2966 663.3 L2966.5 663.3 L2967 663.4 L2967.5 663.4 L2968 663.5 L2968.5 663.6 L2969 663.6 L2969.5 663.7 L2970 664.5 L2970.5 664.6 L2971 664.6 L2971.5 664.7 L2972 664.8 L2972.5 664.8 L2973 664.9 L2973.5 664.9 L2974 665 L2974.5 665 L2975 665.1 L2975.5 665.1 L2976 665.2 L2976.5 665.8 L2977 665.8 L2977.5 665.9 L2978 665.9 L2978.5 666 L2979 666 L2979.5 666.1 L2980 666.1 L2980.5 666.2 L2981 666.2 L2981.5 666.3 L2982 666.3 L2982.5 666.4 L2983 666.8 L2983.5 666.8 L2984 666.9 L2984.5 666.9 L2985 667 L2985.5 667 L2986 667.1 L2986.5 667.1 L2987 667.2 L2987.5 667.3 L2988 667.3 L2988.5 667.4 L2989 667.4 L2989.5 667.7 L2990 667.7 L2990.5 667.8 L2991 667.8 L2991.5 667.9 L2992 667.9 L2992.5 668 L2993 668 L2993.5 668.1 L2994 668.1 L2994.5 668.2 L2995 668.3 L2995.5 668.3 L2996 668.4 L2996.5 668.6 L2997 668.6 L2997.5 668.7 L2998 668.7 L2998.5 668.8 L2999 668.8 L2999.5 668.9 L3000 668.9 L3000.5 669 L3001 669 L3001.5 669.1 L3002 669.1 L3002.5 669.2 L3003 669.4 L3003.5 669.4 L3004 669.5 L3004.5 669.5 L3005 669.6 L3005.5 669.6 L3006 669.7 L3006.5 669.7 L3007 669.8 L3007.5 669.8 L3008 669.9 L3008.5 669.9 L3009 670 L3009.5 670.1 L3009.5 679Z" fill="#4469b8"/>
<path d="M2456.5 679 V668M2463.1 679 V668M2469.7 679 V668M2476.3 679 V668M2482.9 679 V668M2489.5 679 V668M2496.1 679 V668M2502.7 679 V668M2509.3 679 V668M2515.9 679 V668M2522.5 679 V668M2529.1 679 V668M2535.7 679 V668M2542.3 679 V668M2548.9 679 V668M2555.5 679 V668M2562.1 679 V668M2568.7 679 V668M2575.3 679 V668M2581.9 679 V668M2588.5 679 V668M2595.1 679 V668M2601.7 679 V668M2608.3 679 V668M2614.9 679 V668M2621.5 679 V668M2628.1 679 V668M2634.7 679 V668M2641.3 679 V668M2647.9 679 V668M2654.5 679 V668M2661.1 679 V668M2667.7 679 V668M2674.3 679 V668M2680.9 679 V668M2687.5 679 V668M2694.1 679 V668M2700.7 679 V668M2707.3 679 V668M2713.9 679 V668M2720.5 679 V668M2727.1 679 V668M2733.7 679 V668M2740.3 679 V668M2746.9 679 V668M2753.5 679 V668M2760.1 679 V668M2766.7 679 V668M2773.3 679 V668M2779.9 679 V668M2786.5 679 V668M2793.1 679 V668M2799.7 679 V668M2806.3 679 V668M2812.9 679 V668M2819.5 679 V668M2826.1 679 V668M2832.7 679 V668M2839.3 679 V668M2845.9 679 V668M2852.5 679 V668M2859.1 679 V668M2865.7 679 V668M2872.3 679 V668M2878.9 679 V668M2885.5 679 V668M2892.1 679 V668M2898.7 679 V668M2905.3 679 V668M2911.9 679 V668M2918.5 679 V668M2925.1 679 V668M2931.7 679 V668M2938.3 679 V668M2944.9 679 V668M2951.5 679 V668M2958.1 679 V668M2964.7 679 V668M2971.3 679 V668M2977.9 679 V668M2984.5 679 V668M2991.1 679 V668M2997.7 679 V668M3004.3 679 V668" stroke="#eef1fa" stroke-width="2.6" fill="none" clip-path="url(#cla)"/>
<path d="M2456.5 668 V665.2M2463.1 668 V665.1M2469.7 668 V665M2476.3 668 V664.9M2482.9 668 V664.8M2489.5 668 V664.5M2496.1 668 V664.3M2502.7 668 V663.8M2509.3 668 V663.1M2515.9 668 V661.8M2522.5 668 V656.8M2529.1 668 V635.5M2535.7 668 V655.8M2542.3 668 V658.1M2548.9 668 V660.3M2555.5 668 V660.8M2562.1 668 V660.5M2568.7 668 V659.5M2575.3 668 V657.7M2581.9 668 V654.6M2588.5 668 V648.9M2595.1 668 V637.1M2601.7 668 V610.2M2608.3 668 V545.6M2614.9 668 V385.4M2621.5 668 V609.5M2628.1 668 V635.8M2634.7 668 V646.9M2641.3 668 V651.9M2647.9 668 V653.8M2654.5 668 V653.8M2661.1 668 V651.9M2667.7 668 V647.1M2674.3 668 V636.2M2680.9 668 V610.3M2687.5 668 V586.4M2694.1 668 V314.7M2700.7 668 V588.4M2707.3 668 V637.4M2713.9 668 V648.9M2720.5 668 V654.6M2727.1 668 V657.6M2733.7 668 V659.4M2740.3 668 V660.4M2746.9 668 V660.8M2753.5 668 V660.7M2760.1 668 V659.8M2766.7 668 V656.9M2773.3 668 V611M2779.9 668 V654M2786.5 668 V657.2M2793.1 668 V660.2M2799.7 668 V661.4M2806.3 668 V661.8M2812.9 668 V661.6M2819.5 668 V660.9M2826.1 668 V659.5M2832.7 668 V656.8M2839.3 668 V651M2845.9 668 V637.7M2852.5 668 V566.7M2859.1 668 V581.1M2865.7 668 V637.7M2872.3 668 V651M2878.9 668 V656.8M2885.5 668 V660M2892.1 668 V661.9M2898.7 668 V663.1M2905.3 668 V663.5M2911.9 668 V663.1M2918.5 668 V661M2925.1 668 V654.7M2931.7 668 V642.9M2938.3 668 V592.8M2944.9 668 V657.1M2951.5 668 V665M2958.1 668 V668M2964.7 668 V668M2971.3 668 V668M2977.9 668 V668M2984.5 668 V668M2991.1 668 V668M2997.7 668 V668M3004.3 668 V668" stroke="#9fb4e2" stroke-width="1.6" fill="none" opacity="0.55" clip-path="url(#cla)"/>
<path d="M2523.4 679 L2526.4 631.5 L2528.2 625.5 L2530.6 625.5 L2532.4 631.5 L2535.4 679Z" fill="#4a7bb2"/>
<path d="M2526.7 679 L2528.2 637.5 L2530.6 637.5 L2532.1 679Z" fill="#b4d6f2"/>
<path d="M2526.4 679 L2527.8 663 L2531 663 L2532.4 679Z" fill="#f3f0fc"/>
<path d="M2526.1 639.5 L2526.4 631.5 L2528.2 625.5 L2530.6 625.5 L2532.4 631.5 L2532.7 639.5Z" fill="#7472c0" opacity="0.85"/>
<path d="M2605.7 679 L2609.1 322 L2612.1 302 L2614.5 302 L2617.5 322 L2620.9 679Z" fill="#4a7bb2"/>
<path d="M2609.9 679 L2611.6 328 L2615 328 L2616.7 679Z" fill="#b4d6f2"/>
<path d="M2609.5 679 L2611.7 565.9 L2614.9 565.9 L2617.1 679Z" fill="#f3f0fc"/>
<path d="M2608.8 330 L2609.1 322 L2612.1 302 L2614.5 302 L2617.5 322 L2617.8 330Z" fill="#7472c0" opacity="0.85"/>
<path d="M2686.4 679 L2689.8 322 L2692.8 302 L2695.2 302 L2698.2 322 L2701.6 679Z" fill="#4a7bb2"/>
<path d="M2690.6 679 L2692.3 328 L2695.7 328 L2697.4 679Z" fill="#b4d6f2"/>
<path d="M2690.2 679 L2692.4 565.9 L2695.6 565.9 L2697.8 679Z" fill="#f3f0fc"/>
<path d="M2689.5 330 L2689.8 322 L2692.8 302 L2695.2 302 L2698.2 322 L2698.5 330Z" fill="#7472c0" opacity="0.85"/>
<path d="M2767.7 679 L2770.7 605 L2772.5 599 L2774.9 599 L2776.7 605 L2779.7 679Z" fill="#4a7bb2"/>
<path d="M2771 679 L2772.5 611 L2774.9 611 L2776.4 679Z" fill="#b4d6f2"/>
<path d="M2770.7 679 L2772.1 655 L2775.3 655 L2776.7 679Z" fill="#f3f0fc"/>
<path d="M2770.4 613 L2770.7 605 L2772.5 599 L2774.9 599 L2776.7 605 L2777 613Z" fill="#7472c0" opacity="0.85"/>
<path d="M2847.9 679 L2851.3 497.1 L2854.3 486.5 L2856.7 486.5 L2859.7 497.1 L2863.1 679Z" fill="#4a7bb2"/>
<path d="M2852.1 679 L2853.8 503.1 L2857.2 503.1 L2858.9 679Z" fill="#b4d6f2"/>
<path d="M2851.7 679 L2853.9 621.2 L2857.1 621.2 L2859.3 679Z" fill="#f3f0fc"/>
<path d="M2851 505.1 L2851.3 497.1 L2854.3 486.5 L2856.7 486.5 L2859.7 497.1 L2860 505.1Z" fill="#7472c0" opacity="0.85"/>
<path d="M2930.7 679 L2933.7 567.8 L2935.5 561.3 L2937.9 561.3 L2939.7 567.8 L2942.7 679Z" fill="#4a7bb2"/>
<path d="M2934 679 L2935.5 573.8 L2937.9 573.8 L2939.4 679Z" fill="#b4d6f2"/>
<path d="M2933.7 679 L2935.1 643.7 L2938.3 643.7 L2939.7 679Z" fill="#f3f0fc"/>
<path d="M2933.4 575.8 L2933.7 567.8 L2935.5 561.3 L2937.9 561.3 L2939.7 567.8 L2940 575.8Z" fill="#7472c0" opacity="0.85"/>
<line x1="2449" y1="681" x2="2449" y2="217" stroke="#141414" stroke-width="4.5" /><path d="M2449 195 L2459 225 L2449 221.4 L2439 225Z" fill="#141414"/><line x1="2447" y1="679" x2="3018" y2="679" stroke="#141414" stroke-width="4.5" /><path d="M3040 679 L3010 689 L3013.6 679 L3010 669Z" fill="#141414"/>
<text x="2318" y="231" font-size="54.5" text-anchor="start" fill="#141414" >幅度</text>
<text x="2954" y="741" font-size="54.5" text-anchor="start" fill="#141414" >频率</text>
<circle cx="2529.4" cy="639" r="63" fill="none" stroke="#d8214f" stroke-width="5.5" stroke-dasharray="21 17"/>
<circle cx="2858" cy="580" r="125.6" fill="none" stroke="#d8214f" stroke-width="5.5" stroke-dasharray="21 17"/>
<clipPath id="clb"><path d="M2453 1298 L2453 1271.6 L2453.5 1271.6 L2454 1271.6 L2454.5 1271.5 L2455 1271.5 L2455.5 1271.5 L2456 1271.5 L2456.5 1271.5 L2457 1271.5 L2457.5 1271.5 L2458 1271.5 L2458.5 1271.5 L2459 1271.5 L2459.5 1271.5 L2460 1271.5 L2460.5 1271.5 L2461 1271.5 L2461.5 1271.3 L2462 1271.3 L2462.5 1271.3 L2463 1271.3 L2463.5 1271.3 L2464 1271.2 L2464.5 1271.2 L2465 1271.2 L2465.5 1271.2 L2466 1271.2 L2466.5 1271.2 L2467 1271.2 L2467.5 1271.2 L2468 1271 L2468.5 1271 L2469 1271 L2469.5 1271 L2470 1271 L2470.5 1270.9 L2471 1270.9 L2471.5 1270.9 L2472 1270.9 L2472.5 1270.9 L2473 1270.9 L2473.5 1270.9 L2474 1270.9 L2474.5 1270.6 L2475 1270.6 L2475.5 1270.6 L2476 1270.6 L2476.5 1270.6 L2477 1270.5 L2477.5 1270.5 L2478 1270.5 L2478.5 1270.5 L2479 1270.5 L2479.5 1270.5 L2480 1270.5 L2480.5 1270.5 L2481 1270 L2481.5 1270 L2482 1270 L2482.5 1270 L2483 1270 L2483.5 1270 L2484 1270 L2484.5 1270 L2485 1270 L2485.5 1270 L2486 1270 L2486.5 1270 L2487 1270 L2487.5 1269.2 L2488 1269.2 L2488.5 1269.2 L2489 1269.2 L2489.5 1269.2 L2490 1269.2 L2490.5 1269.2 L2491 1269.2 L2491.5 1269.2 L2492 1269.2 L2492.5 1269.2 L2493 1269.2 L2493.5 1269.2 L2494 1269.2 L2494.5 1268.1 L2495 1268.1 L2495.5 1268.1 L2496 1268.1 L2496.5 1268.1 L2497 1268 L2497.5 1268 L2498 1268 L2498.5 1268 L2499 1268 L2499.5 1268 L2500 1268 L2500.5 1268 L2501 1266.1 L2501.5 1266.1 L2502 1266.1 L2502.5 1266.1 L2503 1266.1 L2503.5 1266 L2504 1266 L2504.5 1266 L2505 1266 L2505.5 1266 L2506 1266 L2506.5 1266 L2507 1266 L2507.5 1262.7 L2508 1262.7 L2508.5 1262.7 L2509 1262.7 L2509.5 1262.7 L2510 1262.6 L2510.5 1262.6 L2511 1262.6 L2511.5 1262.6 L2512 1262.6 L2512.5 1262.6 L2513 1262.6 L2513.5 1262.6 L2514 1255.7 L2514.5 1255.7 L2515 1255.7 L2515.5 1255.7 L2516 1255.7 L2516.5 1255.6 L2517 1255.6 L2517.5 1255.6 L2518 1255.6 L2518.5 1255.6 L2519 1255.6 L2519.5 1255.6 L2520 1255.6 L2520.5 1240 L2521 1240 L2521.5 1240 L2522 1240 L2522.5 1240 L2523 1240 L2523.5 1239.8 L2524 1239.8 L2524.5 1239.8 L2525 1239.8 L2525.5 1239.8 L2526 1239.8 L2526.5 1239.8 L2527 1226.4 L2527.5 1224 L2528 1221.5 L2528.5 1219 L2529 1216.5 L2529.5 1208 L2530 1196.1 L2530.5 1184.3 L2531 1172.5 L2531.5 1160.6 L2532 1148.8 L2532.5 1136.9 L2533 1125.1 L2533.5 1113.2 L2534 1115.6 L2534.5 1127.5 L2535 1139.3 L2535.5 1151.1 L2536 1163 L2536.5 1174.8 L2537 1186.7 L2537.5 1198.5 L2538 1210.4 L2538.5 1216.4 L2539 1219 L2539.5 1221.5 L2540 1224 L2540.5 1226.4 L2541 1239.3 L2541.5 1239.3 L2542 1239.3 L2542.5 1239.3 L2543 1238.9 L2543.5 1238.9 L2544 1238.9 L2544.5 1238.9 L2545 1238.9 L2545.5 1238.9 L2546 1238.9 L2546.5 1238.9 L2547 1254.5 L2547.5 1254.5 L2548 1254.5 L2548.5 1254.5 L2549 1254.5 L2549.5 1254.1 L2550 1254.1 L2550.5 1254.1 L2551 1254.1 L2551.5 1254.1 L2552 1254.1 L2552.5 1254.1 L2553 1254.1 L2553.5 1260.9 L2554 1260.9 L2554.5 1260.9 L2555 1260.9 L2555.5 1260.9 L2556 1260.9 L2556.5 1260.3 L2557 1260.3 L2557.5 1260.2 L2558 1260.2 L2558.5 1260.2 L2559 1260.2 L2559.5 1260.2 L2560 1260.2 L2560.5 1263.6 L2561 1263.6 L2561.5 1263.6 L2562 1263.6 L2562.5 1263.6 L2563 1262.8 L2563.5 1262.8 L2564 1262.8 L2564.5 1262.7 L2565 1262.7 L2565.5 1262.7 L2566 1262.7 L2566.5 1262.7 L2567 1264.5 L2567.5 1264.5 L2568 1264.5 L2568.5 1264.5 L2569 1264.5 L2569.5 1263.3 L2570 1263.3 L2570.5 1263.3 L2571 1263.2 L2571.5 1263.2 L2572 1263.2 L2572.5 1263.2 L2573 1263.2 L2573.5 1264.4 L2574 1264.4 L2574.5 1264.4 L2575 1264.4 L2575.5 1264.4 L2576 1262.5 L2576.5 1262.5 L2577 1262.5 L2577.5 1262.4 L2578 1262.4 L2578.5 1262.4 L2579 1262.4 L2579.5 1262.4 L2580 1263.1 L2580.5 1263.1 L2581 1263.1 L2581.5 1263.1 L2582 1263.1 L2582.5 1260 L2583 1260 L2583.5 1260 L2584 1259.9 L2584.5 1259.9 L2585 1259.9 L2585.5 1259.9 L2586 1259.9 L2586.5 1260.4 L2587 1260.4 L2587.5 1260.4 L2588 1260.4 L2588.5 1260.4 L2589 1260.4 L2589.5 1254.6 L2590 1254.6 L2590.5 1254.5 L2591 1254.5 L2591.5 1254.5 L2592 1254.5 L2592.5 1254.5 L2593 1254.5 L2593.5 1254.9 L2594 1254.9 L2594.5 1254.9 L2595 1254.9 L2595.5 1254.9 L2596 1243.2 L2596.5 1243.2 L2597 1243.2 L2597.5 1243 L2598 1243 L2598.5 1243 L2599 1243 L2599.5 1243 L2600 1243.3 L2600.5 1243.3 L2601 1243.3 L2601.5 1243.3 L2602 1243.3 L2602.5 1216.5 L2603 1216.5 L2603.5 1216.5 L2604 1216.3 L2604.5 1216.3 L2605 1216.3 L2605.5 1216.3 L2606 1216.3 L2606.5 1216.5 L2607 1216.5 L2607.5 1216.5 L2608 1216.5 L2608.5 1195.3 L2609 1191.1 L2609.5 1186.9 L2610 1176.5 L2610.5 1153.1 L2611 1129.7 L2611.5 1106.3 L2612 1083 L2612.5 1059.6 L2613 1036.2 L2613.5 1012.8 L2614 989.5 L2614.5 966.1 L2615 942.7 L2615.5 928.7 L2616 952 L2616.5 975.4 L2617 998.8 L2617.5 1022.2 L2618 1045.5 L2618.5 1068.9 L2619 1092.3 L2619.5 1115.7 L2620 1139 L2620.5 1162.4 L2621 1184.1 L2621.5 1188.4 L2622 1192.6 L2622.5 1216.4 L2623 1216.4 L2623.5 1216 L2624 1216 L2624.5 1216 L2625 1216 L2625.5 1216 L2626 1216 L2626.5 1216.1 L2627 1216.1 L2627.5 1216.1 L2628 1216.1 L2628.5 1216.1 L2629 1242.9 L2629.5 1242.9 L2630 1242.9 L2630.5 1242.5 L2631 1242.5 L2631.5 1242.5 L2632 1242.5 L2632.5 1242.5 L2633 1242.6 L2633.5 1242.6 L2634 1242.6 L2634.5 1242.6 L2635 1242.6 L2635.5 1254.3 L2636 1254.3 L2636.5 1254.3 L2637 1253.7 L2637.5 1253.7 L2638 1253.7 L2638.5 1253.7 L2639 1253.7 L2639.5 1253.7 L2640 1253.7 L2640.5 1253.7 L2641 1253.7 L2641.5 1253.7 L2642 1259.5 L2642.5 1259.5 L2643 1259.5 L2643.5 1258.7 L2644 1258.7 L2644.5 1258.7 L2645 1258.7 L2645.5 1258.7 L2646 1258.7 L2646.5 1258.7 L2647 1258.7 L2647.5 1258.7 L2648 1258.7 L2648.5 1261.9 L2649 1261.9 L2649.5 1261.9 L2650 1260.7 L2650.5 1260.7 L2651 1260.7 L2651.5 1260.7 L2652 1260.7 L2652.5 1260.7 L2653 1260.7 L2653.5 1260.7 L2654 1260.7 L2654.5 1260.7 L2655 1260.7 L2655.5 1262.6 L2656 1262.6 L2656.5 1260.7 L2657 1260.7 L2657.5 1260.7 L2658 1260.7 L2658.5 1260.7 L2659 1260.7 L2659.5 1260.8 L2660 1260.8 L2660.5 1260.8 L2661 1260.8 L2661.5 1260.8 L2662 1262 L2662.5 1262 L2663 1262 L2663.5 1258.9 L2664 1258.9 L2664.5 1258.9 L2665 1258.9 L2665.5 1258.9 L2666 1258.9 L2666.5 1258.9 L2667 1258.9 L2667.5 1258.9 L2668 1258.9 L2668.5 1259.8 L2669 1259.8 L2669.5 1259.8 L2670 1254.1 L2670.5 1254.1 L2671 1254.1 L2671.5 1254.1 L2672 1254.1 L2672.5 1254.2 L2673 1254.2 L2673.5 1254.2 L2674 1254.2 L2674.5 1254.2 L2675 1254.7 L2675.5 1254.7 L2676 1254.7 L2676.5 1243.2 L2677 1243.2 L2677.5 1243.2 L2678 1243.2 L2678.5 1243.2 L2679 1243.3 L2679.5 1243.3 L2680 1243.3 L2680.5 1243.3 L2681 1243.3 L2681.5 1243.7 L2682 1243.7 L2682.5 1243.7 L2683 1217.4 L2683.5 1217.4 L2684 1217.4 L2684.5 1217.4 L2685 1217.4 L2685.5 1217.4 L2686 1217.4 L2686.5 1217.4 L2687 1217.4 L2687.5 1217.4 L2688 1217.4 L2688.5 1217.7 L2689 1197.6 L2689.5 1193.6 L2690 1189.4 L2690.5 1181.1 L2691 1157.8 L2691.5 1134.4 L2692 1111 L2692.5 1087.6 L2693 1064.2 L2693.5 1040.9 L2694 1017.5 L2694.5 994.1 L2695 970.8 L2695.5 947.4 L2696 924 L2696.5 947.4 L2697 970.8 L2697.5 994.1 L2698 1017.5 L2698.5 1040.9 L2699 1064.2 L2699.5 1087.6 L2700 1111 L2700.5 1134.4 L2701 1157.8 L2701.5 1181.1 L2702 1189.9 L2702.5 1194 L2703 1198.1 L2703.5 1218.2 L2704 1218.2 L2704.5 1218.2 L2705 1218.2 L2705.5 1218.2 L2706 1218.2 L2706.5 1218.2 L2707 1218.2 L2707.5 1218.2 L2708 1218.4 L2708.5 1218.4 L2709 1218.4 L2709.5 1244.7 L2710 1244.7 L2710.5 1244.7 L2711 1244.7 L2711.5 1244.7 L2712 1244.7 L2712.5 1244.7 L2713 1244.7 L2713.5 1244.7 L2714 1244.7 L2714.5 1244.8 L2715 1244.8 L2715.5 1244.8 L2716 1256.4 L2716.5 1256.4 L2717 1256.4 L2717.5 1256.4 L2718 1256.4 L2718.5 1256.4 L2719 1256.4 L2719.5 1256.4 L2720 1256.4 L2720.5 1256.4 L2721 1256.4 L2721.5 1256.5 L2722 1256.5 L2722.5 1262.1 L2723 1262.1 L2723.5 1262.1 L2724 1262.1 L2724.5 1262.1 L2725 1262.1 L2725.5 1262.1 L2726 1262.1 L2726.5 1262.1 L2727 1262.1 L2727.5 1262.1 L2728 1262.2 L2728.5 1262.2 L2729 1265.3 L2729.5 1265.3 L2730 1265.3 L2730.5 1265.3 L2731 1265.3 L2731.5 1265.3 L2732 1265.3 L2732.5 1265.3 L2733 1265.3 L2733.5 1265.3 L2734 1265.3 L2734.5 1265.4 L2735 1265.4 L2735.5 1265.5 L2736 1267.4 L2736.5 1267.5 L2737 1267.6 L2737.5 1267.7 L2738 1267.8 L2738.5 1267.9 L2739 1268 L2739.5 1268.1 L2740 1268.2 L2740.5 1268.2 L2741 1268.4 L2741.5 1268.5 L2742 1268.6 L2742.5 1269.9 L2743 1270 L2743.5 1270.1 L2744 1270.1 L2744.5 1270.2 L2745 1270.3 L2745.5 1270.4 L2746 1270.5 L2746.5 1270.6 L2747 1270.7 L2747.5 1270.8 L2748 1270.9 L2748.5 1271 L2749 1271.9 L2749.5 1272 L2750 1272.1 L2750.5 1272.2 L2751 1272.3 L2751.5 1272.4 L2752 1272.5 L2752.5 1272.6 L2753 1272.7 L2753.5 1272.8 L2754 1272.8 L2754.5 1273 L2755 1273.1 L2755.5 1273.7 L2756 1273.8 L2756.5 1273.9 L2757 1274 L2757.5 1274.1 L2758 1274.2 L2758.5 1274.3 L2759 1274.4 L2759.5 1274.5 L2760 1274.6 L2760.5 1274.7 L2761 1274.8 L2761.5 1274.9 L2762 1275.4 L2762.5 1275.5 L2763 1275.6 L2763.5 1275.7 L2764 1275.8 L2764.5 1275.9 L2765 1276 L2765.5 1276 L2766 1276.1 L2766.5 1276.2 L2767 1276.3 L2767.5 1276.4 L2768 1276.5 L2768.5 1276.6 L2769 1277 L2769.5 1277.1 L2770 1277.2 L2770.5 1277.3 L2771 1277.4 L2771.5 1277.5 L2772 1277.6 L2772.5 1277.7 L2773 1277.8 L2773.5 1277.9 L2774 1278 L2774.5 1278.1 L2775 1278.2 L2775.5 1278.5 L2776 1278.6 L2776.5 1278.7 L2777 1278.8 L2777.5 1278.9 L2778 1279 L2778.5 1279.1 L2779 1279.1 L2779.5 1279.2 L2780 1279.3 L2780.5 1279.5 L2781 1279.5 L2781.5 1279.6 L2782 1279.9 L2782.5 1280 L2783 1280.1 L2783.5 1280.2 L2784 1280.3 L2784.5 1280.4 L2785 1280.5 L2785.5 1280.6 L2786 1280.7 L2786.5 1280.7 L2787 1280.8 L2787.5 1280.9 L2788 1281 L2788.5 1281.3 L2789 1281.4 L2789.5 1281.5 L2790 1281.6 L2790.5 1281.6 L2791 1281.6 L2791.5 1281.6 L2792 1281.7 L2792.5 1281.7 L2793 1281.7 L2793.5 1281.7 L2794 1281.8 L2794.5 1281.8 L2795 1281.9 L2795.5 1282 L2796 1282 L2796.5 1282 L2797 1282 L2797.5 1282 L2798 1282.1 L2798.5 1282.1 L2799 1282.1 L2799.5 1282.1 L2800 1282.1 L2800.5 1282.2 L2801 1282.2 L2801.5 1282.2 L2802 1282.4 L2802.5 1282.4 L2803 1282.4 L2803.5 1282.4 L2804 1282.4 L2804.5 1282.5 L2805 1282.5 L2805.5 1282.5 L2806 1282.5 L2806.5 1282.6 L2807 1282.6 L2807.5 1282.6 L2808 1282.6 L2808.5 1282.7 L2809 1282.8 L2809.5 1282.8 L2810 1282.8 L2810.5 1282.8 L2811 1282.9 L2811.5 1282.9 L2812 1282.9 L2812.5 1282.9 L2813 1282.9 L2813.5 1283 L2814 1283 L2814.5 1283 L2815 1283.1 L2815.5 1283.1 L2816 1283.2 L2816.5 1283.2 L2817 1283.2 L2817.5 1283.2 L2818 1283.3 L2818.5 1283.3 L2819 1283.3 L2819.5 1283.3 L2820 1283.3 L2820.5 1283.4 L2821 1283.4 L2821.5 1283.5 L2822 1283.5 L2822.5 1283.5 L2823 1283.5 L2823.5 1283.6 L2824 1283.6 L2824.5 1283.6 L2825 1283.6 L2825.5 1283.7 L2826 1283.7 L2826.5 1283.7 L2827 1283.7 L2827.5 1283.8 L2828 1283.8 L2828.5 1283.9 L2829 1283.9 L2829.5 1283.9 L2830 1283.9 L2830.5 1283.9 L2831 1284 L2831.5 1284 L2832 1284 L2832.5 1284 L2833 1284 L2833.5 1284.1 L2834 1284.1 L2834.5 1284.1 L2835 1284.2 L2835.5 1284.2 L2836 1284.2 L2836.5 1284.3 L2837 1284.3 L2837.5 1284.3 L2838 1284.3 L2838.5 1284.3 L2839 1284.4 L2839.5 1284.4 L2840 1284.4 L2840.5 1284.4 L2841 1284.5 L2841.5 1284.5 L2842 1284.5 L2842.5 1284.6 L2843 1284.6 L2843.5 1284.6 L2844 1284.6 L2844.5 1284.7 L2845 1284.7 L2845.5 1284.7 L2846 1284.7 L2846.5 1284.8 L2847 1284.8 L2847.5 1284.8 L2848 1284.9 L2848.5 1284.9 L2849 1284.9 L2849.5 1284.9 L2850 1284.9 L2850.5 1285 L2851 1285 L2851.5 1285 L2852 1285 L2852.5 1285.1 L2853 1285.1 L2853.5 1285.1 L2854 1285.1 L2854.5 1285.2 L2855 1285.2 L2855.5 1285.2 L2856 1285.2 L2856.5 1285.3 L2857 1285.3 L2857.5 1285.3 L2858 1285.3 L2858.5 1285.4 L2859 1285.4 L2859.5 1285.4 L2860 1285.4 L2860.5 1285.4 L2861 1285.5 L2861.5 1285.5 L2862 1285.5 L2862.5 1285.6 L2863 1285.6 L2863.5 1285.6 L2864 1285.6 L2864.5 1285.6 L2865 1285.7 L2865.5 1285.7 L2866 1285.7 L2866.5 1285.7 L2867 1285.8 L2867.5 1285.8 L2868 1285.8 L2868.5 1285.9 L2869 1285.9 L2869.5 1285.9 L2870 1285.9 L2870.5 1285.9 L2871 1286 L2871.5 1286 L2872 1286 L2872.5 1286 L2873 1286.1 L2873.5 1286.1 L2874 1286.1 L2874.5 1286.1 L2875 1286.2 L2875.5 1286.2 L2876 1286.2 L2876.5 1286.2 L2877 1286.2 L2877.5 1286.3 L2878 1286.3 L2878.5 1286.3 L2879 1286.3 L2879.5 1286.4 L2880 1286.4 L2880.5 1286.4 L2881 1286.4 L2881.5 1286.5 L2882 1286.5 L2882.5 1286.5 L2883 1286.5 L2883.5 1286.6 L2884 1286.6 L2884.5 1286.6 L2885 1286.6 L2885.5 1286.6 L2886 1286.7 L2886.5 1286.7 L2887 1286.7 L2887.5 1286.8 L2888 1286.8 L2888.5 1286.8 L2889 1286.8 L2889.5 1286.8 L2890 1286.9 L2890.5 1286.9 L2891 1286.9 L2891.5 1286.9 L2892 1286.9 L2892.5 1287 L2893 1287 L2893.5 1287 L2894 1287.1 L2894.5 1287.1 L2895 1287.1 L2895.5 1287.1 L2896 1287.1 L2896.5 1287.2 L2897 1287.2 L2897.5 1287.2 L2898 1287.2 L2898.5 1287.2 L2899 1287.3 L2899.5 1287.3 L2900 1287.3 L2900.5 1287.3 L2901 1287.4 L2901.5 1287.4 L2902 1287.4 L2902.5 1287.4 L2903 1287.5 L2903.5 1287.5 L2904 1287.5 L2904.5 1287.5 L2905 1287.5 L2905.5 1287.6 L2906 1287.6 L2906.5 1287.6 L2907 1287.6 L2907.5 1287.7 L2908 1287.7 L2908.5 1287.7 L2909 1287.7 L2909.5 1287.8 L2910 1287.8 L2910.5 1287.8 L2911 1287.8 L2911.5 1287.8 L2912 1287.9 L2912.5 1287.9 L2913 1287.9 L2913.5 1287.9 L2914 1288 L2914.5 1288 L2915 1288 L2915.5 1288 L2916 1288.1 L2916.5 1288.1 L2917 1288.1 L2917.5 1288.1 L2918 1288.1 L2918.5 1288.2 L2919 1288.2 L2919.5 1288.2 L2920 1288.2 L2920.5 1288.3 L2921 1288.3 L2921.5 1288.3 L2922 1288.3 L2922.5 1288.4 L2923 1288.4 L2923.5 1288.4 L2924 1288.4 L2924.5 1288.4 L2925 1288.5 L2925.5 1288.5 L2926 1288.5 L2926.5 1288.5 L2927 1288.6 L2927.5 1288.6 L2928 1288.6 L2928.5 1288.6 L2929 1288.6 L2929.5 1288.7 L2930 1288.7 L2930.5 1288.7 L2931 1288.7 L2931.5 1288.8 L2932 1288.8 L2932.5 1288.8 L2933 1288.8 L2933.5 1288.8 L2934 1288.9 L2934.5 1288.9 L2935 1288.9 L2935.5 1288.9 L2936 1289 L2936.5 1289 L2937 1289 L2937.5 1289 L2938 1289 L2938.5 1289.1 L2939 1289.1 L2939.5 1289.1 L2940 1289.1 L2940.5 1289.2 L2941 1289.2 L2941.5 1289.2 L2942 1289.2 L2942.5 1289.3 L2943 1289.3 L2943.5 1289.3 L2944 1289.3 L2944.5 1289.3 L2945 1289.4 L2945.5 1289.4 L2946 1289.4 L2946.5 1289.4 L2947 1289.5 L2947.5 1289.5 L2948 1289.5 L2948.5 1289.5 L2949 1289.5 L2949.5 1289.6 L2950 1289.6 L2950.5 1289.6 L2951 1289.6 L2951.5 1289.7 L2952 1289.7 L2952.5 1289.7 L2953 1289.7 L2953.5 1289.8 L2954 1289.8 L2954.5 1289.8 L2955 1289.8 L2955.5 1289.8 L2956 1289.9 L2956.5 1289.9 L2957 1289.9 L2957.5 1289.9 L2958 1289.9 L2958.5 1290 L2959 1290 L2959.5 1290 L2960 1290 L2960.5 1290.1 L2961 1290.1 L2961.5 1290.1 L2962 1290.1 L2962.5 1290.1 L2963 1290.2 L2963.5 1290.2 L2964 1290.2 L2964.5 1290.2 L2965 1290.3 L2965.5 1290.3 L2966 1290.3 L2966.5 1290.3 L2967 1290.4 L2967.5 1290.4 L2968 1290.4 L2968.5 1290.4 L2969 1290.4 L2969.5 1290.5 L2970 1290.5 L2970.5 1290.5 L2971 1290.5 L2971.5 1290.5 L2972 1290.6 L2972.5 1290.6 L2973 1290.6 L2973.5 1290.6 L2974 1290.7 L2974.5 1290.7 L2975 1290.7 L2975.5 1290.7 L2976 1290.7 L2976.5 1290.8 L2977 1290.8 L2977.5 1290.8 L2978 1290.8 L2978.5 1290.9 L2979 1290.9 L2979.5 1290.9 L2980 1290.9 L2980.5 1290.9 L2981 1291 L2981.5 1291 L2982 1291 L2982.5 1291 L2983 1291.1 L2983.5 1291.1 L2984 1291.1 L2984.5 1291.1 L2985 1291.1 L2985.5 1291.2 L2986 1291.2 L2986.5 1291.2 L2987 1291.2 L2987.5 1291.3 L2988 1291.3 L2988.5 1291.3 L2989 1291.3 L2989.5 1291.3 L2990 1291.4 L2990.5 1291.4 L2991 1291.4 L2991.5 1291.4 L2992 1291.5 L2992.5 1291.5 L2993 1291.5 L2993.5 1291.5 L2994 1291.5 L2994.5 1291.6 L2995 1291.6 L2995.5 1291.6 L2996 1291.6 L2996.5 1291.7 L2997 1291.7 L2997.5 1291.7 L2998 1291.7 L2998.5 1291.7 L2999 1291.8 L2999.5 1291.8 L3000 1291.8 L3000.5 1291.8 L3001 1291.8 L3001.5 1291.8 L3002 1291.8 L3002.5 1291.8 L3003 1291.8 L3003.5 1291.8 L3004 1291.8 L3004.5 1291.8 L3005 1291.8 L3005.5 1291.8 L3006 1291.8 L3006.5 1291.8 L3007 1291.8 L3007.5 1291.8 L3008 1291.8 L3008.5 1291.8 L3009 1291.8 L3009.5 1291.8 L3010 1291.8 L3010.5 1291.8 L3011 1291.8 L3011.5 1291.8 L3011.5 1298Z"/></clipPath>
<path d="M2453 1298 L2453 1271.6 L2453.5 1271.6 L2454 1271.6 L2454.5 1271.5 L2455 1271.5 L2455.5 1271.5 L2456 1271.5 L2456.5 1271.5 L2457 1271.5 L2457.5 1271.5 L2458 1271.5 L2458.5 1271.5 L2459 1271.5 L2459.5 1271.5 L2460 1271.5 L2460.5 1271.5 L2461 1271.5 L2461.5 1271.3 L2462 1271.3 L2462.5 1271.3 L2463 1271.3 L2463.5 1271.3 L2464 1271.2 L2464.5 1271.2 L2465 1271.2 L2465.5 1271.2 L2466 1271.2 L2466.5 1271.2 L2467 1271.2 L2467.5 1271.2 L2468 1271 L2468.5 1271 L2469 1271 L2469.5 1271 L2470 1271 L2470.5 1270.9 L2471 1270.9 L2471.5 1270.9 L2472 1270.9 L2472.5 1270.9 L2473 1270.9 L2473.5 1270.9 L2474 1270.9 L2474.5 1270.6 L2475 1270.6 L2475.5 1270.6 L2476 1270.6 L2476.5 1270.6 L2477 1270.5 L2477.5 1270.5 L2478 1270.5 L2478.5 1270.5 L2479 1270.5 L2479.5 1270.5 L2480 1270.5 L2480.5 1270.5 L2481 1270 L2481.5 1270 L2482 1270 L2482.5 1270 L2483 1270 L2483.5 1270 L2484 1270 L2484.5 1270 L2485 1270 L2485.5 1270 L2486 1270 L2486.5 1270 L2487 1270 L2487.5 1269.2 L2488 1269.2 L2488.5 1269.2 L2489 1269.2 L2489.5 1269.2 L2490 1269.2 L2490.5 1269.2 L2491 1269.2 L2491.5 1269.2 L2492 1269.2 L2492.5 1269.2 L2493 1269.2 L2493.5 1269.2 L2494 1269.2 L2494.5 1268.1 L2495 1268.1 L2495.5 1268.1 L2496 1268.1 L2496.5 1268.1 L2497 1268 L2497.5 1268 L2498 1268 L2498.5 1268 L2499 1268 L2499.5 1268 L2500 1268 L2500.5 1268 L2501 1266.1 L2501.5 1266.1 L2502 1266.1 L2502.5 1266.1 L2503 1266.1 L2503.5 1266 L2504 1266 L2504.5 1266 L2505 1266 L2505.5 1266 L2506 1266 L2506.5 1266 L2507 1266 L2507.5 1262.7 L2508 1262.7 L2508.5 1262.7 L2509 1262.7 L2509.5 1262.7 L2510 1262.6 L2510.5 1262.6 L2511 1262.6 L2511.5 1262.6 L2512 1262.6 L2512.5 1262.6 L2513 1262.6 L2513.5 1262.6 L2514 1255.7 L2514.5 1255.7 L2515 1255.7 L2515.5 1255.7 L2516 1255.7 L2516.5 1255.6 L2517 1255.6 L2517.5 1255.6 L2518 1255.6 L2518.5 1255.6 L2519 1255.6 L2519.5 1255.6 L2520 1255.6 L2520.5 1240 L2521 1240 L2521.5 1240 L2522 1240 L2522.5 1240 L2523 1240 L2523.5 1239.8 L2524 1239.8 L2524.5 1239.8 L2525 1239.8 L2525.5 1239.8 L2526 1239.8 L2526.5 1239.8 L2527 1226.4 L2527.5 1224 L2528 1221.5 L2528.5 1219 L2529 1216.5 L2529.5 1208 L2530 1196.1 L2530.5 1184.3 L2531 1172.5 L2531.5 1160.6 L2532 1148.8 L2532.5 1136.9 L2533 1125.1 L2533.5 1113.2 L2534 1115.6 L2534.5 1127.5 L2535 1139.3 L2535.5 1151.1 L2536 1163 L2536.5 1174.8 L2537 1186.7 L2537.5 1198.5 L2538 1210.4 L2538.5 1216.4 L2539 1219 L2539.5 1221.5 L2540 1224 L2540.5 1226.4 L2541 1239.3 L2541.5 1239.3 L2542 1239.3 L2542.5 1239.3 L2543 1238.9 L2543.5 1238.9 L2544 1238.9 L2544.5 1238.9 L2545 1238.9 L2545.5 1238.9 L2546 1238.9 L2546.5 1238.9 L2547 1254.5 L2547.5 1254.5 L2548 1254.5 L2548.5 1254.5 L2549 1254.5 L2549.5 1254.1 L2550 1254.1 L2550.5 1254.1 L2551 1254.1 L2551.5 1254.1 L2552 1254.1 L2552.5 1254.1 L2553 1254.1 L2553.5 1260.9 L2554 1260.9 L2554.5 1260.9 L2555 1260.9 L2555.5 1260.9 L2556 1260.9 L2556.5 1260.3 L2557 1260.3 L2557.5 1260.2 L2558 1260.2 L2558.5 1260.2 L2559 1260.2 L2559.5 1260.2 L2560 1260.2 L2560.5 1263.6 L2561 1263.6 L2561.5 1263.6 L2562 1263.6 L2562.5 1263.6 L2563 1262.8 L2563.5 1262.8 L2564 1262.8 L2564.5 1262.7 L2565 1262.7 L2565.5 1262.7 L2566 1262.7 L2566.5 1262.7 L2567 1264.5 L2567.5 1264.5 L2568 1264.5 L2568.5 1264.5 L2569 1264.5 L2569.5 1263.3 L2570 1263.3 L2570.5 1263.3 L2571 1263.2 L2571.5 1263.2 L2572 1263.2 L2572.5 1263.2 L2573 1263.2 L2573.5 1264.4 L2574 1264.4 L2574.5 1264.4 L2575 1264.4 L2575.5 1264.4 L2576 1262.5 L2576.5 1262.5 L2577 1262.5 L2577.5 1262.4 L2578 1262.4 L2578.5 1262.4 L2579 1262.4 L2579.5 1262.4 L2580 1263.1 L2580.5 1263.1 L2581 1263.1 L2581.5 1263.1 L2582 1263.1 L2582.5 1260 L2583 1260 L2583.5 1260 L2584 1259.9 L2584.5 1259.9 L2585 1259.9 L2585.5 1259.9 L2586 1259.9 L2586.5 1260.4 L2587 1260.4 L2587.5 1260.4 L2588 1260.4 L2588.5 1260.4 L2589 1260.4 L2589.5 1254.6 L2590 1254.6 L2590.5 1254.5 L2591 1254.5 L2591.5 1254.5 L2592 1254.5 L2592.5 1254.5 L2593 1254.5 L2593.5 1254.9 L2594 1254.9 L2594.5 1254.9 L2595 1254.9 L2595.5 1254.9 L2596 1243.2 L2596.5 1243.2 L2597 1243.2 L2597.5 1243 L2598 1243 L2598.5 1243 L2599 1243 L2599.5 1243 L2600 1243.3 L2600.5 1243.3 L2601 1243.3 L2601.5 1243.3 L2602 1243.3 L2602.5 1216.5 L2603 1216.5 L2603.5 1216.5 L2604 1216.3 L2604.5 1216.3 L2605 1216.3 L2605.5 1216.3 L2606 1216.3 L2606.5 1216.5 L2607 1216.5 L2607.5 1216.5 L2608 1216.5 L2608.5 1195.3 L2609 1191.1 L2609.5 1186.9 L2610 1176.5 L2610.5 1153.1 L2611 1129.7 L2611.5 1106.3 L2612 1083 L2612.5 1059.6 L2613 1036.2 L2613.5 1012.8 L2614 989.5 L2614.5 966.1 L2615 942.7 L2615.5 928.7 L2616 952 L2616.5 975.4 L2617 998.8 L2617.5 1022.2 L2618 1045.5 L2618.5 1068.9 L2619 1092.3 L2619.5 1115.7 L2620 1139 L2620.5 1162.4 L2621 1184.1 L2621.5 1188.4 L2622 1192.6 L2622.5 1216.4 L2623 1216.4 L2623.5 1216 L2624 1216 L2624.5 1216 L2625 1216 L2625.5 1216 L2626 1216 L2626.5 1216.1 L2627 1216.1 L2627.5 1216.1 L2628 1216.1 L2628.5 1216.1 L2629 1242.9 L2629.5 1242.9 L2630 1242.9 L2630.5 1242.5 L2631 1242.5 L2631.5 1242.5 L2632 1242.5 L2632.5 1242.5 L2633 1242.6 L2633.5 1242.6 L2634 1242.6 L2634.5 1242.6 L2635 1242.6 L2635.5 1254.3 L2636 1254.3 L2636.5 1254.3 L2637 1253.7 L2637.5 1253.7 L2638 1253.7 L2638.5 1253.7 L2639 1253.7 L2639.5 1253.7 L2640 1253.7 L2640.5 1253.7 L2641 1253.7 L2641.5 1253.7 L2642 1259.5 L2642.5 1259.5 L2643 1259.5 L2643.5 1258.7 L2644 1258.7 L2644.5 1258.7 L2645 1258.7 L2645.5 1258.7 L2646 1258.7 L2646.5 1258.7 L2647 1258.7 L2647.5 1258.7 L2648 1258.7 L2648.5 1261.9 L2649 1261.9 L2649.5 1261.9 L2650 1260.7 L2650.5 1260.7 L2651 1260.7 L2651.5 1260.7 L2652 1260.7 L2652.5 1260.7 L2653 1260.7 L2653.5 1260.7 L2654 1260.7 L2654.5 1260.7 L2655 1260.7 L2655.5 1262.6 L2656 1262.6 L2656.5 1260.7 L2657 1260.7 L2657.5 1260.7 L2658 1260.7 L2658.5 1260.7 L2659 1260.7 L2659.5 1260.8 L2660 1260.8 L2660.5 1260.8 L2661 1260.8 L2661.5 1260.8 L2662 1262 L2662.5 1262 L2663 1262 L2663.5 1258.9 L2664 1258.9 L2664.5 1258.9 L2665 1258.9 L2665.5 1258.9 L2666 1258.9 L2666.5 1258.9 L2667 1258.9 L2667.5 1258.9 L2668 1258.9 L2668.5 1259.8 L2669 1259.8 L2669.5 1259.8 L2670 1254.1 L2670.5 1254.1 L2671 1254.1 L2671.5 1254.1 L2672 1254.1 L2672.5 1254.2 L2673 1254.2 L2673.5 1254.2 L2674 1254.2 L2674.5 1254.2 L2675 1254.7 L2675.5 1254.7 L2676 1254.7 L2676.5 1243.2 L2677 1243.2 L2677.5 1243.2 L2678 1243.2 L2678.5 1243.2 L2679 1243.3 L2679.5 1243.3 L2680 1243.3 L2680.5 1243.3 L2681 1243.3 L2681.5 1243.7 L2682 1243.7 L2682.5 1243.7 L2683 1217.4 L2683.5 1217.4 L2684 1217.4 L2684.5 1217.4 L2685 1217.4 L2685.5 1217.4 L2686 1217.4 L2686.5 1217.4 L2687 1217.4 L2687.5 1217.4 L2688 1217.4 L2688.5 1217.7 L2689 1197.6 L2689.5 1193.6 L2690 1189.4 L2690.5 1181.1 L2691 1157.8 L2691.5 1134.4 L2692 1111 L2692.5 1087.6 L2693 1064.2 L2693.5 1040.9 L2694 1017.5 L2694.5 994.1 L2695 970.8 L2695.5 947.4 L2696 924 L2696.5 947.4 L2697 970.8 L2697.5 994.1 L2698 1017.5 L2698.5 1040.9 L2699 1064.2 L2699.5 1087.6 L2700 1111 L2700.5 1134.4 L2701 1157.8 L2701.5 1181.1 L2702 1189.9 L2702.5 1194 L2703 1198.1 L2703.5 1218.2 L2704 1218.2 L2704.5 1218.2 L2705 1218.2 L2705.5 1218.2 L2706 1218.2 L2706.5 1218.2 L2707 1218.2 L2707.5 1218.2 L2708 1218.4 L2708.5 1218.4 L2709 1218.4 L2709.5 1244.7 L2710 1244.7 L2710.5 1244.7 L2711 1244.7 L2711.5 1244.7 L2712 1244.7 L2712.5 1244.7 L2713 1244.7 L2713.5 1244.7 L2714 1244.7 L2714.5 1244.8 L2715 1244.8 L2715.5 1244.8 L2716 1256.4 L2716.5 1256.4 L2717 1256.4 L2717.5 1256.4 L2718 1256.4 L2718.5 1256.4 L2719 1256.4 L2719.5 1256.4 L2720 1256.4 L2720.5 1256.4 L2721 1256.4 L2721.5 1256.5 L2722 1256.5 L2722.5 1262.1 L2723 1262.1 L2723.5 1262.1 L2724 1262.1 L2724.5 1262.1 L2725 1262.1 L2725.5 1262.1 L2726 1262.1 L2726.5 1262.1 L2727 1262.1 L2727.5 1262.1 L2728 1262.2 L2728.5 1262.2 L2729 1265.3 L2729.5 1265.3 L2730 1265.3 L2730.5 1265.3 L2731 1265.3 L2731.5 1265.3 L2732 1265.3 L2732.5 1265.3 L2733 1265.3 L2733.5 1265.3 L2734 1265.3 L2734.5 1265.4 L2735 1265.4 L2735.5 1265.5 L2736 1267.4 L2736.5 1267.5 L2737 1267.6 L2737.5 1267.7 L2738 1267.8 L2738.5 1267.9 L2739 1268 L2739.5 1268.1 L2740 1268.2 L2740.5 1268.2 L2741 1268.4 L2741.5 1268.5 L2742 1268.6 L2742.5 1269.9 L2743 1270 L2743.5 1270.1 L2744 1270.1 L2744.5 1270.2 L2745 1270.3 L2745.5 1270.4 L2746 1270.5 L2746.5 1270.6 L2747 1270.7 L2747.5 1270.8 L2748 1270.9 L2748.5 1271 L2749 1271.9 L2749.5 1272 L2750 1272.1 L2750.5 1272.2 L2751 1272.3 L2751.5 1272.4 L2752 1272.5 L2752.5 1272.6 L2753 1272.7 L2753.5 1272.8 L2754 1272.8 L2754.5 1273 L2755 1273.1 L2755.5 1273.7 L2756 1273.8 L2756.5 1273.9 L2757 1274 L2757.5 1274.1 L2758 1274.2 L2758.5 1274.3 L2759 1274.4 L2759.5 1274.5 L2760 1274.6 L2760.5 1274.7 L2761 1274.8 L2761.5 1274.9 L2762 1275.4 L2762.5 1275.5 L2763 1275.6 L2763.5 1275.7 L2764 1275.8 L2764.5 1275.9 L2765 1276 L2765.5 1276 L2766 1276.1 L2766.5 1276.2 L2767 1276.3 L2767.5 1276.4 L2768 1276.5 L2768.5 1276.6 L2769 1277 L2769.5 1277.1 L2770 1277.2 L2770.5 1277.3 L2771 1277.4 L2771.5 1277.5 L2772 1277.6 L2772.5 1277.7 L2773 1277.8 L2773.5 1277.9 L2774 1278 L2774.5 1278.1 L2775 1278.2 L2775.5 1278.5 L2776 1278.6 L2776.5 1278.7 L2777 1278.8 L2777.5 1278.9 L2778 1279 L2778.5 1279.1 L2779 1279.1 L2779.5 1279.2 L2780 1279.3 L2780.5 1279.5 L2781 1279.5 L2781.5 1279.6 L2782 1279.9 L2782.5 1280 L2783 1280.1 L2783.5 1280.2 L2784 1280.3 L2784.5 1280.4 L2785 1280.5 L2785.5 1280.6 L2786 1280.7 L2786.5 1280.7 L2787 1280.8 L2787.5 1280.9 L2788 1281 L2788.5 1281.3 L2789 1281.4 L2789.5 1281.5 L2790 1281.6 L2790.5 1281.6 L2791 1281.6 L2791.5 1281.6 L2792 1281.7 L2792.5 1281.7 L2793 1281.7 L2793.5 1281.7 L2794 1281.8 L2794.5 1281.8 L2795 1281.9 L2795.5 1282 L2796 1282 L2796.5 1282 L2797 1282 L2797.5 1282 L2798 1282.1 L2798.5 1282.1 L2799 1282.1 L2799.5 1282.1 L2800 1282.1 L2800.5 1282.2 L2801 1282.2 L2801.5 1282.2 L2802 1282.4 L2802.5 1282.4 L2803 1282.4 L2803.5 1282.4 L2804 1282.4 L2804.5 1282.5 L2805 1282.5 L2805.5 1282.5 L2806 1282.5 L2806.5 1282.6 L2807 1282.6 L2807.5 1282.6 L2808 1282.6 L2808.5 1282.7 L2809 1282.8 L2809.5 1282.8 L2810 1282.8 L2810.5 1282.8 L2811 1282.9 L2811.5 1282.9 L2812 1282.9 L2812.5 1282.9 L2813 1282.9 L2813.5 1283 L2814 1283 L2814.5 1283 L2815 1283.1 L2815.5 1283.1 L2816 1283.2 L2816.5 1283.2 L2817 1283.2 L2817.5 1283.2 L2818 1283.3 L2818.5 1283.3 L2819 1283.3 L2819.5 1283.3 L2820 1283.3 L2820.5 1283.4 L2821 1283.4 L2821.5 1283.5 L2822 1283.5 L2822.5 1283.5 L2823 1283.5 L2823.5 1283.6 L2824 1283.6 L2824.5 1283.6 L2825 1283.6 L2825.5 1283.7 L2826 1283.7 L2826.5 1283.7 L2827 1283.7 L2827.5 1283.8 L2828 1283.8 L2828.5 1283.9 L2829 1283.9 L2829.5 1283.9 L2830 1283.9 L2830.5 1283.9 L2831 1284 L2831.5 1284 L2832 1284 L2832.5 1284 L2833 1284 L2833.5 1284.1 L2834 1284.1 L2834.5 1284.1 L2835 1284.2 L2835.5 1284.2 L2836 1284.2 L2836.5 1284.3 L2837 1284.3 L2837.5 1284.3 L2838 1284.3 L2838.5 1284.3 L2839 1284.4 L2839.5 1284.4 L2840 1284.4 L2840.5 1284.4 L2841 1284.5 L2841.5 1284.5 L2842 1284.5 L2842.5 1284.6 L2843 1284.6 L2843.5 1284.6 L2844 1284.6 L2844.5 1284.7 L2845 1284.7 L2845.5 1284.7 L2846 1284.7 L2846.5 1284.8 L2847 1284.8 L2847.5 1284.8 L2848 1284.9 L2848.5 1284.9 L2849 1284.9 L2849.5 1284.9 L2850 1284.9 L2850.5 1285 L2851 1285 L2851.5 1285 L2852 1285 L2852.5 1285.1 L2853 1285.1 L2853.5 1285.1 L2854 1285.1 L2854.5 1285.2 L2855 1285.2 L2855.5 1285.2 L2856 1285.2 L2856.5 1285.3 L2857 1285.3 L2857.5 1285.3 L2858 1285.3 L2858.5 1285.4 L2859 1285.4 L2859.5 1285.4 L2860 1285.4 L2860.5 1285.4 L2861 1285.5 L2861.5 1285.5 L2862 1285.5 L2862.5 1285.6 L2863 1285.6 L2863.5 1285.6 L2864 1285.6 L2864.5 1285.6 L2865 1285.7 L2865.5 1285.7 L2866 1285.7 L2866.5 1285.7 L2867 1285.8 L2867.5 1285.8 L2868 1285.8 L2868.5 1285.9 L2869 1285.9 L2869.5 1285.9 L2870 1285.9 L2870.5 1285.9 L2871 1286 L2871.5 1286 L2872 1286 L2872.5 1286 L2873 1286.1 L2873.5 1286.1 L2874 1286.1 L2874.5 1286.1 L2875 1286.2 L2875.5 1286.2 L2876 1286.2 L2876.5 1286.2 L2877 1286.2 L2877.5 1286.3 L2878 1286.3 L2878.5 1286.3 L2879 1286.3 L2879.5 1286.4 L2880 1286.4 L2880.5 1286.4 L2881 1286.4 L2881.5 1286.5 L2882 1286.5 L2882.5 1286.5 L2883 1286.5 L2883.5 1286.6 L2884 1286.6 L2884.5 1286.6 L2885 1286.6 L2885.5 1286.6 L2886 1286.7 L2886.5 1286.7 L2887 1286.7 L2887.5 1286.8 L2888 1286.8 L2888.5 1286.8 L2889 1286.8 L2889.5 1286.8 L2890 1286.9 L2890.5 1286.9 L2891 1286.9 L2891.5 1286.9 L2892 1286.9 L2892.5 1287 L2893 1287 L2893.5 1287 L2894 1287.1 L2894.5 1287.1 L2895 1287.1 L2895.5 1287.1 L2896 1287.1 L2896.5 1287.2 L2897 1287.2 L2897.5 1287.2 L2898 1287.2 L2898.5 1287.2 L2899 1287.3 L2899.5 1287.3 L2900 1287.3 L2900.5 1287.3 L2901 1287.4 L2901.5 1287.4 L2902 1287.4 L2902.5 1287.4 L2903 1287.5 L2903.5 1287.5 L2904 1287.5 L2904.5 1287.5 L2905 1287.5 L2905.5 1287.6 L2906 1287.6 L2906.5 1287.6 L2907 1287.6 L2907.5 1287.7 L2908 1287.7 L2908.5 1287.7 L2909 1287.7 L2909.5 1287.8 L2910 1287.8 L2910.5 1287.8 L2911 1287.8 L2911.5 1287.8 L2912 1287.9 L2912.5 1287.9 L2913 1287.9 L2913.5 1287.9 L2914 1288 L2914.5 1288 L2915 1288 L2915.5 1288 L2916 1288.1 L2916.5 1288.1 L2917 1288.1 L2917.5 1288.1 L2918 1288.1 L2918.5 1288.2 L2919 1288.2 L2919.5 1288.2 L2920 1288.2 L2920.5 1288.3 L2921 1288.3 L2921.5 1288.3 L2922 1288.3 L2922.5 1288.4 L2923 1288.4 L2923.5 1288.4 L2924 1288.4 L2924.5 1288.4 L2925 1288.5 L2925.5 1288.5 L2926 1288.5 L2926.5 1288.5 L2927 1288.6 L2927.5 1288.6 L2928 1288.6 L2928.5 1288.6 L2929 1288.6 L2929.5 1288.7 L2930 1288.7 L2930.5 1288.7 L2931 1288.7 L2931.5 1288.8 L2932 1288.8 L2932.5 1288.8 L2933 1288.8 L2933.5 1288.8 L2934 1288.9 L2934.5 1288.9 L2935 1288.9 L2935.5 1288.9 L2936 1289 L2936.5 1289 L2937 1289 L2937.5 1289 L2938 1289 L2938.5 1289.1 L2939 1289.1 L2939.5 1289.1 L2940 1289.1 L2940.5 1289.2 L2941 1289.2 L2941.5 1289.2 L2942 1289.2 L2942.5 1289.3 L2943 1289.3 L2943.5 1289.3 L2944 1289.3 L2944.5 1289.3 L2945 1289.4 L2945.5 1289.4 L2946 1289.4 L2946.5 1289.4 L2947 1289.5 L2947.5 1289.5 L2948 1289.5 L2948.5 1289.5 L2949 1289.5 L2949.5 1289.6 L2950 1289.6 L2950.5 1289.6 L2951 1289.6 L2951.5 1289.7 L2952 1289.7 L2952.5 1289.7 L2953 1289.7 L2953.5 1289.8 L2954 1289.8 L2954.5 1289.8 L2955 1289.8 L2955.5 1289.8 L2956 1289.9 L2956.5 1289.9 L2957 1289.9 L2957.5 1289.9 L2958 1289.9 L2958.5 1290 L2959 1290 L2959.5 1290 L2960 1290 L2960.5 1290.1 L2961 1290.1 L2961.5 1290.1 L2962 1290.1 L2962.5 1290.1 L2963 1290.2 L2963.5 1290.2 L2964 1290.2 L2964.5 1290.2 L2965 1290.3 L2965.5 1290.3 L2966 1290.3 L2966.5 1290.3 L2967 1290.4 L2967.5 1290.4 L2968 1290.4 L2968.5 1290.4 L2969 1290.4 L2969.5 1290.5 L2970 1290.5 L2970.5 1290.5 L2971 1290.5 L2971.5 1290.5 L2972 1290.6 L2972.5 1290.6 L2973 1290.6 L2973.5 1290.6 L2974 1290.7 L2974.5 1290.7 L2975 1290.7 L2975.5 1290.7 L2976 1290.7 L2976.5 1290.8 L2977 1290.8 L2977.5 1290.8 L2978 1290.8 L2978.5 1290.9 L2979 1290.9 L2979.5 1290.9 L2980 1290.9 L2980.5 1290.9 L2981 1291 L2981.5 1291 L2982 1291 L2982.5 1291 L2983 1291.1 L2983.5 1291.1 L2984 1291.1 L2984.5 1291.1 L2985 1291.1 L2985.5 1291.2 L2986 1291.2 L2986.5 1291.2 L2987 1291.2 L2987.5 1291.3 L2988 1291.3 L2988.5 1291.3 L2989 1291.3 L2989.5 1291.3 L2990 1291.4 L2990.5 1291.4 L2991 1291.4 L2991.5 1291.4 L2992 1291.5 L2992.5 1291.5 L2993 1291.5 L2993.5 1291.5 L2994 1291.5 L2994.5 1291.6 L2995 1291.6 L2995.5 1291.6 L2996 1291.6 L2996.5 1291.7 L2997 1291.7 L2997.5 1291.7 L2998 1291.7 L2998.5 1291.7 L2999 1291.8 L2999.5 1291.8 L3000 1291.8 L3000.5 1291.8 L3001 1291.8 L3001.5 1291.8 L3002 1291.8 L3002.5 1291.8 L3003 1291.8 L3003.5 1291.8 L3004 1291.8 L3004.5 1291.8 L3005 1291.8 L3005.5 1291.8 L3006 1291.8 L3006.5 1291.8 L3007 1291.8 L3007.5 1291.8 L3008 1291.8 L3008.5 1291.8 L3009 1291.8 L3009.5 1291.8 L3010 1291.8 L3010.5 1291.8 L3011 1291.8 L3011.5 1291.8 L3011.5 1298Z" fill="#4469b8"/>
<path d="M2457.5 1298 V1287M2464.1 1298 V1287M2470.7 1298 V1287M2477.3 1298 V1287M2483.9 1298 V1287M2490.5 1298 V1287M2497.1 1298 V1287M2503.7 1298 V1287M2510.3 1298 V1287M2516.9 1298 V1287M2523.5 1298 V1287M2530.1 1298 V1287M2536.7 1298 V1287M2543.3 1298 V1287M2549.9 1298 V1287M2556.5 1298 V1287M2563.1 1298 V1287M2569.7 1298 V1287M2576.3 1298 V1287M2582.9 1298 V1287M2589.5 1298 V1287M2596.1 1298 V1287M2602.7 1298 V1287M2609.3 1298 V1287M2615.9 1298 V1287M2622.5 1298 V1287M2629.1 1298 V1287M2635.7 1298 V1287M2642.3 1298 V1287M2648.9 1298 V1287M2655.5 1298 V1287M2662.1 1298 V1287M2668.7 1298 V1287M2675.3 1298 V1287M2681.9 1298 V1287M2688.5 1298 V1287M2695.1 1298 V1287M2701.7 1298 V1287M2708.3 1298 V1287M2714.9 1298 V1287M2721.5 1298 V1287M2728.1 1298 V1287M2734.7 1298 V1287M2741.3 1298 V1287M2747.9 1298 V1287M2754.5 1298 V1287M2761.1 1298 V1287M2767.7 1298 V1287M2774.3 1298 V1287M2780.9 1298 V1287M2787.5 1298 V1287M2794.1 1298 V1287M2800.7 1298 V1287M2807.3 1298 V1287M2813.9 1298 V1287M2820.5 1298 V1287M2827.1 1298 V1287M2833.7 1298 V1287M2840.3 1298 V1287M2846.9 1298 V1287M2853.5 1298 V1287M2860.1 1298 V1287M2866.7 1298 V1287M2873.3 1298 V1287M2879.9 1298 V1287M2886.5 1298 V1287M2893.1 1298 V1287M2899.7 1298 V1287M2906.3 1298 V1287M2912.9 1298 V1287M2919.5 1298 V1287M2926.1 1298 V1287M2932.7 1298 V1287M2939.3 1298 V1287M2945.9 1298 V1287M2952.5 1298 V1287M2959.1 1298 V1287M2965.7 1298 V1287M2972.3 1298 V1287M2978.9 1298 V1287M2985.5 1298 V1287M2992.1 1298 V1287M2998.7 1298 V1287M3005.3 1298 V1287M3011.9 1298 V1287" stroke="#eef1fa" stroke-width="2.6" fill="none" clip-path="url(#clb)"/>
<path d="M2457.5 1287 V1279.5M2464.1 1287 V1279.2M2470.7 1287 V1278.9M2477.3 1287 V1278.5M2483.9 1287 V1278M2490.5 1287 V1277.2M2497.1 1287 V1276M2503.7 1287 V1274M2510.3 1287 V1270.6M2516.9 1287 V1263.6M2523.5 1287 V1247.8M2530.1 1287 V1201.8M2536.7 1287 V1187.6M2543.3 1287 V1246.9M2549.9 1287 V1262.1M2556.5 1287 V1268.3M2563.1 1287 V1270.8M2569.7 1287 V1271.3M2576.3 1287 V1270.5M2582.9 1287 V1268M2589.5 1287 V1262.6M2596.1 1287 V1251.2M2602.7 1287 V1224.5M2609.3 1287 V1196.6M2615.9 1287 V955.4M2622.5 1287 V1224.4M2629.1 1287 V1250.9M2635.7 1287 V1262.3M2642.3 1287 V1267.5M2648.9 1287 V1269.9M2655.5 1287 V1270.6M2662.1 1287 V1270M2668.7 1287 V1267.8M2675.3 1287 V1262.7M2681.9 1287 V1251.7M2688.5 1287 V1225.7M2695.1 1287 V974.1M2701.7 1287 V1195.4M2708.3 1287 V1226.4M2714.9 1287 V1252.8M2721.5 1287 V1264.5M2728.1 1287 V1270.2M2734.7 1287 V1273.4M2741.3 1287 V1276.5M2747.9 1287 V1278.9M2754.5 1287 V1281M2761.1 1287 V1282.8M2767.7 1287 V1284.5M2774.3 1287 V1286M2780.9 1287 V1287M2787.5 1287 V1287M2794.1 1287 V1287M2800.7 1287 V1287M2807.3 1287 V1287M2813.9 1287 V1287M2820.5 1287 V1287M2827.1 1287 V1287M2833.7 1287 V1287M2840.3 1287 V1287M2846.9 1287 V1287M2853.5 1287 V1287M2860.1 1287 V1287M2866.7 1287 V1287M2873.3 1287 V1287M2879.9 1287 V1287M2886.5 1287 V1287M2893.1 1287 V1287M2899.7 1287 V1287M2906.3 1287 V1287M2912.9 1287 V1287M2919.5 1287 V1287M2926.1 1287 V1287M2932.7 1287 V1287M2939.3 1287 V1287M2945.9 1287 V1287M2952.5 1287 V1287M2959.1 1287 V1287M2965.7 1287 V1287M2972.3 1287 V1287M2978.9 1287 V1287M2985.5 1287 V1287M2992.1 1287 V1287M2998.7 1287 V1287M3005.3 1287 V1287M3011.9 1287 V1287" stroke="#9fb4e2" stroke-width="1.6" fill="none" opacity="0.55" clip-path="url(#clb)"/>
<path d="M2526.1 1298 L2529.5 1118.9 L2532.5 1108.5 L2534.9 1108.5 L2537.9 1118.9 L2541.3 1298Z" fill="#4a7bb2"/>
<path d="M2530.3 1298 L2532 1124.9 L2535.4 1124.9 L2537.1 1298Z" fill="#b4d6f2"/>
<path d="M2529.9 1298 L2532.1 1241.2 L2535.3 1241.2 L2537.5 1298Z" fill="#f3f0fc"/>
<path d="M2529.2 1126.9 L2529.5 1118.9 L2532.5 1108.5 L2534.9 1108.5 L2537.9 1118.9 L2538.2 1126.9Z" fill="#7472c0" opacity="0.85"/>
<path d="M2607.8 1298 L2611.2 944 L2614.2 924 L2616.6 924 L2619.6 944 L2623 1298Z" fill="#4a7bb2"/>
<path d="M2612 1298 L2613.7 950 L2617.1 950 L2618.8 1298Z" fill="#b4d6f2"/>
<path d="M2611.6 1298 L2613.8 1185.8 L2617 1185.8 L2619.2 1298Z" fill="#f3f0fc"/>
<path d="M2610.9 952 L2611.2 944 L2614.2 924 L2616.6 924 L2619.6 944 L2619.9 952Z" fill="#7472c0" opacity="0.85"/>
<path d="M2688.4 1298 L2691.8 944 L2694.8 924 L2697.2 924 L2700.2 944 L2703.6 1298Z" fill="#4a7bb2"/>
<path d="M2692.6 1298 L2694.3 950 L2697.7 950 L2699.4 1298Z" fill="#b4d6f2"/>
<path d="M2692.2 1298 L2694.4 1185.8 L2697.6 1185.8 L2699.8 1298Z" fill="#f3f0fc"/>
<path d="M2691.5 952 L2691.8 944 L2694.8 924 L2697.2 924 L2700.2 944 L2700.5 952Z" fill="#7472c0" opacity="0.85"/>
<line x1="2450" y1="1300" x2="2450" y2="838" stroke="#141414" stroke-width="4.5" /><path d="M2450 816 L2460 846 L2450 842.4 L2440 846Z" fill="#141414"/><line x1="2448" y1="1298" x2="3019" y2="1298" stroke="#141414" stroke-width="4.5" /><path d="M3041 1298 L3011 1308 L3014.6 1298 L3011 1288Z" fill="#141414"/>
<text x="2318" y="853" font-size="54.5" text-anchor="start" fill="#141414" >幅度</text>
<text x="2954" y="1365" font-size="54.5" text-anchor="start" fill="#141414" >频率</text>
<ellipse cx="2531.6" cy="1201.5" rx="52.5" ry="128.5" fill="none" stroke="#d8214f" stroke-width="5.5" stroke-dasharray="21 17"/>
<ellipse cx="2866.5" cy="1278.6" rx="120.5" ry="47.5" fill="none" stroke="#d8214f" stroke-width="5.5" stroke-dasharray="21 17"/>
<line x1="2531.7" y1="727" x2="2531.7" y2="1040" stroke="#a23366" stroke-width="3.2" /><path d="M2531.7 1055 L2525.2 1035 L2531.7 1038 L2538.2 1035Z" fill="#b02a60"/>
<line x1="2864" y1="727" x2="2864" y2="1198" stroke="#4a3a4a" stroke-width="2.6" /><path d="M2864 1213 L2857.5 1193 L2864 1196 L2870.5 1193Z" fill="#b02a60"/>
<text x="2591" y="1054" font-size="54.3" text-anchor="start" fill="#26263e" transform="rotate(-90 2591 1054)" >折叠结构放大</text>
<text x="0" y="0" font-size="55" text-anchor="start" fill="#35359a" transform="translate(2930 1174) rotate(-90) scale(1.17 1)" >Bragg</text>
<text x="2930" y="1015" font-size="55" text-anchor="start" fill="#30306e" transform="rotate(-90 2930 1015)" >带隙抑制</text>
<line x1="2689.6" y1="1415" x2="2689.6" y2="1352" stroke="#141414" stroke-width="10.5" /><path d="M2689.6 1321.5 L2710.6 1373.5 L2689.6 1363.1 L2668.6 1373.5Z" fill="#141414"/>
<path d="M2492 1583 L2962 1643 L2958 1726 L2943 1733 L2478 1674Z" fill="#e3e3e3"/>
<path d="M2484.9 1594.4 L2560.4 1604.1 L2554.6 1683.6 L2478.9 1674.1Z" fill="#4e4e4e"/><path d="M2489.8 1600.7 L2554.7 1609 L2549.7 1677.4 L2484.6 1669.2Z" fill="#8e8e8e"/><path d="M2496.1 1607.9 L2549.7 1614.8 L2545.5 1672.1 L2491.8 1665.3Z" fill="#5a5a5a"/><path d="M2498.2 1610.6 L2547.3 1616.9 L2543.4 1669.4 L2494.3 1663.2Z" fill="#9a9a9a"/><path d="M2501.8 1612.7 L2545.6 1618.3 L2542.2 1664.4 L2498.4 1658.9Z" fill="#c6c6c6"/>
<path d="M2562.2 1604.4 L2637.7 1614.1 L2632.1 1693.4 L2556.4 1683.9Z" fill="#4e4e4e"/><path d="M2567.1 1610.6 L2632 1619 L2627.2 1687.2 L2562.1 1679Z" fill="#8e8e8e"/><path d="M2573.4 1617.8 L2627 1624.7 L2623 1681.9 L2569.3 1675.1Z" fill="#5a5a5a"/><path d="M2575.5 1620.5 L2624.6 1626.8 L2620.9 1679.2 L2571.7 1673Z" fill="#9a9a9a"/><path d="M2579.2 1622.6 L2623 1628.2 L2619.7 1674.2 L2575.8 1668.7Z" fill="#c6c6c6"/>
<path d="M2639.5 1614.3 L2715 1624 L2709.6 1703.2 L2633.9 1693.7Z" fill="#4e4e4e"/><path d="M2644.4 1620.6 L2709.3 1628.9 L2704.7 1697 L2639.6 1688.8Z" fill="#8e8e8e"/><path d="M2650.8 1627.8 L2704.4 1634.6 L2700.4 1691.7 L2646.8 1684.9Z" fill="#5a5a5a"/><path d="M2652.9 1630.4 L2701.9 1636.7 L2698.3 1689 L2649.2 1682.8Z" fill="#9a9a9a"/><path d="M2656.5 1632.5 L2700.3 1638.1 L2697.2 1684 L2653.3 1678.5Z" fill="#c6c6c6"/>
<path d="M2716.8 1624.3 L2792.3 1634 L2787.1 1712.9 L2711.4 1703.4Z" fill="#4e4e4e"/><path d="M2721.7 1630.5 L2786.6 1638.8 L2782.1 1706.8 L2717.1 1698.5Z" fill="#8e8e8e"/><path d="M2728.1 1637.7 L2781.7 1644.6 L2777.9 1701.4 L2724.2 1694.7Z" fill="#5a5a5a"/><path d="M2730.2 1640.4 L2779.3 1646.6 L2775.8 1698.8 L2726.7 1692.6Z" fill="#9a9a9a"/><path d="M2733.9 1642.4 L2777.6 1648 L2774.6 1693.9 L2730.8 1688.3Z" fill="#c6c6c6"/>
<path d="M2794.1 1634.2 L2869.6 1643.9 L2864.6 1722.7 L2788.9 1713.2Z" fill="#4e4e4e"/><path d="M2799 1640.4 L2863.9 1648.8 L2859.6 1716.5 L2794.6 1708.3Z" fill="#8e8e8e"/><path d="M2805.4 1647.6 L2859 1654.5 L2855.4 1711.2 L2801.7 1704.4Z" fill="#5a5a5a"/><path d="M2807.5 1650.3 L2856.6 1656.6 L2853.3 1708.6 L2804.1 1702.4Z" fill="#9a9a9a"/><path d="M2811.2 1652.3 L2855 1657.9 L2852.1 1703.7 L2808.2 1698.1Z" fill="#c6c6c6"/>
<path d="M2871.4 1644.2 L2946.9 1653.9 L2942.1 1732.5 L2866.4 1723Z" fill="#4e4e4e"/><path d="M2876.4 1650.4 L2941.3 1658.7 L2937.1 1726.3 L2872.1 1718.1Z" fill="#8e8e8e"/><path d="M2882.8 1657.5 L2936.3 1664.4 L2932.9 1721 L2879.2 1714.2Z" fill="#5a5a5a"/><path d="M2884.9 1660.2 L2933.9 1666.5 L2930.7 1718.4 L2881.6 1712.2Z" fill="#9a9a9a"/><path d="M2888.5 1662.2 L2932.3 1667.9 L2929.5 1713.5 L2885.7 1707.9Z" fill="#c6c6c6"/>
<path d="M2700 1447 L2812 1460 L2795 1580 L2787 1585 L2681 1564.5 L2690 1457Z" fill="#e0e0e0"/>
<path d="M2690 1457 L2803.6 1470 L2787 1585 L2681 1564.5Z" fill="#4e4e4e"/><path d="M2697.3 1465.5 L2794.5 1477.1 L2780.7 1575.6 L2689.1 1558.4Z" fill="#8e8e8e"/><path d="M2706.6 1475.4 L2786.5 1485.4 L2775.2 1567.5 L2699.3 1553.6Z" fill="#5a5a5a"/><path d="M2709.7 1479.1 L2782.7 1488.4 L2772.5 1563.5 L2702.8 1551Z" fill="#9a9a9a"/><path d="M2715.1 1482 L2780.1 1490.4 L2771.3 1556.3 L2708.8 1545.4Z" fill="#c6c6c6"/>
<circle cx="2745" cy="1511" r="94" fill="none" stroke="#141414" stroke-width="3"/>
<circle cx="2597" cy="1649" r="62" fill="none" stroke="#141414" stroke-width="3"/>
<path d="M2639 1600 L2664 1563 L2673 1572Z" fill="#141414"/>
<text x="2360" y="1584" font-size="54.5" text-anchor="start" fill="#141414" >输入</text>
<text x="2976" y="1651" font-size="54.5" text-anchor="start" fill="#141414" >输出</text>
<path d="M2383 1611 L2401 1611 Q2407 1611 2411 1619 L2417 1630 Q2419.5 1635 2422 1627 L2427 1607 Q2429 1601 2431.5 1608 L2438 1620 L2443 1619 L2460 1618.5" stroke="#f6f0a0" stroke-width="8" fill="none" stroke-linejoin="round" stroke-linecap="round" opacity="0.8"/><path d="M2383 1611 L2401 1611 Q2407 1611 2411 1619 L2417 1630 Q2419.5 1635 2422 1627 L2427 1607 Q2429 1601 2431.5 1608 L2438 1620 L2443 1619 L2460 1618.5" stroke="#e6bc1e" stroke-width="3.6" fill="none" stroke-linejoin="round" stroke-linecap="round"/>
<path d="M2985 1683 L3003 1683 Q3009 1683 3013 1691 L3019 1702 Q3021.5 1707 3024 1699 L3029 1679 Q3031 1673 3033.5 1680 L3040 1692 L3045 1691 L3062 1690.5" stroke="#f6f0a0" stroke-width="8" fill="none" stroke-linejoin="round" stroke-linecap="round" opacity="0.8"/><path d="M2985 1683 L3003 1683 Q3009 1683 3013 1691 L3019 1702 Q3021.5 1707 3024 1699 L3029 1679 Q3031 1673 3033.5 1680 L3040 1692 L3045 1691 L3062 1690.5" stroke="#e6bc1e" stroke-width="3.6" fill="none" stroke-linejoin="round" stroke-linecap="round"/>
</g>
</svg>
</body></html>
